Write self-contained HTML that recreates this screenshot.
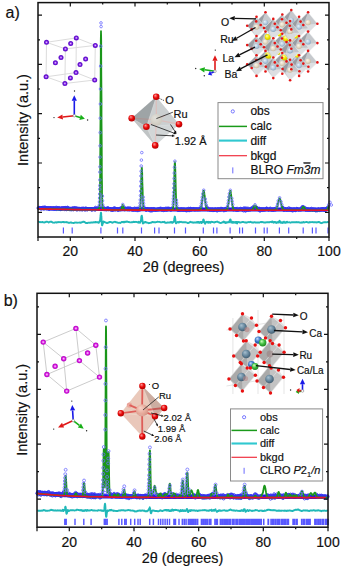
<!DOCTYPE html>
<html><head><meta charset="utf-8"><style>
html,body{margin:0;padding:0;background:#fff;width:342px;height:570px;overflow:hidden}
svg{display:block}
text{font-family:"Liberation Sans", sans-serif;stroke:#111;stroke-width:0.18px}
</style></head><body>
<svg width="342" height="570" viewBox="0 0 342 570" font-family="Liberation Sans, sans-serif" fill="#111"><defs><radialGradient id="gO" cx="0.45" cy="0.42" r="0.6" fx="0.35" fy="0.3"><stop offset="0" stop-color="#ff9a9a"/><stop offset="0.55" stop-color="#e80808"/><stop offset="1" stop-color="#b00000"/></radialGradient><radialGradient id="gBe" cx="0.45" cy="0.42" r="0.6" fx="0.35" fy="0.3"><stop offset="0" stop-color="#fbf6ec"/><stop offset="0.55" stop-color="#e6dcc8"/><stop offset="1" stop-color="#c8b89c"/></radialGradient><radialGradient id="gBl" cx="0.45" cy="0.42" r="0.6" fx="0.35" fy="0.3"><stop offset="0" stop-color="#eaf2fa"/><stop offset="0.55" stop-color="#b8cde0"/><stop offset="1" stop-color="#8aa6c0"/></radialGradient><radialGradient id="gYe" cx="0.45" cy="0.42" r="0.6" fx="0.35" fy="0.3"><stop offset="0" stop-color="#ffffb0"/><stop offset="0.55" stop-color="#f0e800"/><stop offset="1" stop-color="#c8b800"/></radialGradient><radialGradient id="gRuA" cx="0.45" cy="0.42" r="0.6" fx="0.35" fy="0.3"><stop offset="0" stop-color="#f6f0e4"/><stop offset="0.55" stop-color="#e4d8c2"/><stop offset="1" stop-color="#cbbca0"/></radialGradient><radialGradient id="gRuB" cx="0.45" cy="0.42" r="0.6" fx="0.35" fy="0.3"><stop offset="0" stop-color="#fbd8d0"/><stop offset="0.55" stop-color="#e8a496"/><stop offset="1" stop-color="#c87a6a"/></radialGradient><radialGradient id="gDk" cx="0.45" cy="0.42" r="0.6" fx="0.35" fy="0.3"><stop offset="0" stop-color="#a8c0d0"/><stop offset="0.55" stop-color="#6a8aa0"/><stop offset="1" stop-color="#3e5a6e"/></radialGradient><radialGradient id="gCaB" cx="0.45" cy="0.42" r="0.6" fx="0.35" fy="0.3"><stop offset="0" stop-color="#c8e0ff"/><stop offset="0.55" stop-color="#3a78c8"/><stop offset="1" stop-color="#1a4a90"/></radialGradient><radialGradient id="gCaG" cx="0.45" cy="0.42" r="0.6" fx="0.35" fy="0.3"><stop offset="0" stop-color="#d0ffc0"/><stop offset="0.55" stop-color="#40c040"/><stop offset="1" stop-color="#208020"/></radialGradient><radialGradient id="gPu" cx="0.5" cy="0.5" r="0.5"><stop offset="0" stop-color="#f4d8ff"/><stop offset="0.35" stop-color="#a050f0"/><stop offset="0.6" stop-color="#6a14d8"/><stop offset="1" stop-color="#5a0cc0"/></radialGradient><radialGradient id="gMg" cx="0.5" cy="0.5" r="0.5"><stop offset="0" stop-color="#ffe0ff"/><stop offset="0.35" stop-color="#e860f0"/><stop offset="0.6" stop-color="#d010d8"/><stop offset="1" stop-color="#b008c0"/></radialGradient></defs><rect width="342" height="570" fill="#fff"/><text x="5.5" y="17.5" font-size="16">a)</text>
<text x="3.7" y="306" font-size="16">b)</text>
<path d="M46.5 42.3L76.3 37.9M76.3 37.9L95.3 45.4M95.3 45.4L65.4 48.9M65.4 48.9L46.5 42.3M46.1 76.8L76 72.6M76 72.6L94.7 80M94.7 80L64.9 83.5M64.9 83.5L46.1 76.8M46.5 42.3L46.1 76.8M76.3 37.9L76 72.6M95.3 45.4L94.7 80M65.4 48.9L64.9 83.5" stroke="#dcdcdc" stroke-width="1" fill="none"/>
<circle cx="46.5" cy="42.3" r="2.5" fill="url(#gPu)"/>
<circle cx="76.3" cy="37.9" r="2.5" fill="url(#gPu)"/>
<circle cx="95.3" cy="45.4" r="2.5" fill="url(#gPu)"/>
<circle cx="65.4" cy="48.9" r="2.5" fill="url(#gPu)"/>
<circle cx="46.1" cy="76.8" r="2.5" fill="url(#gPu)"/>
<circle cx="76" cy="72.6" r="2.5" fill="url(#gPu)"/>
<circle cx="94.7" cy="80" r="2.5" fill="url(#gPu)"/>
<circle cx="64.9" cy="83.5" r="2.5" fill="url(#gPu)"/>
<circle cx="70.7" cy="43.5" r="2.5" fill="url(#gPu)"/>
<circle cx="55.4" cy="62.8" r="2.5" fill="url(#gPu)"/>
<circle cx="61" cy="57.5" r="2.5" fill="url(#gPu)"/>
<circle cx="80" cy="64.6" r="2.5" fill="url(#gPu)"/>
<circle cx="85.6" cy="59" r="2.5" fill="url(#gPu)"/>
<circle cx="70.4" cy="77.9" r="2.5" fill="url(#gPu)"/>
<path d="M74.3 115.7L74.3 100.8" stroke="#1a1ae8" stroke-width="1.6"/>
<path d="M74.3 95.3L76.9 100.8L71.7 100.8Z" fill="#1a1ae8"/>
<path d="M74.3 115.7L62.7 117" stroke="#e01818" stroke-width="1.6"/>
<path d="M57.2 117.6L62.4 114.4L63 119.6Z" fill="#e01818"/>
<path d="M74.3 115.7L80.1 117.4" stroke="#18b018" stroke-width="1.6"/>
<path d="M84.9 118.7L79.4 119.9L80.8 114.8Z" fill="#18b018"/>
<circle cx="74.3" cy="115.7" r="1.3" fill="#fff" stroke="#888" stroke-width="0.6"/>
<circle cx="74.5" cy="91" r="0.7" fill="#222"/>
<circle cx="54" cy="117.6" r="0.7" fill="#222"/>
<circle cx="87.6" cy="120" r="0.7" fill="#222"/>
<path d="M38.3 208 40.3 208.1 42.3 208.1 44.3 208.2 46.3 208.2 48.3 208.3 50.3 208.3 52.3 208.4 54.3 208.4 56.3 208.5 58.3 208.5 60.3 208.5 62.3 208.6 64.3 208.6 66.3 208.6 68.3 208.7 70.3 208.7 72.3 208.7 74.3 208.8 76.3 208.8 78.3 208.8 80.3 208.9 82.3 208.9 84.3 208.9 86.3 208.9 88.3 209 90.3 209 92.3 209 94.3 209 96.3 209 98.2 209.1 98.7 209.1 99 209.1 99.5 209.1 99.8 209.1 100.2 209.1 100.7 209.1 101 209.1 101.3 209.1 101.8 209.1 102.2 209.1 102.5 209.1 103 209.1 103.3 209.1 103.8 209.1 105.5 209.1 107.5 209.1 109.5 209.1 111.5 209.2 113.5 209.2 115.5 209.2 117.5 209.2 119.5 209.2 121.5 209.2 123.1 209.2 125.1 209.2 127.1 209.2 129.1 209.3 131.1 209.3 133.1 209.3 135.1 209.3 137.1 209.3 138.2 209.3 138.7 209.3 139.1 209.3 139.4 209.3 139.8 209.3 140.2 209.3 140.7 209.3 141.1 209.3 141.4 209.3 141.8 209.3 142.2 209.3 142.6 209.3 142.9 209.3 143.3 209.3 143.8 209.3 144.2 209.3 144.6 209.3 144.9 209.3 145.3 209.3 146.3 209.3 148.3 209.3 150.3 209.3 152.3 209.3 154.3 209.4 156.3 209.4 158.3 209.4 160.3 209.4 162.3 209.4 164.3 209.4 166.3 209.4 168.3 209.4 170.3 209.4 171.2 209.4 171.7 209.4 172.2 209.4 172.7 209.4 173.2 209.4 173.7 209.4 174.2 209.4 174.7 209.4 175.2 209.4 175.7 209.4 176.2 209.4 176.7 209.4 177.2 209.4 177.7 209.4 178.2 209.4 178.7 209.4 179.9 209.4 181.9 209.4 183.9 209.4 185.9 209.4 187.9 209.4 189.9 209.4 191.9 209.4 193.9 209.4 195.9 209.4 196.7 209.4 197.1 209.4 197.5 209.4 197.9 209.4 198.3 209.4 198.7 209.4 199.1 209.4 199.5 209.4 199.9 209.4 200.3 209.4 200.7 209.4 201.1 209.4 201.5 209.4 201.9 209.4 202.3 209.4 202.7 209.4 203.1 209.4 203.5 209.4 203.8 209.4 204.2 209.4 204.7 209.4 205.1 209.4 205.4 209.4 205.8 209.4 206.2 209.4 206.7 209.4 207.1 209.4 207.4 209.4 207.8 209.4 208.2 209.5 208.7 209.5 209.1 209.5 209.4 209.5 209.8 209.5 210.2 209.5 210.7 209.5 211.1 209.5 213.1 209.5 215.1 209.5 217.1 209.5 219.1 209.5 221.1 209.5 223.1 209.5 223.4 209.5 223.8 209.5 224.2 209.5 224.7 209.5 225.1 209.5 225.4 209.5 225.8 209.5 226.2 209.5 226.7 209.5 227.1 209.5 227.4 209.5 227.8 209.5 228.2 209.5 228.7 209.5 229.1 209.5 229.4 209.5 229.8 209.5 230.2 209.5 230.7 209.5 231.1 209.5 231.4 209.5 231.8 209.5 232.2 209.5 232.7 209.5 233.1 209.5 233.4 209.5 233.8 209.5 234.2 209.5 234.7 209.5 235.1 209.5 235.4 209.5 235.8 209.5 236.2 209.5 236.7 209.5 237.1 209.5 237.4 209.5 238.7 209.5 240.7 209.5 242.7 209.5 244.7 209.5 246.7 209.5 248.7 209.5 250.7 209.5 252.7 209.5 254.7 209.5 256.3 209.5 258.3 209.5 260.3 209.5 262.3 209.5 264.3 209.5 266.3 209.5 268.3 209.5 270.3 209.5 271.4 209.5 271.9 209.5 272.4 209.5 272.9 209.5 273.4 209.5 273.9 209.5 274.4 209.5 274.9 209.5 275.4 209.5 275.9 209.5 276.4 209.5 276.9 209.5 277.4 209.5 277.9 209.5 278.4 209.5 278.9 209.5 279.4 209.5 279.9 209.5 280.4 209.5 280.9 209.5 281.4 209.5 281.9 209.5 282.4 209.5 282.9 209.5 283.4 209.5 283.9 209.5 284.4 209.5 284.9 209.5 285.4 209.5 285.9 209.5 286.4 209.5 286.9 209.5 287.4 209.5 287.9 209.5 289.5 209.5 291.5 209.5 293.5 209.5 295.5 209.5 297.5 209.5 299.5 209.5 301.5 209.5 303.4 209.5 305.1 209.5 307.1 209.5 309.1 209.5 311.1 209.5 313.1 209.5 315.1 209.5 317.1 209.5 319.1 209.5 321.1 209.5 323.1 209.5 325.1 209.5 327.1 209.5" fill="none" stroke="#1818e8" stroke-width="4.0"/>
<path d="M37 208a1.3 1.3 0 1 0 2.6 0a1.3 1.3 0 1 0 -2.6 0M37.4 208.4a1.3 1.3 0 1 0 2.6 0a1.3 1.3 0 1 0 -2.6 0M37.8 208a1.3 1.3 0 1 0 2.6 0a1.3 1.3 0 1 0 -2.6 0M38.2 208a1.3 1.3 0 1 0 2.6 0a1.3 1.3 0 1 0 -2.6 0M38.6 207.6a1.3 1.3 0 1 0 2.6 0a1.3 1.3 0 1 0 -2.6 0M39 208a1.3 1.3 0 1 0 2.6 0a1.3 1.3 0 1 0 -2.6 0M39.4 208.8a1.3 1.3 0 1 0 2.6 0a1.3 1.3 0 1 0 -2.6 0M39.8 208.4a1.3 1.3 0 1 0 2.6 0a1.3 1.3 0 1 0 -2.6 0M40.2 208.8a1.3 1.3 0 1 0 2.6 0a1.3 1.3 0 1 0 -2.6 0M40.6 208.3a1.3 1.3 0 1 0 2.6 0a1.3 1.3 0 1 0 -2.6 0M41 208.4a1.3 1.3 0 1 0 2.6 0a1.3 1.3 0 1 0 -2.6 0M41.4 208.3a1.3 1.3 0 1 0 2.6 0a1.3 1.3 0 1 0 -2.6 0M41.8 207.3a1.3 1.3 0 1 0 2.6 0a1.3 1.3 0 1 0 -2.6 0M42.2 208.7a1.3 1.3 0 1 0 2.6 0a1.3 1.3 0 1 0 -2.6 0M42.6 208.5a1.3 1.3 0 1 0 2.6 0a1.3 1.3 0 1 0 -2.6 0M43 208.5a1.3 1.3 0 1 0 2.6 0a1.3 1.3 0 1 0 -2.6 0M43.4 207.4a1.3 1.3 0 1 0 2.6 0a1.3 1.3 0 1 0 -2.6 0M43.8 207.3a1.3 1.3 0 1 0 2.6 0a1.3 1.3 0 1 0 -2.6 0M44.2 207.8a1.3 1.3 0 1 0 2.6 0a1.3 1.3 0 1 0 -2.6 0M44.6 208.1a1.3 1.3 0 1 0 2.6 0a1.3 1.3 0 1 0 -2.6 0M45 208.5a1.3 1.3 0 1 0 2.6 0a1.3 1.3 0 1 0 -2.6 0M45.4 208.3a1.3 1.3 0 1 0 2.6 0a1.3 1.3 0 1 0 -2.6 0M45.8 208.6a1.3 1.3 0 1 0 2.6 0a1.3 1.3 0 1 0 -2.6 0M46.2 208a1.3 1.3 0 1 0 2.6 0a1.3 1.3 0 1 0 -2.6 0M46.6 208.5a1.3 1.3 0 1 0 2.6 0a1.3 1.3 0 1 0 -2.6 0M47 208.6a1.3 1.3 0 1 0 2.6 0a1.3 1.3 0 1 0 -2.6 0M47.4 208a1.3 1.3 0 1 0 2.6 0a1.3 1.3 0 1 0 -2.6 0M47.8 209.3a1.3 1.3 0 1 0 2.6 0a1.3 1.3 0 1 0 -2.6 0M48.2 208.7a1.3 1.3 0 1 0 2.6 0a1.3 1.3 0 1 0 -2.6 0M48.6 209.1a1.3 1.3 0 1 0 2.6 0a1.3 1.3 0 1 0 -2.6 0M49 208.1a1.3 1.3 0 1 0 2.6 0a1.3 1.3 0 1 0 -2.6 0M49.4 208a1.3 1.3 0 1 0 2.6 0a1.3 1.3 0 1 0 -2.6 0M49.8 208.3a1.3 1.3 0 1 0 2.6 0a1.3 1.3 0 1 0 -2.6 0M50.2 208.4a1.3 1.3 0 1 0 2.6 0a1.3 1.3 0 1 0 -2.6 0M50.6 208.8a1.3 1.3 0 1 0 2.6 0a1.3 1.3 0 1 0 -2.6 0M51 208.6a1.3 1.3 0 1 0 2.6 0a1.3 1.3 0 1 0 -2.6 0M51.4 208.2a1.3 1.3 0 1 0 2.6 0a1.3 1.3 0 1 0 -2.6 0M51.8 208a1.3 1.3 0 1 0 2.6 0a1.3 1.3 0 1 0 -2.6 0M52.2 208.2a1.3 1.3 0 1 0 2.6 0a1.3 1.3 0 1 0 -2.6 0M52.6 209.2a1.3 1.3 0 1 0 2.6 0a1.3 1.3 0 1 0 -2.6 0M53 208.1a1.3 1.3 0 1 0 2.6 0a1.3 1.3 0 1 0 -2.6 0M53.4 208.7a1.3 1.3 0 1 0 2.6 0a1.3 1.3 0 1 0 -2.6 0M53.8 208.8a1.3 1.3 0 1 0 2.6 0a1.3 1.3 0 1 0 -2.6 0M54.2 207.7a1.3 1.3 0 1 0 2.6 0a1.3 1.3 0 1 0 -2.6 0M54.6 208.6a1.3 1.3 0 1 0 2.6 0a1.3 1.3 0 1 0 -2.6 0M55 209.3a1.3 1.3 0 1 0 2.6 0a1.3 1.3 0 1 0 -2.6 0M55.4 207.5a1.3 1.3 0 1 0 2.6 0a1.3 1.3 0 1 0 -2.6 0M55.8 208.4a1.3 1.3 0 1 0 2.6 0a1.3 1.3 0 1 0 -2.6 0M56.2 208.5a1.3 1.3 0 1 0 2.6 0a1.3 1.3 0 1 0 -2.6 0M56.6 208.1a1.3 1.3 0 1 0 2.6 0a1.3 1.3 0 1 0 -2.6 0M57 208.9a1.3 1.3 0 1 0 2.6 0a1.3 1.3 0 1 0 -2.6 0M57.4 208.6a1.3 1.3 0 1 0 2.6 0a1.3 1.3 0 1 0 -2.6 0M57.8 207.8a1.3 1.3 0 1 0 2.6 0a1.3 1.3 0 1 0 -2.6 0M58.2 209.1a1.3 1.3 0 1 0 2.6 0a1.3 1.3 0 1 0 -2.6 0M58.6 209a1.3 1.3 0 1 0 2.6 0a1.3 1.3 0 1 0 -2.6 0M59 209.2a1.3 1.3 0 1 0 2.6 0a1.3 1.3 0 1 0 -2.6 0M59.4 209.4a1.3 1.3 0 1 0 2.6 0a1.3 1.3 0 1 0 -2.6 0M59.8 208.8a1.3 1.3 0 1 0 2.6 0a1.3 1.3 0 1 0 -2.6 0M60.2 208.7a1.3 1.3 0 1 0 2.6 0a1.3 1.3 0 1 0 -2.6 0M60.6 207.9a1.3 1.3 0 1 0 2.6 0a1.3 1.3 0 1 0 -2.6 0M61 209a1.3 1.3 0 1 0 2.6 0a1.3 1.3 0 1 0 -2.6 0M61.4 208.3a1.3 1.3 0 1 0 2.6 0a1.3 1.3 0 1 0 -2.6 0M61.8 208.4a1.3 1.3 0 1 0 2.6 0a1.3 1.3 0 1 0 -2.6 0M62.2 208a1.3 1.3 0 1 0 2.6 0a1.3 1.3 0 1 0 -2.6 0M62.6 208.2a1.3 1.3 0 1 0 2.6 0a1.3 1.3 0 1 0 -2.6 0M63 208.4a1.3 1.3 0 1 0 2.6 0a1.3 1.3 0 1 0 -2.6 0M63.4 209.4a1.3 1.3 0 1 0 2.6 0a1.3 1.3 0 1 0 -2.6 0M63.8 207.6a1.3 1.3 0 1 0 2.6 0a1.3 1.3 0 1 0 -2.6 0M64.2 207.9a1.3 1.3 0 1 0 2.6 0a1.3 1.3 0 1 0 -2.6 0M64.6 208.9a1.3 1.3 0 1 0 2.6 0a1.3 1.3 0 1 0 -2.6 0M65 209.5a1.3 1.3 0 1 0 2.6 0a1.3 1.3 0 1 0 -2.6 0M65.4 209.1a1.3 1.3 0 1 0 2.6 0a1.3 1.3 0 1 0 -2.6 0M65.8 207.7a1.3 1.3 0 1 0 2.6 0a1.3 1.3 0 1 0 -2.6 0M66.2 207.4a1.3 1.3 0 1 0 2.6 0a1.3 1.3 0 1 0 -2.6 0M66.6 209a1.3 1.3 0 1 0 2.6 0a1.3 1.3 0 1 0 -2.6 0M67 208.4a1.3 1.3 0 1 0 2.6 0a1.3 1.3 0 1 0 -2.6 0M67.4 208.2a1.3 1.3 0 1 0 2.6 0a1.3 1.3 0 1 0 -2.6 0M67.8 209.3a1.3 1.3 0 1 0 2.6 0a1.3 1.3 0 1 0 -2.6 0M68.2 209.4a1.3 1.3 0 1 0 2.6 0a1.3 1.3 0 1 0 -2.6 0M68.6 208.9a1.3 1.3 0 1 0 2.6 0a1.3 1.3 0 1 0 -2.6 0M69 208.9a1.3 1.3 0 1 0 2.6 0a1.3 1.3 0 1 0 -2.6 0M69.4 209.1a1.3 1.3 0 1 0 2.6 0a1.3 1.3 0 1 0 -2.6 0M69.8 209.7a1.3 1.3 0 1 0 2.6 0a1.3 1.3 0 1 0 -2.6 0M70.2 209.2a1.3 1.3 0 1 0 2.6 0a1.3 1.3 0 1 0 -2.6 0M70.6 209.1a1.3 1.3 0 1 0 2.6 0a1.3 1.3 0 1 0 -2.6 0M71 209.1a1.3 1.3 0 1 0 2.6 0a1.3 1.3 0 1 0 -2.6 0M71.4 208a1.3 1.3 0 1 0 2.6 0a1.3 1.3 0 1 0 -2.6 0M71.8 209.6a1.3 1.3 0 1 0 2.6 0a1.3 1.3 0 1 0 -2.6 0M72.2 209.4a1.3 1.3 0 1 0 2.6 0a1.3 1.3 0 1 0 -2.6 0M72.6 209.1a1.3 1.3 0 1 0 2.6 0a1.3 1.3 0 1 0 -2.6 0M73 207.8a1.3 1.3 0 1 0 2.6 0a1.3 1.3 0 1 0 -2.6 0M73.4 208.5a1.3 1.3 0 1 0 2.6 0a1.3 1.3 0 1 0 -2.6 0M73.8 209.3a1.3 1.3 0 1 0 2.6 0a1.3 1.3 0 1 0 -2.6 0M74.2 207.9a1.3 1.3 0 1 0 2.6 0a1.3 1.3 0 1 0 -2.6 0M74.6 208.8a1.3 1.3 0 1 0 2.6 0a1.3 1.3 0 1 0 -2.6 0M75 209.5a1.3 1.3 0 1 0 2.6 0a1.3 1.3 0 1 0 -2.6 0M75.4 208.2a1.3 1.3 0 1 0 2.6 0a1.3 1.3 0 1 0 -2.6 0M75.8 209.8a1.3 1.3 0 1 0 2.6 0a1.3 1.3 0 1 0 -2.6 0M76.2 209.2a1.3 1.3 0 1 0 2.6 0a1.3 1.3 0 1 0 -2.6 0M76.6 208.8a1.3 1.3 0 1 0 2.6 0a1.3 1.3 0 1 0 -2.6 0M77 209.1a1.3 1.3 0 1 0 2.6 0a1.3 1.3 0 1 0 -2.6 0M77.4 209.3a1.3 1.3 0 1 0 2.6 0a1.3 1.3 0 1 0 -2.6 0M77.8 209a1.3 1.3 0 1 0 2.6 0a1.3 1.3 0 1 0 -2.6 0M78.2 209.6a1.3 1.3 0 1 0 2.6 0a1.3 1.3 0 1 0 -2.6 0M78.6 208.6a1.3 1.3 0 1 0 2.6 0a1.3 1.3 0 1 0 -2.6 0M79 208.7a1.3 1.3 0 1 0 2.6 0a1.3 1.3 0 1 0 -2.6 0M79.4 209.5a1.3 1.3 0 1 0 2.6 0a1.3 1.3 0 1 0 -2.6 0M79.8 209a1.3 1.3 0 1 0 2.6 0a1.3 1.3 0 1 0 -2.6 0M80.2 208.5a1.3 1.3 0 1 0 2.6 0a1.3 1.3 0 1 0 -2.6 0M80.6 209.5a1.3 1.3 0 1 0 2.6 0a1.3 1.3 0 1 0 -2.6 0M81 209.8a1.3 1.3 0 1 0 2.6 0a1.3 1.3 0 1 0 -2.6 0M81.4 208.7a1.3 1.3 0 1 0 2.6 0a1.3 1.3 0 1 0 -2.6 0M81.8 208.2a1.3 1.3 0 1 0 2.6 0a1.3 1.3 0 1 0 -2.6 0M82.2 208.9a1.3 1.3 0 1 0 2.6 0a1.3 1.3 0 1 0 -2.6 0M82.6 208.9a1.3 1.3 0 1 0 2.6 0a1.3 1.3 0 1 0 -2.6 0M83 208.8a1.3 1.3 0 1 0 2.6 0a1.3 1.3 0 1 0 -2.6 0M83.4 209.8a1.3 1.3 0 1 0 2.6 0a1.3 1.3 0 1 0 -2.6 0M83.8 208.4a1.3 1.3 0 1 0 2.6 0a1.3 1.3 0 1 0 -2.6 0M84.2 209.7a1.3 1.3 0 1 0 2.6 0a1.3 1.3 0 1 0 -2.6 0M84.6 208.3a1.3 1.3 0 1 0 2.6 0a1.3 1.3 0 1 0 -2.6 0M85 208.6a1.3 1.3 0 1 0 2.6 0a1.3 1.3 0 1 0 -2.6 0M85.4 209.4a1.3 1.3 0 1 0 2.6 0a1.3 1.3 0 1 0 -2.6 0M85.8 209.6a1.3 1.3 0 1 0 2.6 0a1.3 1.3 0 1 0 -2.6 0M86.2 209.5a1.3 1.3 0 1 0 2.6 0a1.3 1.3 0 1 0 -2.6 0M86.6 209.2a1.3 1.3 0 1 0 2.6 0a1.3 1.3 0 1 0 -2.6 0M87 209.1a1.3 1.3 0 1 0 2.6 0a1.3 1.3 0 1 0 -2.6 0M87.4 209.1a1.3 1.3 0 1 0 2.6 0a1.3 1.3 0 1 0 -2.6 0M87.8 209.3a1.3 1.3 0 1 0 2.6 0a1.3 1.3 0 1 0 -2.6 0M88.2 208.9a1.3 1.3 0 1 0 2.6 0a1.3 1.3 0 1 0 -2.6 0M88.6 209.2a1.3 1.3 0 1 0 2.6 0a1.3 1.3 0 1 0 -2.6 0M89 209.3a1.3 1.3 0 1 0 2.6 0a1.3 1.3 0 1 0 -2.6 0M89.4 209a1.3 1.3 0 1 0 2.6 0a1.3 1.3 0 1 0 -2.6 0M89.8 209.4a1.3 1.3 0 1 0 2.6 0a1.3 1.3 0 1 0 -2.6 0M90.2 209.3a1.3 1.3 0 1 0 2.6 0a1.3 1.3 0 1 0 -2.6 0M90.6 210.1a1.3 1.3 0 1 0 2.6 0a1.3 1.3 0 1 0 -2.6 0M91 209.2a1.3 1.3 0 1 0 2.6 0a1.3 1.3 0 1 0 -2.6 0M91.4 208.8a1.3 1.3 0 1 0 2.6 0a1.3 1.3 0 1 0 -2.6 0M91.8 208.8a1.3 1.3 0 1 0 2.6 0a1.3 1.3 0 1 0 -2.6 0M92.2 209a1.3 1.3 0 1 0 2.6 0a1.3 1.3 0 1 0 -2.6 0M92.6 209.5a1.3 1.3 0 1 0 2.6 0a1.3 1.3 0 1 0 -2.6 0M93 208.8a1.3 1.3 0 1 0 2.6 0a1.3 1.3 0 1 0 -2.6 0M93.4 209.2a1.3 1.3 0 1 0 2.6 0a1.3 1.3 0 1 0 -2.6 0M93.8 210a1.3 1.3 0 1 0 2.6 0a1.3 1.3 0 1 0 -2.6 0M94.2 207.5a1.3 1.3 0 1 0 2.6 0a1.3 1.3 0 1 0 -2.6 0M94.6 208.3a1.3 1.3 0 1 0 2.6 0a1.3 1.3 0 1 0 -2.6 0M95 209a1.3 1.3 0 1 0 2.6 0a1.3 1.3 0 1 0 -2.6 0M95.4 209a1.3 1.3 0 1 0 2.6 0a1.3 1.3 0 1 0 -2.6 0M95.8 208.9a1.3 1.3 0 1 0 2.6 0a1.3 1.3 0 1 0 -2.6 0M96.2 208.5a1.3 1.3 0 1 0 2.6 0a1.3 1.3 0 1 0 -2.6 0M96.6 208.9a1.3 1.3 0 1 0 2.6 0a1.3 1.3 0 1 0 -2.6 0M97 208.1a1.3 1.3 0 1 0 2.6 0a1.3 1.3 0 1 0 -2.6 0M97.4 208a1.3 1.3 0 1 0 2.6 0a1.3 1.3 0 1 0 -2.6 0M97.8 207a1.3 1.3 0 1 0 2.6 0a1.3 1.3 0 1 0 -2.6 0M101.4 208.1a1.3 1.3 0 1 0 2.6 0a1.3 1.3 0 1 0 -2.6 0M101.8 206.9a1.3 1.3 0 1 0 2.6 0a1.3 1.3 0 1 0 -2.6 0M102.2 208.6a1.3 1.3 0 1 0 2.6 0a1.3 1.3 0 1 0 -2.6 0M102.6 209.4a1.3 1.3 0 1 0 2.6 0a1.3 1.3 0 1 0 -2.6 0M103 209.5a1.3 1.3 0 1 0 2.6 0a1.3 1.3 0 1 0 -2.6 0M103.4 208.7a1.3 1.3 0 1 0 2.6 0a1.3 1.3 0 1 0 -2.6 0M103.8 208.5a1.3 1.3 0 1 0 2.6 0a1.3 1.3 0 1 0 -2.6 0M104.2 209.5a1.3 1.3 0 1 0 2.6 0a1.3 1.3 0 1 0 -2.6 0M104.6 209a1.3 1.3 0 1 0 2.6 0a1.3 1.3 0 1 0 -2.6 0M105 209.1a1.3 1.3 0 1 0 2.6 0a1.3 1.3 0 1 0 -2.6 0M105.4 209.8a1.3 1.3 0 1 0 2.6 0a1.3 1.3 0 1 0 -2.6 0M105.8 208.9a1.3 1.3 0 1 0 2.6 0a1.3 1.3 0 1 0 -2.6 0M106.2 207.8a1.3 1.3 0 1 0 2.6 0a1.3 1.3 0 1 0 -2.6 0M106.6 208.9a1.3 1.3 0 1 0 2.6 0a1.3 1.3 0 1 0 -2.6 0M107 208.1a1.3 1.3 0 1 0 2.6 0a1.3 1.3 0 1 0 -2.6 0M107.4 209.6a1.3 1.3 0 1 0 2.6 0a1.3 1.3 0 1 0 -2.6 0M107.8 209.3a1.3 1.3 0 1 0 2.6 0a1.3 1.3 0 1 0 -2.6 0M108.2 208.8a1.3 1.3 0 1 0 2.6 0a1.3 1.3 0 1 0 -2.6 0M108.6 209.2a1.3 1.3 0 1 0 2.6 0a1.3 1.3 0 1 0 -2.6 0M109 209.6a1.3 1.3 0 1 0 2.6 0a1.3 1.3 0 1 0 -2.6 0M109.4 209.2a1.3 1.3 0 1 0 2.6 0a1.3 1.3 0 1 0 -2.6 0M109.8 209.9a1.3 1.3 0 1 0 2.6 0a1.3 1.3 0 1 0 -2.6 0M110.2 209.2a1.3 1.3 0 1 0 2.6 0a1.3 1.3 0 1 0 -2.6 0M110.6 209.8a1.3 1.3 0 1 0 2.6 0a1.3 1.3 0 1 0 -2.6 0M111 210a1.3 1.3 0 1 0 2.6 0a1.3 1.3 0 1 0 -2.6 0M111.4 210.1a1.3 1.3 0 1 0 2.6 0a1.3 1.3 0 1 0 -2.6 0M111.8 208.8a1.3 1.3 0 1 0 2.6 0a1.3 1.3 0 1 0 -2.6 0M112.2 209.7a1.3 1.3 0 1 0 2.6 0a1.3 1.3 0 1 0 -2.6 0M112.6 208.2a1.3 1.3 0 1 0 2.6 0a1.3 1.3 0 1 0 -2.6 0M113 208.6a1.3 1.3 0 1 0 2.6 0a1.3 1.3 0 1 0 -2.6 0M113.4 208.1a1.3 1.3 0 1 0 2.6 0a1.3 1.3 0 1 0 -2.6 0M113.8 209.8a1.3 1.3 0 1 0 2.6 0a1.3 1.3 0 1 0 -2.6 0M114.2 208.6a1.3 1.3 0 1 0 2.6 0a1.3 1.3 0 1 0 -2.6 0M114.6 209.2a1.3 1.3 0 1 0 2.6 0a1.3 1.3 0 1 0 -2.6 0M115 209.1a1.3 1.3 0 1 0 2.6 0a1.3 1.3 0 1 0 -2.6 0M115.4 209.2a1.3 1.3 0 1 0 2.6 0a1.3 1.3 0 1 0 -2.6 0M115.8 208.9a1.3 1.3 0 1 0 2.6 0a1.3 1.3 0 1 0 -2.6 0M116.2 209.4a1.3 1.3 0 1 0 2.6 0a1.3 1.3 0 1 0 -2.6 0M116.6 210.2a1.3 1.3 0 1 0 2.6 0a1.3 1.3 0 1 0 -2.6 0M117 209.3a1.3 1.3 0 1 0 2.6 0a1.3 1.3 0 1 0 -2.6 0M117.4 209.5a1.3 1.3 0 1 0 2.6 0a1.3 1.3 0 1 0 -2.6 0M117.8 209.8a1.3 1.3 0 1 0 2.6 0a1.3 1.3 0 1 0 -2.6 0M118.2 209.1a1.3 1.3 0 1 0 2.6 0a1.3 1.3 0 1 0 -2.6 0M118.6 208.5a1.3 1.3 0 1 0 2.6 0a1.3 1.3 0 1 0 -2.6 0M119 208.9a1.3 1.3 0 1 0 2.6 0a1.3 1.3 0 1 0 -2.6 0M119.4 209.7a1.3 1.3 0 1 0 2.6 0a1.3 1.3 0 1 0 -2.6 0M119.8 208a1.3 1.3 0 1 0 2.6 0a1.3 1.3 0 1 0 -2.6 0M120.2 208a1.3 1.3 0 1 0 2.6 0a1.3 1.3 0 1 0 -2.6 0M120.6 207.5a1.3 1.3 0 1 0 2.6 0a1.3 1.3 0 1 0 -2.6 0M122.6 206.9a1.3 1.3 0 1 0 2.6 0a1.3 1.3 0 1 0 -2.6 0M123 208.3a1.3 1.3 0 1 0 2.6 0a1.3 1.3 0 1 0 -2.6 0M123.4 209.6a1.3 1.3 0 1 0 2.6 0a1.3 1.3 0 1 0 -2.6 0M123.8 208.9a1.3 1.3 0 1 0 2.6 0a1.3 1.3 0 1 0 -2.6 0M124.2 208.7a1.3 1.3 0 1 0 2.6 0a1.3 1.3 0 1 0 -2.6 0M124.6 208.8a1.3 1.3 0 1 0 2.6 0a1.3 1.3 0 1 0 -2.6 0M125 208.4a1.3 1.3 0 1 0 2.6 0a1.3 1.3 0 1 0 -2.6 0M125.4 209.2a1.3 1.3 0 1 0 2.6 0a1.3 1.3 0 1 0 -2.6 0M125.8 208.6a1.3 1.3 0 1 0 2.6 0a1.3 1.3 0 1 0 -2.6 0M126.2 209.5a1.3 1.3 0 1 0 2.6 0a1.3 1.3 0 1 0 -2.6 0M126.6 208a1.3 1.3 0 1 0 2.6 0a1.3 1.3 0 1 0 -2.6 0M127 209.5a1.3 1.3 0 1 0 2.6 0a1.3 1.3 0 1 0 -2.6 0M127.4 209a1.3 1.3 0 1 0 2.6 0a1.3 1.3 0 1 0 -2.6 0M127.8 208.2a1.3 1.3 0 1 0 2.6 0a1.3 1.3 0 1 0 -2.6 0M128.2 209.7a1.3 1.3 0 1 0 2.6 0a1.3 1.3 0 1 0 -2.6 0M128.6 209.2a1.3 1.3 0 1 0 2.6 0a1.3 1.3 0 1 0 -2.6 0M129 208.1a1.3 1.3 0 1 0 2.6 0a1.3 1.3 0 1 0 -2.6 0M129.4 208.8a1.3 1.3 0 1 0 2.6 0a1.3 1.3 0 1 0 -2.6 0M129.8 209.5a1.3 1.3 0 1 0 2.6 0a1.3 1.3 0 1 0 -2.6 0M130.2 209.1a1.3 1.3 0 1 0 2.6 0a1.3 1.3 0 1 0 -2.6 0M130.6 209.7a1.3 1.3 0 1 0 2.6 0a1.3 1.3 0 1 0 -2.6 0M131 209.7a1.3 1.3 0 1 0 2.6 0a1.3 1.3 0 1 0 -2.6 0M131.4 209.7a1.3 1.3 0 1 0 2.6 0a1.3 1.3 0 1 0 -2.6 0M131.8 209.5a1.3 1.3 0 1 0 2.6 0a1.3 1.3 0 1 0 -2.6 0M132.2 210a1.3 1.3 0 1 0 2.6 0a1.3 1.3 0 1 0 -2.6 0M132.6 209.7a1.3 1.3 0 1 0 2.6 0a1.3 1.3 0 1 0 -2.6 0M133 209.6a1.3 1.3 0 1 0 2.6 0a1.3 1.3 0 1 0 -2.6 0M133.4 208.2a1.3 1.3 0 1 0 2.6 0a1.3 1.3 0 1 0 -2.6 0M133.8 209.8a1.3 1.3 0 1 0 2.6 0a1.3 1.3 0 1 0 -2.6 0M134.2 210a1.3 1.3 0 1 0 2.6 0a1.3 1.3 0 1 0 -2.6 0M134.6 209.1a1.3 1.3 0 1 0 2.6 0a1.3 1.3 0 1 0 -2.6 0M135 209a1.3 1.3 0 1 0 2.6 0a1.3 1.3 0 1 0 -2.6 0M135.4 210.3a1.3 1.3 0 1 0 2.6 0a1.3 1.3 0 1 0 -2.6 0M135.8 208.3a1.3 1.3 0 1 0 2.6 0a1.3 1.3 0 1 0 -2.6 0M136.2 209.5a1.3 1.3 0 1 0 2.6 0a1.3 1.3 0 1 0 -2.6 0M136.6 210.5a1.3 1.3 0 1 0 2.6 0a1.3 1.3 0 1 0 -2.6 0M137 209.1a1.3 1.3 0 1 0 2.6 0a1.3 1.3 0 1 0 -2.6 0M137.4 209.2a1.3 1.3 0 1 0 2.6 0a1.3 1.3 0 1 0 -2.6 0M137.8 208.8a1.3 1.3 0 1 0 2.6 0a1.3 1.3 0 1 0 -2.6 0M138.2 210.2a1.3 1.3 0 1 0 2.6 0a1.3 1.3 0 1 0 -2.6 0M138.6 208.3a1.3 1.3 0 1 0 2.6 0a1.3 1.3 0 1 0 -2.6 0M142.2 207.1a1.3 1.3 0 1 0 2.6 0a1.3 1.3 0 1 0 -2.6 0M142.6 208.8a1.3 1.3 0 1 0 2.6 0a1.3 1.3 0 1 0 -2.6 0M143 208.9a1.3 1.3 0 1 0 2.6 0a1.3 1.3 0 1 0 -2.6 0M143.4 208.5a1.3 1.3 0 1 0 2.6 0a1.3 1.3 0 1 0 -2.6 0M143.8 209.4a1.3 1.3 0 1 0 2.6 0a1.3 1.3 0 1 0 -2.6 0M144.2 209.2a1.3 1.3 0 1 0 2.6 0a1.3 1.3 0 1 0 -2.6 0M144.6 210.1a1.3 1.3 0 1 0 2.6 0a1.3 1.3 0 1 0 -2.6 0M145 209.8a1.3 1.3 0 1 0 2.6 0a1.3 1.3 0 1 0 -2.6 0M145.4 209.8a1.3 1.3 0 1 0 2.6 0a1.3 1.3 0 1 0 -2.6 0M145.8 208.7a1.3 1.3 0 1 0 2.6 0a1.3 1.3 0 1 0 -2.6 0M146.2 209.2a1.3 1.3 0 1 0 2.6 0a1.3 1.3 0 1 0 -2.6 0M146.6 209.7a1.3 1.3 0 1 0 2.6 0a1.3 1.3 0 1 0 -2.6 0M147 209.2a1.3 1.3 0 1 0 2.6 0a1.3 1.3 0 1 0 -2.6 0M147.4 209.9a1.3 1.3 0 1 0 2.6 0a1.3 1.3 0 1 0 -2.6 0M147.8 209.7a1.3 1.3 0 1 0 2.6 0a1.3 1.3 0 1 0 -2.6 0M148.2 209.9a1.3 1.3 0 1 0 2.6 0a1.3 1.3 0 1 0 -2.6 0M148.6 209.3a1.3 1.3 0 1 0 2.6 0a1.3 1.3 0 1 0 -2.6 0M149 210.8a1.3 1.3 0 1 0 2.6 0a1.3 1.3 0 1 0 -2.6 0M149.4 210.1a1.3 1.3 0 1 0 2.6 0a1.3 1.3 0 1 0 -2.6 0M149.8 209.3a1.3 1.3 0 1 0 2.6 0a1.3 1.3 0 1 0 -2.6 0M150.2 209.4a1.3 1.3 0 1 0 2.6 0a1.3 1.3 0 1 0 -2.6 0M150.6 210.8a1.3 1.3 0 1 0 2.6 0a1.3 1.3 0 1 0 -2.6 0M151 209.2a1.3 1.3 0 1 0 2.6 0a1.3 1.3 0 1 0 -2.6 0M151.4 209.9a1.3 1.3 0 1 0 2.6 0a1.3 1.3 0 1 0 -2.6 0M151.8 210a1.3 1.3 0 1 0 2.6 0a1.3 1.3 0 1 0 -2.6 0M152.2 209.4a1.3 1.3 0 1 0 2.6 0a1.3 1.3 0 1 0 -2.6 0M152.6 208.8a1.3 1.3 0 1 0 2.6 0a1.3 1.3 0 1 0 -2.6 0M153 209.5a1.3 1.3 0 1 0 2.6 0a1.3 1.3 0 1 0 -2.6 0M153.4 209.6a1.3 1.3 0 1 0 2.6 0a1.3 1.3 0 1 0 -2.6 0M153.8 210a1.3 1.3 0 1 0 2.6 0a1.3 1.3 0 1 0 -2.6 0M154.2 209.9a1.3 1.3 0 1 0 2.6 0a1.3 1.3 0 1 0 -2.6 0M154.6 209.4a1.3 1.3 0 1 0 2.6 0a1.3 1.3 0 1 0 -2.6 0M155 209.9a1.3 1.3 0 1 0 2.6 0a1.3 1.3 0 1 0 -2.6 0M155.4 209.7a1.3 1.3 0 1 0 2.6 0a1.3 1.3 0 1 0 -2.6 0M155.8 209.5a1.3 1.3 0 1 0 2.6 0a1.3 1.3 0 1 0 -2.6 0M156.2 209.5a1.3 1.3 0 1 0 2.6 0a1.3 1.3 0 1 0 -2.6 0M156.6 209.3a1.3 1.3 0 1 0 2.6 0a1.3 1.3 0 1 0 -2.6 0M157 209.8a1.3 1.3 0 1 0 2.6 0a1.3 1.3 0 1 0 -2.6 0M157.4 208.9a1.3 1.3 0 1 0 2.6 0a1.3 1.3 0 1 0 -2.6 0M157.8 209.1a1.3 1.3 0 1 0 2.6 0a1.3 1.3 0 1 0 -2.6 0M158.2 209.4a1.3 1.3 0 1 0 2.6 0a1.3 1.3 0 1 0 -2.6 0M158.6 208.6a1.3 1.3 0 1 0 2.6 0a1.3 1.3 0 1 0 -2.6 0M159 209.2a1.3 1.3 0 1 0 2.6 0a1.3 1.3 0 1 0 -2.6 0M159.4 208.3a1.3 1.3 0 1 0 2.6 0a1.3 1.3 0 1 0 -2.6 0M159.8 209.1a1.3 1.3 0 1 0 2.6 0a1.3 1.3 0 1 0 -2.6 0M160.2 209.8a1.3 1.3 0 1 0 2.6 0a1.3 1.3 0 1 0 -2.6 0M160.6 209.8a1.3 1.3 0 1 0 2.6 0a1.3 1.3 0 1 0 -2.6 0M161 209.4a1.3 1.3 0 1 0 2.6 0a1.3 1.3 0 1 0 -2.6 0M161.4 209.3a1.3 1.3 0 1 0 2.6 0a1.3 1.3 0 1 0 -2.6 0M161.8 208.7a1.3 1.3 0 1 0 2.6 0a1.3 1.3 0 1 0 -2.6 0M162.2 210.4a1.3 1.3 0 1 0 2.6 0a1.3 1.3 0 1 0 -2.6 0M162.6 209.7a1.3 1.3 0 1 0 2.6 0a1.3 1.3 0 1 0 -2.6 0M163 210a1.3 1.3 0 1 0 2.6 0a1.3 1.3 0 1 0 -2.6 0M163.4 209a1.3 1.3 0 1 0 2.6 0a1.3 1.3 0 1 0 -2.6 0M163.8 209.3a1.3 1.3 0 1 0 2.6 0a1.3 1.3 0 1 0 -2.6 0M164.2 208.4a1.3 1.3 0 1 0 2.6 0a1.3 1.3 0 1 0 -2.6 0M164.6 209.9a1.3 1.3 0 1 0 2.6 0a1.3 1.3 0 1 0 -2.6 0M165 209.9a1.3 1.3 0 1 0 2.6 0a1.3 1.3 0 1 0 -2.6 0M165.4 208.4a1.3 1.3 0 1 0 2.6 0a1.3 1.3 0 1 0 -2.6 0M165.8 209.4a1.3 1.3 0 1 0 2.6 0a1.3 1.3 0 1 0 -2.6 0M166.2 209.8a1.3 1.3 0 1 0 2.6 0a1.3 1.3 0 1 0 -2.6 0M166.6 208.4a1.3 1.3 0 1 0 2.6 0a1.3 1.3 0 1 0 -2.6 0M167 208.4a1.3 1.3 0 1 0 2.6 0a1.3 1.3 0 1 0 -2.6 0M167.4 208.8a1.3 1.3 0 1 0 2.6 0a1.3 1.3 0 1 0 -2.6 0M167.8 209a1.3 1.3 0 1 0 2.6 0a1.3 1.3 0 1 0 -2.6 0M168.2 208.6a1.3 1.3 0 1 0 2.6 0a1.3 1.3 0 1 0 -2.6 0M168.6 209.4a1.3 1.3 0 1 0 2.6 0a1.3 1.3 0 1 0 -2.6 0M169 209.5a1.3 1.3 0 1 0 2.6 0a1.3 1.3 0 1 0 -2.6 0M169.4 209.7a1.3 1.3 0 1 0 2.6 0a1.3 1.3 0 1 0 -2.6 0M169.8 209.9a1.3 1.3 0 1 0 2.6 0a1.3 1.3 0 1 0 -2.6 0M170.2 208.6a1.3 1.3 0 1 0 2.6 0a1.3 1.3 0 1 0 -2.6 0M170.6 208.3a1.3 1.3 0 1 0 2.6 0a1.3 1.3 0 1 0 -2.6 0M171 208.9a1.3 1.3 0 1 0 2.6 0a1.3 1.3 0 1 0 -2.6 0M171.4 208.9a1.3 1.3 0 1 0 2.6 0a1.3 1.3 0 1 0 -2.6 0M175.4 208.6a1.3 1.3 0 1 0 2.6 0a1.3 1.3 0 1 0 -2.6 0M175.8 209.2a1.3 1.3 0 1 0 2.6 0a1.3 1.3 0 1 0 -2.6 0M176.2 208.4a1.3 1.3 0 1 0 2.6 0a1.3 1.3 0 1 0 -2.6 0M176.6 210.3a1.3 1.3 0 1 0 2.6 0a1.3 1.3 0 1 0 -2.6 0M177 209.2a1.3 1.3 0 1 0 2.6 0a1.3 1.3 0 1 0 -2.6 0M177.4 209.7a1.3 1.3 0 1 0 2.6 0a1.3 1.3 0 1 0 -2.6 0M177.8 210.2a1.3 1.3 0 1 0 2.6 0a1.3 1.3 0 1 0 -2.6 0M178.2 209.4a1.3 1.3 0 1 0 2.6 0a1.3 1.3 0 1 0 -2.6 0M178.6 209.5a1.3 1.3 0 1 0 2.6 0a1.3 1.3 0 1 0 -2.6 0M179 209.2a1.3 1.3 0 1 0 2.6 0a1.3 1.3 0 1 0 -2.6 0M179.4 210.2a1.3 1.3 0 1 0 2.6 0a1.3 1.3 0 1 0 -2.6 0M179.8 209a1.3 1.3 0 1 0 2.6 0a1.3 1.3 0 1 0 -2.6 0M180.2 209.8a1.3 1.3 0 1 0 2.6 0a1.3 1.3 0 1 0 -2.6 0M180.6 209.2a1.3 1.3 0 1 0 2.6 0a1.3 1.3 0 1 0 -2.6 0M181 209.1a1.3 1.3 0 1 0 2.6 0a1.3 1.3 0 1 0 -2.6 0M181.4 209.8a1.3 1.3 0 1 0 2.6 0a1.3 1.3 0 1 0 -2.6 0M181.8 210.2a1.3 1.3 0 1 0 2.6 0a1.3 1.3 0 1 0 -2.6 0M182.2 209.4a1.3 1.3 0 1 0 2.6 0a1.3 1.3 0 1 0 -2.6 0M182.6 209.1a1.3 1.3 0 1 0 2.6 0a1.3 1.3 0 1 0 -2.6 0M183 209.9a1.3 1.3 0 1 0 2.6 0a1.3 1.3 0 1 0 -2.6 0M183.4 209.4a1.3 1.3 0 1 0 2.6 0a1.3 1.3 0 1 0 -2.6 0M183.8 209.6a1.3 1.3 0 1 0 2.6 0a1.3 1.3 0 1 0 -2.6 0M184.2 210.3a1.3 1.3 0 1 0 2.6 0a1.3 1.3 0 1 0 -2.6 0M184.6 210.1a1.3 1.3 0 1 0 2.6 0a1.3 1.3 0 1 0 -2.6 0M185 209.2a1.3 1.3 0 1 0 2.6 0a1.3 1.3 0 1 0 -2.6 0M185.4 210.7a1.3 1.3 0 1 0 2.6 0a1.3 1.3 0 1 0 -2.6 0M185.8 209.5a1.3 1.3 0 1 0 2.6 0a1.3 1.3 0 1 0 -2.6 0M186.2 209.9a1.3 1.3 0 1 0 2.6 0a1.3 1.3 0 1 0 -2.6 0M186.6 209.1a1.3 1.3 0 1 0 2.6 0a1.3 1.3 0 1 0 -2.6 0M187 209.4a1.3 1.3 0 1 0 2.6 0a1.3 1.3 0 1 0 -2.6 0M187.4 208.5a1.3 1.3 0 1 0 2.6 0a1.3 1.3 0 1 0 -2.6 0M187.8 210.5a1.3 1.3 0 1 0 2.6 0a1.3 1.3 0 1 0 -2.6 0M188.2 210.2a1.3 1.3 0 1 0 2.6 0a1.3 1.3 0 1 0 -2.6 0M188.6 208.8a1.3 1.3 0 1 0 2.6 0a1.3 1.3 0 1 0 -2.6 0M189 208.6a1.3 1.3 0 1 0 2.6 0a1.3 1.3 0 1 0 -2.6 0M189.4 208.6a1.3 1.3 0 1 0 2.6 0a1.3 1.3 0 1 0 -2.6 0M189.8 210.1a1.3 1.3 0 1 0 2.6 0a1.3 1.3 0 1 0 -2.6 0M190.2 209.2a1.3 1.3 0 1 0 2.6 0a1.3 1.3 0 1 0 -2.6 0M190.6 209.4a1.3 1.3 0 1 0 2.6 0a1.3 1.3 0 1 0 -2.6 0M191 209.3a1.3 1.3 0 1 0 2.6 0a1.3 1.3 0 1 0 -2.6 0M191.4 209.4a1.3 1.3 0 1 0 2.6 0a1.3 1.3 0 1 0 -2.6 0M191.8 208.9a1.3 1.3 0 1 0 2.6 0a1.3 1.3 0 1 0 -2.6 0M192.2 209.5a1.3 1.3 0 1 0 2.6 0a1.3 1.3 0 1 0 -2.6 0M192.6 208.7a1.3 1.3 0 1 0 2.6 0a1.3 1.3 0 1 0 -2.6 0M193 209.4a1.3 1.3 0 1 0 2.6 0a1.3 1.3 0 1 0 -2.6 0M193.4 209.6a1.3 1.3 0 1 0 2.6 0a1.3 1.3 0 1 0 -2.6 0M193.8 209.7a1.3 1.3 0 1 0 2.6 0a1.3 1.3 0 1 0 -2.6 0M194.2 209.3a1.3 1.3 0 1 0 2.6 0a1.3 1.3 0 1 0 -2.6 0M194.6 208.9a1.3 1.3 0 1 0 2.6 0a1.3 1.3 0 1 0 -2.6 0M195 209.5a1.3 1.3 0 1 0 2.6 0a1.3 1.3 0 1 0 -2.6 0M195.4 209.3a1.3 1.3 0 1 0 2.6 0a1.3 1.3 0 1 0 -2.6 0M195.8 209.5a1.3 1.3 0 1 0 2.6 0a1.3 1.3 0 1 0 -2.6 0M196.2 209.4a1.3 1.3 0 1 0 2.6 0a1.3 1.3 0 1 0 -2.6 0M196.6 209.4a1.3 1.3 0 1 0 2.6 0a1.3 1.3 0 1 0 -2.6 0M197 209.7a1.3 1.3 0 1 0 2.6 0a1.3 1.3 0 1 0 -2.6 0M197.4 208.7a1.3 1.3 0 1 0 2.6 0a1.3 1.3 0 1 0 -2.6 0M197.8 209.4a1.3 1.3 0 1 0 2.6 0a1.3 1.3 0 1 0 -2.6 0M198.2 209.4a1.3 1.3 0 1 0 2.6 0a1.3 1.3 0 1 0 -2.6 0M198.6 209.4a1.3 1.3 0 1 0 2.6 0a1.3 1.3 0 1 0 -2.6 0M199 209.5a1.3 1.3 0 1 0 2.6 0a1.3 1.3 0 1 0 -2.6 0M199.4 208.1a1.3 1.3 0 1 0 2.6 0a1.3 1.3 0 1 0 -2.6 0M199.8 207.4a1.3 1.3 0 1 0 2.6 0a1.3 1.3 0 1 0 -2.6 0M205.4 206.9a1.3 1.3 0 1 0 2.6 0a1.3 1.3 0 1 0 -2.6 0M205.8 208.8a1.3 1.3 0 1 0 2.6 0a1.3 1.3 0 1 0 -2.6 0M206.2 208.3a1.3 1.3 0 1 0 2.6 0a1.3 1.3 0 1 0 -2.6 0M206.6 209.7a1.3 1.3 0 1 0 2.6 0a1.3 1.3 0 1 0 -2.6 0M207 208.8a1.3 1.3 0 1 0 2.6 0a1.3 1.3 0 1 0 -2.6 0M207.4 209.2a1.3 1.3 0 1 0 2.6 0a1.3 1.3 0 1 0 -2.6 0M207.8 209.2a1.3 1.3 0 1 0 2.6 0a1.3 1.3 0 1 0 -2.6 0M208.2 209.9a1.3 1.3 0 1 0 2.6 0a1.3 1.3 0 1 0 -2.6 0M208.6 209.9a1.3 1.3 0 1 0 2.6 0a1.3 1.3 0 1 0 -2.6 0M209 209.4a1.3 1.3 0 1 0 2.6 0a1.3 1.3 0 1 0 -2.6 0M209.4 209.2a1.3 1.3 0 1 0 2.6 0a1.3 1.3 0 1 0 -2.6 0M209.8 209.8a1.3 1.3 0 1 0 2.6 0a1.3 1.3 0 1 0 -2.6 0M210.2 210.2a1.3 1.3 0 1 0 2.6 0a1.3 1.3 0 1 0 -2.6 0M210.6 209.2a1.3 1.3 0 1 0 2.6 0a1.3 1.3 0 1 0 -2.6 0M211 209.4a1.3 1.3 0 1 0 2.6 0a1.3 1.3 0 1 0 -2.6 0M211.4 210.3a1.3 1.3 0 1 0 2.6 0a1.3 1.3 0 1 0 -2.6 0M211.8 209.3a1.3 1.3 0 1 0 2.6 0a1.3 1.3 0 1 0 -2.6 0M212.2 209.9a1.3 1.3 0 1 0 2.6 0a1.3 1.3 0 1 0 -2.6 0M212.6 210.4a1.3 1.3 0 1 0 2.6 0a1.3 1.3 0 1 0 -2.6 0M213 209.5a1.3 1.3 0 1 0 2.6 0a1.3 1.3 0 1 0 -2.6 0M213.4 210.1a1.3 1.3 0 1 0 2.6 0a1.3 1.3 0 1 0 -2.6 0M213.8 209.1a1.3 1.3 0 1 0 2.6 0a1.3 1.3 0 1 0 -2.6 0M214.2 209.6a1.3 1.3 0 1 0 2.6 0a1.3 1.3 0 1 0 -2.6 0M214.6 209.4a1.3 1.3 0 1 0 2.6 0a1.3 1.3 0 1 0 -2.6 0M215 209.5a1.3 1.3 0 1 0 2.6 0a1.3 1.3 0 1 0 -2.6 0M215.4 210.1a1.3 1.3 0 1 0 2.6 0a1.3 1.3 0 1 0 -2.6 0M215.8 210.8a1.3 1.3 0 1 0 2.6 0a1.3 1.3 0 1 0 -2.6 0M216.2 209.1a1.3 1.3 0 1 0 2.6 0a1.3 1.3 0 1 0 -2.6 0M216.6 209.2a1.3 1.3 0 1 0 2.6 0a1.3 1.3 0 1 0 -2.6 0M217 209.8a1.3 1.3 0 1 0 2.6 0a1.3 1.3 0 1 0 -2.6 0M217.4 208.9a1.3 1.3 0 1 0 2.6 0a1.3 1.3 0 1 0 -2.6 0M217.8 209.8a1.3 1.3 0 1 0 2.6 0a1.3 1.3 0 1 0 -2.6 0M218.2 209.8a1.3 1.3 0 1 0 2.6 0a1.3 1.3 0 1 0 -2.6 0M218.6 209.3a1.3 1.3 0 1 0 2.6 0a1.3 1.3 0 1 0 -2.6 0M219 209.8a1.3 1.3 0 1 0 2.6 0a1.3 1.3 0 1 0 -2.6 0M219.4 208.6a1.3 1.3 0 1 0 2.6 0a1.3 1.3 0 1 0 -2.6 0M219.8 209.9a1.3 1.3 0 1 0 2.6 0a1.3 1.3 0 1 0 -2.6 0M220.2 208.6a1.3 1.3 0 1 0 2.6 0a1.3 1.3 0 1 0 -2.6 0M220.6 209.1a1.3 1.3 0 1 0 2.6 0a1.3 1.3 0 1 0 -2.6 0M221 209.1a1.3 1.3 0 1 0 2.6 0a1.3 1.3 0 1 0 -2.6 0M221.4 209.2a1.3 1.3 0 1 0 2.6 0a1.3 1.3 0 1 0 -2.6 0M221.8 209.5a1.3 1.3 0 1 0 2.6 0a1.3 1.3 0 1 0 -2.6 0M222.2 209.6a1.3 1.3 0 1 0 2.6 0a1.3 1.3 0 1 0 -2.6 0M222.6 210.6a1.3 1.3 0 1 0 2.6 0a1.3 1.3 0 1 0 -2.6 0M223 209.7a1.3 1.3 0 1 0 2.6 0a1.3 1.3 0 1 0 -2.6 0M223.4 208.8a1.3 1.3 0 1 0 2.6 0a1.3 1.3 0 1 0 -2.6 0M223.8 209.1a1.3 1.3 0 1 0 2.6 0a1.3 1.3 0 1 0 -2.6 0M224.2 209.3a1.3 1.3 0 1 0 2.6 0a1.3 1.3 0 1 0 -2.6 0M224.6 210.2a1.3 1.3 0 1 0 2.6 0a1.3 1.3 0 1 0 -2.6 0M225 208.7a1.3 1.3 0 1 0 2.6 0a1.3 1.3 0 1 0 -2.6 0M225.4 208.9a1.3 1.3 0 1 0 2.6 0a1.3 1.3 0 1 0 -2.6 0M225.8 208.9a1.3 1.3 0 1 0 2.6 0a1.3 1.3 0 1 0 -2.6 0M226.2 207.5a1.3 1.3 0 1 0 2.6 0a1.3 1.3 0 1 0 -2.6 0M231.8 208a1.3 1.3 0 1 0 2.6 0a1.3 1.3 0 1 0 -2.6 0M232.2 209.9a1.3 1.3 0 1 0 2.6 0a1.3 1.3 0 1 0 -2.6 0M232.6 208.7a1.3 1.3 0 1 0 2.6 0a1.3 1.3 0 1 0 -2.6 0M233 209.2a1.3 1.3 0 1 0 2.6 0a1.3 1.3 0 1 0 -2.6 0M233.4 208.9a1.3 1.3 0 1 0 2.6 0a1.3 1.3 0 1 0 -2.6 0M233.8 209.6a1.3 1.3 0 1 0 2.6 0a1.3 1.3 0 1 0 -2.6 0M234.2 209.5a1.3 1.3 0 1 0 2.6 0a1.3 1.3 0 1 0 -2.6 0M234.6 208.8a1.3 1.3 0 1 0 2.6 0a1.3 1.3 0 1 0 -2.6 0M235 209.7a1.3 1.3 0 1 0 2.6 0a1.3 1.3 0 1 0 -2.6 0M235.4 210.2a1.3 1.3 0 1 0 2.6 0a1.3 1.3 0 1 0 -2.6 0M235.8 208.5a1.3 1.3 0 1 0 2.6 0a1.3 1.3 0 1 0 -2.6 0M236.2 209.8a1.3 1.3 0 1 0 2.6 0a1.3 1.3 0 1 0 -2.6 0M236.6 209.9a1.3 1.3 0 1 0 2.6 0a1.3 1.3 0 1 0 -2.6 0M237 209.8a1.3 1.3 0 1 0 2.6 0a1.3 1.3 0 1 0 -2.6 0M237.4 209.3a1.3 1.3 0 1 0 2.6 0a1.3 1.3 0 1 0 -2.6 0M237.8 209.5a1.3 1.3 0 1 0 2.6 0a1.3 1.3 0 1 0 -2.6 0M238.2 209.3a1.3 1.3 0 1 0 2.6 0a1.3 1.3 0 1 0 -2.6 0M238.6 209.3a1.3 1.3 0 1 0 2.6 0a1.3 1.3 0 1 0 -2.6 0M239 209.4a1.3 1.3 0 1 0 2.6 0a1.3 1.3 0 1 0 -2.6 0M239.4 208.5a1.3 1.3 0 1 0 2.6 0a1.3 1.3 0 1 0 -2.6 0M239.8 209.3a1.3 1.3 0 1 0 2.6 0a1.3 1.3 0 1 0 -2.6 0M240.2 209.5a1.3 1.3 0 1 0 2.6 0a1.3 1.3 0 1 0 -2.6 0M240.6 209a1.3 1.3 0 1 0 2.6 0a1.3 1.3 0 1 0 -2.6 0M241 209.5a1.3 1.3 0 1 0 2.6 0a1.3 1.3 0 1 0 -2.6 0M241.4 209.8a1.3 1.3 0 1 0 2.6 0a1.3 1.3 0 1 0 -2.6 0M241.8 209.4a1.3 1.3 0 1 0 2.6 0a1.3 1.3 0 1 0 -2.6 0M242.2 210.7a1.3 1.3 0 1 0 2.6 0a1.3 1.3 0 1 0 -2.6 0M242.6 208.1a1.3 1.3 0 1 0 2.6 0a1.3 1.3 0 1 0 -2.6 0M243 209.4a1.3 1.3 0 1 0 2.6 0a1.3 1.3 0 1 0 -2.6 0M243.4 208.5a1.3 1.3 0 1 0 2.6 0a1.3 1.3 0 1 0 -2.6 0M243.8 210.1a1.3 1.3 0 1 0 2.6 0a1.3 1.3 0 1 0 -2.6 0M244.2 211a1.3 1.3 0 1 0 2.6 0a1.3 1.3 0 1 0 -2.6 0M244.6 208.1a1.3 1.3 0 1 0 2.6 0a1.3 1.3 0 1 0 -2.6 0M245 209.6a1.3 1.3 0 1 0 2.6 0a1.3 1.3 0 1 0 -2.6 0M245.4 209.8a1.3 1.3 0 1 0 2.6 0a1.3 1.3 0 1 0 -2.6 0M245.8 209.3a1.3 1.3 0 1 0 2.6 0a1.3 1.3 0 1 0 -2.6 0M246.2 209.8a1.3 1.3 0 1 0 2.6 0a1.3 1.3 0 1 0 -2.6 0M246.6 208.3a1.3 1.3 0 1 0 2.6 0a1.3 1.3 0 1 0 -2.6 0M247 210a1.3 1.3 0 1 0 2.6 0a1.3 1.3 0 1 0 -2.6 0M247.4 209.7a1.3 1.3 0 1 0 2.6 0a1.3 1.3 0 1 0 -2.6 0M247.8 209.5a1.3 1.3 0 1 0 2.6 0a1.3 1.3 0 1 0 -2.6 0M248.2 209.1a1.3 1.3 0 1 0 2.6 0a1.3 1.3 0 1 0 -2.6 0M248.6 209.8a1.3 1.3 0 1 0 2.6 0a1.3 1.3 0 1 0 -2.6 0M249 209.2a1.3 1.3 0 1 0 2.6 0a1.3 1.3 0 1 0 -2.6 0M249.4 209.5a1.3 1.3 0 1 0 2.6 0a1.3 1.3 0 1 0 -2.6 0M249.8 209.1a1.3 1.3 0 1 0 2.6 0a1.3 1.3 0 1 0 -2.6 0M250.2 208a1.3 1.3 0 1 0 2.6 0a1.3 1.3 0 1 0 -2.6 0M250.6 209.1a1.3 1.3 0 1 0 2.6 0a1.3 1.3 0 1 0 -2.6 0M251 208.9a1.3 1.3 0 1 0 2.6 0a1.3 1.3 0 1 0 -2.6 0M251.4 208.8a1.3 1.3 0 1 0 2.6 0a1.3 1.3 0 1 0 -2.6 0M251.8 207.2a1.3 1.3 0 1 0 2.6 0a1.3 1.3 0 1 0 -2.6 0M252.2 206.8a1.3 1.3 0 1 0 2.6 0a1.3 1.3 0 1 0 -2.6 0M255 207.2a1.3 1.3 0 1 0 2.6 0a1.3 1.3 0 1 0 -2.6 0M255.4 207.8a1.3 1.3 0 1 0 2.6 0a1.3 1.3 0 1 0 -2.6 0M255.8 208.5a1.3 1.3 0 1 0 2.6 0a1.3 1.3 0 1 0 -2.6 0M256.2 208.3a1.3 1.3 0 1 0 2.6 0a1.3 1.3 0 1 0 -2.6 0M256.6 208.6a1.3 1.3 0 1 0 2.6 0a1.3 1.3 0 1 0 -2.6 0M257 209.7a1.3 1.3 0 1 0 2.6 0a1.3 1.3 0 1 0 -2.6 0M257.4 208.8a1.3 1.3 0 1 0 2.6 0a1.3 1.3 0 1 0 -2.6 0M257.8 208.4a1.3 1.3 0 1 0 2.6 0a1.3 1.3 0 1 0 -2.6 0M258.2 208.9a1.3 1.3 0 1 0 2.6 0a1.3 1.3 0 1 0 -2.6 0M258.6 210.8a1.3 1.3 0 1 0 2.6 0a1.3 1.3 0 1 0 -2.6 0M259 210.5a1.3 1.3 0 1 0 2.6 0a1.3 1.3 0 1 0 -2.6 0M259.4 209.1a1.3 1.3 0 1 0 2.6 0a1.3 1.3 0 1 0 -2.6 0M259.8 209.1a1.3 1.3 0 1 0 2.6 0a1.3 1.3 0 1 0 -2.6 0M260.2 209.6a1.3 1.3 0 1 0 2.6 0a1.3 1.3 0 1 0 -2.6 0M260.6 209.1a1.3 1.3 0 1 0 2.6 0a1.3 1.3 0 1 0 -2.6 0M261 210.2a1.3 1.3 0 1 0 2.6 0a1.3 1.3 0 1 0 -2.6 0M261.4 209.5a1.3 1.3 0 1 0 2.6 0a1.3 1.3 0 1 0 -2.6 0M261.8 208.9a1.3 1.3 0 1 0 2.6 0a1.3 1.3 0 1 0 -2.6 0M262.2 210.2a1.3 1.3 0 1 0 2.6 0a1.3 1.3 0 1 0 -2.6 0M262.6 209.2a1.3 1.3 0 1 0 2.6 0a1.3 1.3 0 1 0 -2.6 0M263 209.6a1.3 1.3 0 1 0 2.6 0a1.3 1.3 0 1 0 -2.6 0M263.4 209.5a1.3 1.3 0 1 0 2.6 0a1.3 1.3 0 1 0 -2.6 0M263.8 209.3a1.3 1.3 0 1 0 2.6 0a1.3 1.3 0 1 0 -2.6 0M264.2 209.7a1.3 1.3 0 1 0 2.6 0a1.3 1.3 0 1 0 -2.6 0M264.6 209.1a1.3 1.3 0 1 0 2.6 0a1.3 1.3 0 1 0 -2.6 0M265 208.5a1.3 1.3 0 1 0 2.6 0a1.3 1.3 0 1 0 -2.6 0M265.4 208.3a1.3 1.3 0 1 0 2.6 0a1.3 1.3 0 1 0 -2.6 0M265.8 208.8a1.3 1.3 0 1 0 2.6 0a1.3 1.3 0 1 0 -2.6 0M266.2 209.1a1.3 1.3 0 1 0 2.6 0a1.3 1.3 0 1 0 -2.6 0M266.6 209.5a1.3 1.3 0 1 0 2.6 0a1.3 1.3 0 1 0 -2.6 0M267 209.5a1.3 1.3 0 1 0 2.6 0a1.3 1.3 0 1 0 -2.6 0M267.4 209.8a1.3 1.3 0 1 0 2.6 0a1.3 1.3 0 1 0 -2.6 0M267.8 209.6a1.3 1.3 0 1 0 2.6 0a1.3 1.3 0 1 0 -2.6 0M268.2 209.1a1.3 1.3 0 1 0 2.6 0a1.3 1.3 0 1 0 -2.6 0M268.6 209.1a1.3 1.3 0 1 0 2.6 0a1.3 1.3 0 1 0 -2.6 0M269 208.3a1.3 1.3 0 1 0 2.6 0a1.3 1.3 0 1 0 -2.6 0M269.4 209.4a1.3 1.3 0 1 0 2.6 0a1.3 1.3 0 1 0 -2.6 0M269.8 209.7a1.3 1.3 0 1 0 2.6 0a1.3 1.3 0 1 0 -2.6 0M270.2 210a1.3 1.3 0 1 0 2.6 0a1.3 1.3 0 1 0 -2.6 0M270.6 209.6a1.3 1.3 0 1 0 2.6 0a1.3 1.3 0 1 0 -2.6 0M271 209a1.3 1.3 0 1 0 2.6 0a1.3 1.3 0 1 0 -2.6 0M271.4 209.4a1.3 1.3 0 1 0 2.6 0a1.3 1.3 0 1 0 -2.6 0M271.8 210.1a1.3 1.3 0 1 0 2.6 0a1.3 1.3 0 1 0 -2.6 0M272.2 210.2a1.3 1.3 0 1 0 2.6 0a1.3 1.3 0 1 0 -2.6 0M272.6 209a1.3 1.3 0 1 0 2.6 0a1.3 1.3 0 1 0 -2.6 0M273 209.3a1.3 1.3 0 1 0 2.6 0a1.3 1.3 0 1 0 -2.6 0M273.4 208.9a1.3 1.3 0 1 0 2.6 0a1.3 1.3 0 1 0 -2.6 0M273.8 209.9a1.3 1.3 0 1 0 2.6 0a1.3 1.3 0 1 0 -2.6 0M274.2 209.3a1.3 1.3 0 1 0 2.6 0a1.3 1.3 0 1 0 -2.6 0M274.6 208.9a1.3 1.3 0 1 0 2.6 0a1.3 1.3 0 1 0 -2.6 0M275 209.4a1.3 1.3 0 1 0 2.6 0a1.3 1.3 0 1 0 -2.6 0M275.4 208.7a1.3 1.3 0 1 0 2.6 0a1.3 1.3 0 1 0 -2.6 0M281 207a1.3 1.3 0 1 0 2.6 0a1.3 1.3 0 1 0 -2.6 0M281.4 207.7a1.3 1.3 0 1 0 2.6 0a1.3 1.3 0 1 0 -2.6 0M281.8 209.2a1.3 1.3 0 1 0 2.6 0a1.3 1.3 0 1 0 -2.6 0M282.2 209.4a1.3 1.3 0 1 0 2.6 0a1.3 1.3 0 1 0 -2.6 0M282.6 210.3a1.3 1.3 0 1 0 2.6 0a1.3 1.3 0 1 0 -2.6 0M283 209.3a1.3 1.3 0 1 0 2.6 0a1.3 1.3 0 1 0 -2.6 0M283.4 208.6a1.3 1.3 0 1 0 2.6 0a1.3 1.3 0 1 0 -2.6 0M283.8 209.6a1.3 1.3 0 1 0 2.6 0a1.3 1.3 0 1 0 -2.6 0M284.2 209.1a1.3 1.3 0 1 0 2.6 0a1.3 1.3 0 1 0 -2.6 0M284.6 209.2a1.3 1.3 0 1 0 2.6 0a1.3 1.3 0 1 0 -2.6 0M285 210.1a1.3 1.3 0 1 0 2.6 0a1.3 1.3 0 1 0 -2.6 0M285.4 210a1.3 1.3 0 1 0 2.6 0a1.3 1.3 0 1 0 -2.6 0M285.8 209a1.3 1.3 0 1 0 2.6 0a1.3 1.3 0 1 0 -2.6 0M286.2 209.6a1.3 1.3 0 1 0 2.6 0a1.3 1.3 0 1 0 -2.6 0M286.6 209.8a1.3 1.3 0 1 0 2.6 0a1.3 1.3 0 1 0 -2.6 0M287 209.6a1.3 1.3 0 1 0 2.6 0a1.3 1.3 0 1 0 -2.6 0M287.4 208a1.3 1.3 0 1 0 2.6 0a1.3 1.3 0 1 0 -2.6 0M287.8 210.1a1.3 1.3 0 1 0 2.6 0a1.3 1.3 0 1 0 -2.6 0M288.2 209.5a1.3 1.3 0 1 0 2.6 0a1.3 1.3 0 1 0 -2.6 0M288.6 208.5a1.3 1.3 0 1 0 2.6 0a1.3 1.3 0 1 0 -2.6 0M289 209.6a1.3 1.3 0 1 0 2.6 0a1.3 1.3 0 1 0 -2.6 0M289.4 209.8a1.3 1.3 0 1 0 2.6 0a1.3 1.3 0 1 0 -2.6 0M289.8 210.1a1.3 1.3 0 1 0 2.6 0a1.3 1.3 0 1 0 -2.6 0M290.2 208.9a1.3 1.3 0 1 0 2.6 0a1.3 1.3 0 1 0 -2.6 0M290.6 210.4a1.3 1.3 0 1 0 2.6 0a1.3 1.3 0 1 0 -2.6 0M291 209.4a1.3 1.3 0 1 0 2.6 0a1.3 1.3 0 1 0 -2.6 0M291.4 210.8a1.3 1.3 0 1 0 2.6 0a1.3 1.3 0 1 0 -2.6 0M291.8 209.5a1.3 1.3 0 1 0 2.6 0a1.3 1.3 0 1 0 -2.6 0M292.2 209.9a1.3 1.3 0 1 0 2.6 0a1.3 1.3 0 1 0 -2.6 0M292.6 209.3a1.3 1.3 0 1 0 2.6 0a1.3 1.3 0 1 0 -2.6 0M293 208.9a1.3 1.3 0 1 0 2.6 0a1.3 1.3 0 1 0 -2.6 0M293.4 210.1a1.3 1.3 0 1 0 2.6 0a1.3 1.3 0 1 0 -2.6 0M293.8 210a1.3 1.3 0 1 0 2.6 0a1.3 1.3 0 1 0 -2.6 0M294.2 210.4a1.3 1.3 0 1 0 2.6 0a1.3 1.3 0 1 0 -2.6 0M294.6 210a1.3 1.3 0 1 0 2.6 0a1.3 1.3 0 1 0 -2.6 0M295 209.2a1.3 1.3 0 1 0 2.6 0a1.3 1.3 0 1 0 -2.6 0M295.4 208.6a1.3 1.3 0 1 0 2.6 0a1.3 1.3 0 1 0 -2.6 0M295.8 209.2a1.3 1.3 0 1 0 2.6 0a1.3 1.3 0 1 0 -2.6 0M296.2 209.2a1.3 1.3 0 1 0 2.6 0a1.3 1.3 0 1 0 -2.6 0M296.6 209.1a1.3 1.3 0 1 0 2.6 0a1.3 1.3 0 1 0 -2.6 0M297 209.8a1.3 1.3 0 1 0 2.6 0a1.3 1.3 0 1 0 -2.6 0M297.4 209.7a1.3 1.3 0 1 0 2.6 0a1.3 1.3 0 1 0 -2.6 0M297.8 209.4a1.3 1.3 0 1 0 2.6 0a1.3 1.3 0 1 0 -2.6 0M298.2 209.6a1.3 1.3 0 1 0 2.6 0a1.3 1.3 0 1 0 -2.6 0M298.6 209.4a1.3 1.3 0 1 0 2.6 0a1.3 1.3 0 1 0 -2.6 0M299 209.5a1.3 1.3 0 1 0 2.6 0a1.3 1.3 0 1 0 -2.6 0M299.4 209.7a1.3 1.3 0 1 0 2.6 0a1.3 1.3 0 1 0 -2.6 0M299.8 209.6a1.3 1.3 0 1 0 2.6 0a1.3 1.3 0 1 0 -2.6 0M300.2 208.3a1.3 1.3 0 1 0 2.6 0a1.3 1.3 0 1 0 -2.6 0M300.6 207.3a1.3 1.3 0 1 0 2.6 0a1.3 1.3 0 1 0 -2.6 0M301 208.2a1.3 1.3 0 1 0 2.6 0a1.3 1.3 0 1 0 -2.6 0M301.4 206.8a1.3 1.3 0 1 0 2.6 0a1.3 1.3 0 1 0 -2.6 0M301.8 206.8a1.3 1.3 0 1 0 2.6 0a1.3 1.3 0 1 0 -2.6 0M303.4 207.5a1.3 1.3 0 1 0 2.6 0a1.3 1.3 0 1 0 -2.6 0M303.8 208.9a1.3 1.3 0 1 0 2.6 0a1.3 1.3 0 1 0 -2.6 0M304.2 209.5a1.3 1.3 0 1 0 2.6 0a1.3 1.3 0 1 0 -2.6 0M304.6 210.1a1.3 1.3 0 1 0 2.6 0a1.3 1.3 0 1 0 -2.6 0M305 208.9a1.3 1.3 0 1 0 2.6 0a1.3 1.3 0 1 0 -2.6 0M305.4 208.7a1.3 1.3 0 1 0 2.6 0a1.3 1.3 0 1 0 -2.6 0M305.8 209.8a1.3 1.3 0 1 0 2.6 0a1.3 1.3 0 1 0 -2.6 0M306.2 210a1.3 1.3 0 1 0 2.6 0a1.3 1.3 0 1 0 -2.6 0M306.6 209.6a1.3 1.3 0 1 0 2.6 0a1.3 1.3 0 1 0 -2.6 0M307 208.8a1.3 1.3 0 1 0 2.6 0a1.3 1.3 0 1 0 -2.6 0M307.4 210a1.3 1.3 0 1 0 2.6 0a1.3 1.3 0 1 0 -2.6 0M307.8 210a1.3 1.3 0 1 0 2.6 0a1.3 1.3 0 1 0 -2.6 0M308.2 209.8a1.3 1.3 0 1 0 2.6 0a1.3 1.3 0 1 0 -2.6 0M308.6 209.3a1.3 1.3 0 1 0 2.6 0a1.3 1.3 0 1 0 -2.6 0M309 209.7a1.3 1.3 0 1 0 2.6 0a1.3 1.3 0 1 0 -2.6 0M309.4 210a1.3 1.3 0 1 0 2.6 0a1.3 1.3 0 1 0 -2.6 0M309.8 209.2a1.3 1.3 0 1 0 2.6 0a1.3 1.3 0 1 0 -2.6 0M310.2 208.5a1.3 1.3 0 1 0 2.6 0a1.3 1.3 0 1 0 -2.6 0M310.6 209.7a1.3 1.3 0 1 0 2.6 0a1.3 1.3 0 1 0 -2.6 0M311 209.8a1.3 1.3 0 1 0 2.6 0a1.3 1.3 0 1 0 -2.6 0M311.4 209.6a1.3 1.3 0 1 0 2.6 0a1.3 1.3 0 1 0 -2.6 0M311.8 210a1.3 1.3 0 1 0 2.6 0a1.3 1.3 0 1 0 -2.6 0M312.2 209.2a1.3 1.3 0 1 0 2.6 0a1.3 1.3 0 1 0 -2.6 0M312.6 209.5a1.3 1.3 0 1 0 2.6 0a1.3 1.3 0 1 0 -2.6 0M313 209.4a1.3 1.3 0 1 0 2.6 0a1.3 1.3 0 1 0 -2.6 0M313.4 209.9a1.3 1.3 0 1 0 2.6 0a1.3 1.3 0 1 0 -2.6 0M313.8 210.4a1.3 1.3 0 1 0 2.6 0a1.3 1.3 0 1 0 -2.6 0M314.2 209.4a1.3 1.3 0 1 0 2.6 0a1.3 1.3 0 1 0 -2.6 0M314.6 210.7a1.3 1.3 0 1 0 2.6 0a1.3 1.3 0 1 0 -2.6 0M315 210.4a1.3 1.3 0 1 0 2.6 0a1.3 1.3 0 1 0 -2.6 0M315.4 210a1.3 1.3 0 1 0 2.6 0a1.3 1.3 0 1 0 -2.6 0M315.8 209.9a1.3 1.3 0 1 0 2.6 0a1.3 1.3 0 1 0 -2.6 0M316.2 210.5a1.3 1.3 0 1 0 2.6 0a1.3 1.3 0 1 0 -2.6 0M316.6 209.5a1.3 1.3 0 1 0 2.6 0a1.3 1.3 0 1 0 -2.6 0M317 209.5a1.3 1.3 0 1 0 2.6 0a1.3 1.3 0 1 0 -2.6 0M317.4 209a1.3 1.3 0 1 0 2.6 0a1.3 1.3 0 1 0 -2.6 0M317.8 209.8a1.3 1.3 0 1 0 2.6 0a1.3 1.3 0 1 0 -2.6 0M318.2 210.3a1.3 1.3 0 1 0 2.6 0a1.3 1.3 0 1 0 -2.6 0M318.6 209.8a1.3 1.3 0 1 0 2.6 0a1.3 1.3 0 1 0 -2.6 0M319 209.8a1.3 1.3 0 1 0 2.6 0a1.3 1.3 0 1 0 -2.6 0M319.4 209.4a1.3 1.3 0 1 0 2.6 0a1.3 1.3 0 1 0 -2.6 0M319.8 209.6a1.3 1.3 0 1 0 2.6 0a1.3 1.3 0 1 0 -2.6 0M320.2 208.8a1.3 1.3 0 1 0 2.6 0a1.3 1.3 0 1 0 -2.6 0M320.6 210.1a1.3 1.3 0 1 0 2.6 0a1.3 1.3 0 1 0 -2.6 0M321 209.3a1.3 1.3 0 1 0 2.6 0a1.3 1.3 0 1 0 -2.6 0M321.4 208.9a1.3 1.3 0 1 0 2.6 0a1.3 1.3 0 1 0 -2.6 0M321.8 209.1a1.3 1.3 0 1 0 2.6 0a1.3 1.3 0 1 0 -2.6 0M322.2 209.1a1.3 1.3 0 1 0 2.6 0a1.3 1.3 0 1 0 -2.6 0M322.6 210a1.3 1.3 0 1 0 2.6 0a1.3 1.3 0 1 0 -2.6 0M323 210.1a1.3 1.3 0 1 0 2.6 0a1.3 1.3 0 1 0 -2.6 0M323.4 208.7a1.3 1.3 0 1 0 2.6 0a1.3 1.3 0 1 0 -2.6 0M323.8 210a1.3 1.3 0 1 0 2.6 0a1.3 1.3 0 1 0 -2.6 0M324.2 209.9a1.3 1.3 0 1 0 2.6 0a1.3 1.3 0 1 0 -2.6 0M324.6 209a1.3 1.3 0 1 0 2.6 0a1.3 1.3 0 1 0 -2.6 0M325 208.5a1.3 1.3 0 1 0 2.6 0a1.3 1.3 0 1 0 -2.6 0M325.4 208.7a1.3 1.3 0 1 0 2.6 0a1.3 1.3 0 1 0 -2.6 0M325.8 208.4a1.3 1.3 0 1 0 2.6 0a1.3 1.3 0 1 0 -2.6 0M326.2 208.4a1.3 1.3 0 1 0 2.6 0a1.3 1.3 0 1 0 -2.6 0M326.6 207.2a1.3 1.3 0 1 0 2.6 0a1.3 1.3 0 1 0 -2.6 0" fill="none" stroke="#3434f0" stroke-width="0.85"/>
<path d="M38.3 208.8 38.7 208.8 39.1 208.8 39.5 208.8 39.9 208.9 40.3 208.9 40.7 208.9 41.1 208.9 41.5 208.9 41.9 208.9 42.3 208.9 42.7 208.9 43.1 208.9 43.5 209 43.9 209 44.3 209 44.7 209 45.1 209 45.5 209 45.9 209 46.3 209 46.7 209 47.1 209 47.5 209.1 47.9 209.1 48.3 209.1 48.7 209.1 49.1 209.1 49.5 209.1 49.9 209.1 50.3 209.1 50.7 209.1 51.1 209.1 51.5 209.2 51.9 209.2 52.3 209.2 52.7 209.2 53.1 209.2 53.5 209.2 53.9 209.2 54.3 209.2 54.7 209.2 55.1 209.2 55.5 209.2 55.9 209.2 56.3 209.3 56.7 209.3 57.1 209.3 57.5 209.3 57.9 209.3 58.3 209.3 58.7 209.3 59.1 209.3 59.5 209.3 59.9 209.3 60.3 209.3 60.7 209.3 61.1 209.4 61.5 209.4 61.9 209.4 62.3 209.4 62.7 209.4 63.1 209.4 63.5 209.4 63.9 209.4 64.3 209.4 64.7 209.4 65.1 209.4 65.5 209.4 65.9 209.4 66.3 209.4 66.7 209.4 67.1 209.5 67.5 209.5 67.9 209.5 68.3 209.5 68.7 209.5 69.1 209.5 69.5 209.5 69.9 209.5 70.3 209.5 70.7 209.5 71.1 209.5 71.5 209.5 71.9 209.5 72.3 209.5 72.7 209.5 73.1 209.5 73.5 209.6 73.9 209.6 74.3 209.6 74.7 209.6 75.1 209.6 75.5 209.6 75.9 209.6 76.3 209.6 76.7 209.6 77.1 209.6 77.5 209.6 77.9 209.6 78.3 209.6 78.7 209.6 79.1 209.6 79.5 209.6 79.9 209.6 80.3 209.6 80.7 209.6 81.1 209.7 81.5 209.7 81.9 209.7 82.3 209.7 82.7 209.7 83.1 209.7 83.5 209.7 83.9 209.7 84.3 209.7 84.7 209.7 85.1 209.7 85.5 209.7 85.9 209.7 86.3 209.7 86.7 209.7 87.1 209.7 87.5 209.7 87.9 209.7 88.3 209.7 88.7 209.7 89.1 209.7 89.5 209.7 89.9 209.7 90.3 209.7 90.7 209.7 91.1 209.7 91.5 209.7 91.9 209.7 92.3 209.7 92.7 209.7 93.1 209.7 93.5 209.7 93.9 209.7 94.3 209.7 94.7 209.7 95.1 209.7 95.5 209.6 95.9 209.6 96.3 209.6 96.7 209.5 97.1 209.5 97.5 209.4 97.9 209.3 98.2 209.2 98.3 209.1 98.3 209.1 98.5 209.1 98.5 209 98.7 208.9 98.7 208.9 98.8 208.8 98.8 208.7 99 208.6 99 208.5 99.1 208.4 99.2 208.3 99.2 208.1 99.3 207.8 99.5 207.2 99.5 206.8 99.5 206.3 99.7 204.8 99.8 202.5 99.8 198.8 99.9 196.2 100 193.2 100 185 100.2 173.9 100.2 159.3 100.3 150.7 100.3 141.3 100.5 120.5 100.5 98 100.7 75.7 100.7 65.2 100.8 55.7 100.8 40.5 101 32.2 101 31.2 101 32.2 101.1 35.4 101.2 40.5 101.2 55.7 101.3 75.7 101.5 98 101.5 109.4 101.5 120.5 101.7 141.3 101.8 159.3 101.8 173.9 101.9 179.9 102 185.1 102 193.2 102.2 198.8 102.2 202.5 102.3 203.8 102.3 204.9 102.5 206.3 102.5 207.2 102.7 207.8 102.7 208 102.8 208.1 102.8 208.4 103 208.5 103 208.7 103.1 208.7 103.2 208.8 103.2 208.9 103.3 209 103.5 209 103.5 209.1 103.5 209.1 103.7 209.2 103.8 209.2 103.9 209.3 104.3 209.4 104.7 209.5 105.1 209.6 105.5 209.6 105.9 209.7 106.3 209.7 106.7 209.7 107.1 209.8 107.5 209.8 107.9 209.8 108.3 209.8 108.7 209.8 109.1 209.8 109.5 209.9 109.9 209.9 110.3 209.9 110.7 209.9 111.1 209.9 111.5 209.9 111.9 209.9 112.3 209.9 112.7 209.9 113.1 209.9 113.5 209.9 113.9 209.9 114.3 209.9 114.7 209.9 115.1 209.9 115.5 209.9 115.9 209.9 116.3 209.9 116.7 209.9 117.1 209.9 117.5 209.9 117.9 209.9 118.3 209.9 118.7 209.9 119.1 209.9 119.5 209.9 119.9 209.9 120.3 209.9 120.7 209.8 121.1 209.6 121.5 209.1 121.9 207.9 122.3 206.2 122.7 205.1 122.8 205 123.1 205.5 123.5 207.1 123.9 208.6 124.3 209.4 124.7 209.8 125.1 209.9 125.5 209.9 125.9 210 126.3 210 126.7 210 127.1 210 127.5 210 127.9 210 128.3 210 128.7 210 129.1 210 129.5 210 129.9 210 130.3 210 130.7 210 131.1 210 131.5 210 131.9 210 132.3 210 132.7 210 133.1 210 133.5 210 133.9 210 134.3 210 134.7 210 135.1 210 135.5 210 135.9 210 136.3 210 136.7 210 137.1 210 137.5 210 137.9 209.9 138.1 209.9 138.2 209.9 138.2 209.9 138.3 209.9 138.3 209.9 138.4 209.9 138.6 209.9 138.7 209.9 138.7 209.9 138.8 209.8 138.8 209.8 138.9 209.8 139.1 209.8 139.1 209.8 139.2 209.8 139.2 209.7 139.3 209.7 139.4 209.7 139.5 209.6 139.6 209.6 139.7 209.5 139.8 209.4 139.8 209.2 139.9 209.1 139.9 208.9 140.1 208.6 140.2 208 140.2 207.3 140.3 206.9 140.3 206.3 140.4 205 140.6 203.4 140.7 201.3 140.7 200.1 140.8 198.8 140.8 195.9 140.9 192.5 141.1 188.8 141.1 186.9 141.2 184.9 141.2 181 141.3 177.2 141.4 173.7 141.5 172.2 141.6 170.9 141.7 168.8 141.8 167.7 141.8 167.6 141.8 167.7 141.9 168.1 141.9 168.8 142.1 170.9 142.2 173.7 142.2 177.2 142.3 179.1 142.3 181 142.4 184.9 142.6 188.9 142.7 192.5 142.7 194.3 142.8 195.9 142.8 198.8 142.9 201.3 143.1 203.4 143.1 204.3 143.2 205.1 143.2 206.3 143.3 207.3 143.4 208 143.5 208.3 143.6 208.6 143.7 208.9 143.8 209.2 143.8 209.4 143.9 209.5 143.9 209.5 144.1 209.6 144.2 209.7 144.2 209.7 144.3 209.7 144.3 209.8 144.4 209.8 144.6 209.8 144.7 209.8 144.7 209.8 144.8 209.9 144.8 209.9 144.9 209.9 145.1 209.9 145.1 209.9 145.2 209.9 145.2 209.9 145.3 209.9 145.4 209.9 145.5 209.9 145.6 210 145.9 210 146.3 210 146.7 210 147.1 210 147.5 210 147.9 210.1 148.3 210.1 148.7 210.1 149.1 210.1 149.5 210.1 149.9 210.1 150.3 210.1 150.7 210.1 151.1 210.1 151.5 210.1 151.9 210.1 152.3 210.1 152.7 210.1 153.1 210.1 153.5 210.1 153.9 210.1 154.3 210.1 154.7 210.1 155.1 210.1 155.5 210.1 155.9 210.1 156.3 210.1 156.7 210.1 157.1 210.1 157.5 210.1 157.9 210.1 158.3 210.1 158.7 210.1 159.1 210.1 159.5 210.1 159.9 210.1 160.3 210.1 160.7 210.1 161.1 210.1 161.5 210.1 161.9 210.1 162.3 210.1 162.7 210.1 163.1 210.1 163.5 210.1 163.9 210.1 164.3 210.1 164.7 210.1 165.1 210.1 165.5 210.1 165.9 210.1 166.3 210.1 166.7 210.1 167.1 210.1 167.5 210.1 167.9 210.1 168.3 210.1 168.7 210.1 169.1 210.1 169.5 210.1 169.9 210.1 170.3 210 170.7 210 170.9 210 171 210 171.1 210 171.2 210 171.3 210 171.4 209.9 171.5 209.9 171.6 209.9 171.7 209.9 171.8 209.9 171.9 209.9 172 209.8 172.1 209.8 172.2 209.8 172.3 209.7 172.4 209.7 172.5 209.6 172.6 209.5 172.7 209.4 172.8 209.2 172.9 209 173 208.6 173.1 208.1 173.2 207.4 173.3 206.5 173.4 205.3 173.5 203.8 173.6 201.9 173.7 199.6 173.8 196.9 173.9 193.7 174 190.1 174.1 186.2 174.2 182.1 174.3 177.9 174.4 173.8 174.5 170 174.6 166.8 174.7 164.3 174.8 162.7 174.9 162.2 175 162.7 175.1 164.3 175.2 166.8 175.3 170 175.4 173.8 175.5 177.9 175.6 182.1 175.7 186.2 175.8 190.1 175.9 193.7 176 196.9 176.1 199.6 176.2 201.9 176.3 203.8 176.4 205.4 176.5 206.5 176.6 207.4 176.7 208.1 176.8 208.6 176.9 209 177 209.2 177.1 209.4 177.2 209.5 177.3 209.6 177.4 209.7 177.5 209.7 177.6 209.8 177.7 209.8 177.8 209.8 177.9 209.9 178 209.9 178.1 209.9 178.2 209.9 178.3 209.9 178.4 210 178.5 210 178.6 210 178.7 210 178.8 210 178.9 210 179.1 210 179.5 210.1 179.9 210.1 180.3 210.1 180.7 210.1 181.1 210.1 181.5 210.1 181.9 210.1 182.3 210.1 182.7 210.1 183.1 210.2 183.5 210.2 183.9 210.2 184.3 210.2 184.7 210.2 185.1 210.2 185.5 210.2 185.9 210.2 186.3 210.2 186.7 210.2 187.1 210.2 187.5 210.2 187.9 210.2 188.3 210.2 188.7 210.2 189.1 210.2 189.5 210.2 189.9 210.2 190.3 210.2 190.7 210.2 191.1 210.2 191.5 210.2 191.9 210.2 192.3 210.2 192.7 210.2 193.1 210.2 193.5 210.2 193.9 210.2 194.3 210.1 194.7 210.1 195.1 210.1 195.5 210.1 195.9 210.1 196.3 210.1 196.4 210.1 196.6 210.1 196.7 210.1 196.7 210.1 196.8 210.1 196.8 210.1 196.9 210.1 197.1 210.1 197.1 210.1 197.2 210.1 197.2 210.1 197.3 210.1 197.4 210.1 197.5 210.1 197.6 210.1 197.7 210.1 197.8 210.1 197.8 210.1 197.9 210.1 197.9 210 198.1 210 198.2 210 198.2 210 198.3 210 198.3 210 198.4 210 198.6 210 198.7 210 198.7 210 198.8 210 198.8 210 198.9 210 199.1 210 199.1 209.9 199.2 209.9 199.2 209.9 199.3 209.9 199.4 209.9 199.5 209.9 199.6 209.9 199.7 209.8 199.8 209.8 199.8 209.7 199.9 209.7 199.9 209.7 200.1 209.6 200.2 209.5 200.2 209.5 200.3 209.4 200.3 209.4 200.4 209.2 200.6 209.1 200.7 208.9 200.7 208.8 200.8 208.7 200.8 208.5 200.9 208.2 201.1 207.9 201.1 207.7 201.2 207.6 201.2 207.2 201.3 206.7 201.4 206.2 201.5 206 201.6 205.7 201.7 205.1 201.8 204.5 201.8 203.8 201.9 203.4 201.9 203 202.1 202.2 202.2 201.4 202.2 200.5 202.3 200 202.3 199.6 202.4 198.6 202.6 197.7 202.7 196.8 202.7 196.3 202.8 195.9 202.8 195 202.9 194.2 203.1 193.4 203.1 193 203.2 192.7 203.2 192.1 203.3 191.5 203.4 191.2 203.5 191 203.6 190.9 203.7 190.7 203.7 190.7 203.8 190.7 203.8 190.9 203.9 191 203.9 191.2 204.1 191.5 204.2 192.1 204.2 192.7 204.3 193 204.3 193.4 204.4 194.2 204.6 195 204.7 195.9 204.7 196.3 204.8 196.8 204.8 197.7 204.9 198.6 205.1 199.6 205.1 200 205.2 200.5 205.2 201.4 205.3 202.2 205.4 203 205.5 203.4 205.6 203.8 205.7 204.5 205.8 205.1 205.8 205.7 205.9 206 205.9 206.2 206.1 206.7 206.2 207.2 206.2 207.6 206.3 207.8 206.3 207.9 206.4 208.2 206.6 208.5 206.7 208.7 206.7 208.8 206.8 208.9 206.8 209.1 206.9 209.2 207.1 209.4 207.1 209.4 207.2 209.5 207.2 209.6 207.3 209.6 207.4 209.7 207.5 209.7 207.6 209.7 207.7 209.8 207.8 209.8 207.8 209.9 207.9 209.9 207.9 209.9 208.1 209.9 208.2 209.9 208.2 209.9 208.3 210 208.3 210 208.4 210 208.6 210 208.7 210 208.7 210 208.8 210 208.8 210 208.9 210 209.1 210 209.1 210 209.2 210 209.2 210 209.3 210 209.4 210.1 209.5 210.1 209.6 210.1 209.7 210.1 209.8 210.1 209.8 210.1 209.9 210.1 209.9 210.1 210.1 210.1 210.2 210.1 210.2 210.1 210.3 210.1 210.3 210.1 210.4 210.1 210.6 210.1 210.7 210.1 210.7 210.1 210.8 210.1 210.8 210.1 210.9 210.1 211.1 210.1 211.5 210.1 211.9 210.1 212.3 210.1 212.7 210.2 213.1 210.2 213.5 210.2 213.9 210.2 214.3 210.2 214.7 210.2 215.1 210.2 215.5 210.2 215.9 210.2 216.3 210.2 216.7 210.2 217.1 210.2 217.5 210.2 217.9 210.2 218.3 210.2 218.7 210.2 219.1 210.2 219.5 210.2 219.9 210.2 220.3 210.2 220.7 210.2 221.1 210.2 221.5 210.2 221.9 210.2 222.3 210.1 222.7 210.1 223.1 210.1 223.1 210.1 223.2 210.1 223.2 210.1 223.3 210.1 223.4 210.1 223.5 210.1 223.6 210.1 223.7 210.1 223.8 210.1 223.8 210.1 223.9 210.1 223.9 210.1 224.1 210.1 224.2 210.1 224.2 210.1 224.3 210.1 224.3 210.1 224.4 210.1 224.6 210.1 224.7 210.1 224.7 210.1 224.8 210.1 224.8 210 224.9 210 225.1 210 225.1 210 225.2 210 225.2 210 225.3 210 225.4 210 225.5 210 225.6 210 225.7 210 225.8 210 225.8 209.9 225.9 209.9 225.9 209.9 226.1 209.9 226.2 209.9 226.2 209.8 226.3 209.8 226.3 209.8 226.4 209.8 226.6 209.7 226.7 209.6 226.7 209.6 226.8 209.6 226.8 209.5 226.9 209.4 227.1 209.3 227.1 209.2 227.2 209.1 227.2 208.9 227.3 208.7 227.4 208.5 227.5 208.4 227.6 208.2 227.7 207.9 227.8 207.6 227.8 207.2 227.9 207 227.9 206.8 228.1 206.3 228.2 205.7 228.2 205.1 228.3 204.8 228.3 204.5 228.4 203.8 228.6 203 228.7 202.2 228.7 201.8 228.8 201.4 228.8 200.5 228.9 199.6 229.1 198.7 229.1 198.2 229.2 197.7 229.2 196.8 229.3 195.9 229.4 195 229.5 194.6 229.6 194.2 229.7 193.4 229.8 192.7 229.8 192.1 229.9 191.8 229.9 191.6 230.1 191.2 230.2 190.9 230.2 190.8 230.3 190.8 230.3 190.8 230.4 190.9 230.6 191.2 230.7 191.6 230.7 191.8 230.8 192.1 230.8 192.7 230.9 193.4 231.1 194.2 231.1 194.6 231.2 195 231.2 195.9 231.3 196.8 231.4 197.7 231.5 198.2 231.6 198.7 231.7 199.6 231.8 200.5 231.8 201.4 231.9 201.8 231.9 202.2 232.1 203 232.2 203.8 232.2 204.5 232.3 204.8 232.3 205.1 232.4 205.7 232.6 206.3 232.7 206.8 232.7 207 232.8 207.2 232.8 207.6 232.9 207.9 233.1 208.2 233.1 208.4 233.2 208.5 233.2 208.7 233.3 208.9 233.4 209.1 233.5 209.2 233.6 209.3 233.7 209.4 233.8 209.5 233.8 209.6 233.9 209.6 233.9 209.6 234.1 209.7 234.2 209.8 234.2 209.8 234.3 209.8 234.3 209.8 234.4 209.9 234.6 209.9 234.7 209.9 234.7 209.9 234.8 209.9 234.8 210 234.9 210 235.1 210 235.1 210 235.2 210 235.2 210 235.3 210 235.4 210 235.5 210 235.6 210 235.7 210.1 235.8 210.1 235.8 210.1 235.9 210.1 235.9 210.1 236.1 210.1 236.2 210.1 236.2 210.1 236.3 210.1 236.3 210.1 236.4 210.1 236.6 210.1 236.7 210.1 236.7 210.1 236.8 210.1 236.8 210.1 236.9 210.1 237.1 210.1 237.1 210.1 237.2 210.1 237.2 210.1 237.3 210.1 237.4 210.1 237.5 210.1 237.6 210.1 237.9 210.2 238.3 210.2 238.7 210.2 239.1 210.2 239.5 210.2 239.9 210.2 240.3 210.2 240.7 210.2 241.1 210.2 241.5 210.2 241.9 210.2 242.3 210.2 242.7 210.2 243.1 210.2 243.5 210.2 243.9 210.2 244.3 210.2 244.7 210.2 245.1 210.2 245.5 210.2 245.9 210.2 246.3 210.2 246.7 210.2 247.1 210.2 247.5 210.2 247.9 210.2 248.3 210.2 248.7 210.2 249.1 210.2 249.5 210.2 249.9 210.2 250.3 210.2 250.7 210.1 251.1 210.1 251.5 210 251.9 209.9 252.3 209.6 252.7 209.2 253.1 208.6 253.5 207.8 253.9 206.8 254.3 206 254.7 205.4 255 205.3 255.1 205.3 255.5 205.7 255.9 206.4 256.3 207.3 256.7 208.2 257.1 208.9 257.5 209.4 257.9 209.7 258.3 209.9 258.7 210.1 259.1 210.1 259.5 210.1 259.9 210.2 260.3 210.2 260.7 210.2 261.1 210.2 261.5 210.2 261.9 210.2 262.3 210.2 262.7 210.2 263.1 210.2 263.5 210.2 263.9 210.2 264.3 210.2 264.7 210.2 265.1 210.2 265.5 210.2 265.9 210.2 266.3 210.2 266.7 210.2 267.1 210.2 267.5 210.2 267.9 210.2 268.3 210.2 268.7 210.2 269.1 210.2 269.5 210.2 269.9 210.2 270.3 210.2 270.7 210.2 271.1 210.2 271.2 210.2 271.3 210.2 271.4 210.2 271.5 210.2 271.6 210.2 271.7 210.2 271.8 210.2 271.9 210.2 272 210.2 272.1 210.2 272.2 210.2 272.3 210.1 272.4 210.1 272.5 210.1 272.6 210.1 272.7 210.1 272.8 210.1 272.9 210.1 273 210.1 273.1 210.1 273.2 210.1 273.3 210.1 273.4 210.1 273.5 210.1 273.6 210.1 273.7 210.1 273.8 210.1 273.9 210.1 274 210.1 274.1 210.1 274.2 210 274.3 210 274.4 210 274.5 210 274.6 210 274.7 210 274.8 210 274.9 209.9 275 209.9 275.1 209.9 275.2 209.9 275.3 209.8 275.4 209.8 275.5 209.8 275.6 209.7 275.7 209.6 275.8 209.6 275.9 209.5 276 209.4 276.1 209.3 276.2 209.2 276.3 209.1 276.4 208.9 276.5 208.8 276.6 208.6 276.7 208.4 276.8 208.2 276.9 207.9 277 207.7 277.1 207.4 277.2 207.1 277.3 206.7 277.4 206.4 277.5 206 277.6 205.6 277.7 205.2 277.8 204.7 277.9 204.3 278 203.8 278.1 203.3 278.2 202.8 278.3 202.4 278.4 201.9 278.5 201.4 278.6 200.9 278.7 200.5 278.8 200.1 278.9 199.7 279 199.3 279.1 199 279.2 198.8 279.3 198.6 279.4 198.4 279.5 198.3 279.6 198.3 279.7 198.3 279.8 198.4 279.9 198.6 280 198.8 280.1 199 280.2 199.3 280.3 199.7 280.4 200.1 280.5 200.5 280.6 200.9 280.7 201.4 280.8 201.9 280.9 202.4 281 202.8 281.1 203.3 281.2 203.8 281.3 204.3 281.4 204.7 281.5 205.2 281.6 205.6 281.7 206 281.8 206.4 281.9 206.7 282 207.1 282.1 207.4 282.2 207.7 282.3 207.9 282.4 208.2 282.5 208.4 282.6 208.6 282.7 208.8 282.8 208.9 282.9 209.1 283 209.2 283.1 209.3 283.2 209.4 283.3 209.5 283.4 209.6 283.5 209.6 283.6 209.7 283.7 209.8 283.8 209.8 283.9 209.8 284 209.9 284.1 209.9 284.2 209.9 284.3 210 284.4 210 284.5 210 284.6 210 284.7 210 284.8 210 284.9 210 285 210.1 285.1 210.1 285.2 210.1 285.3 210.1 285.4 210.1 285.5 210.1 285.6 210.1 285.7 210.1 285.8 210.1 285.9 210.1 286 210.1 286.1 210.1 286.2 210.1 286.3 210.1 286.4 210.1 286.5 210.1 286.6 210.1 286.7 210.1 286.8 210.2 286.9 210.2 287 210.2 287.1 210.2 287.2 210.2 287.3 210.2 287.4 210.2 287.5 210.2 287.6 210.2 287.7 210.2 287.8 210.2 287.9 210.2 288 210.2 288.3 210.2 288.7 210.2 289.1 210.2 289.5 210.2 289.9 210.2 290.3 210.2 290.7 210.2 291.1 210.2 291.5 210.2 291.9 210.2 292.3 210.2 292.7 210.2 293.1 210.2 293.5 210.2 293.9 210.2 294.3 210.2 294.7 210.2 295.1 210.2 295.5 210.2 295.9 210.2 296.3 210.2 296.7 210.2 297.1 210.2 297.5 210.2 297.9 210.2 298.3 210.2 298.7 210.2 299.1 210.2 299.5 210.2 299.9 210.2 300.3 210.1 300.7 210 301.1 209.8 301.5 209.4 301.9 208.9 302.3 208.2 302.7 207.4 303.1 206.9 303.4 206.8 303.5 206.8 303.9 207.1 304.3 207.8 304.7 208.5 305.1 209.2 305.5 209.6 305.9 209.9 306.3 210.1 306.7 210.1 307.1 210.2 307.5 210.2 307.9 210.2 308.3 210.2 308.7 210.2 309.1 210.2 309.5 210.2 309.9 210.2 310.3 210.3 310.7 210.3 311.1 210.3 311.5 210.3 311.9 210.3 312.3 210.3 312.7 210.3 313.1 210.3 313.5 210.3 313.9 210.3 314.3 210.3 314.7 210.3 315.1 210.3 315.5 210.3 315.9 210.3 316.3 210.3 316.7 210.3 317.1 210.3 317.5 210.3 317.9 210.3 318.3 210.3 318.7 210.3 319.1 210.3 319.5 210.3 319.9 210.2 320.3 210.2 320.7 210.2 321.1 210.2 321.5 210.2 321.9 210.2 322.3 210.2 322.7 210.2 323.1 210.2 323.5 210.2 323.9 210.2 324.3 210.2 324.7 210.2 325.1 210.1 325.5 210.1 325.9 210.1 326.3 210 326.7 209.8 327.1 209.5 327.5 208.9 327.9 208.1 328.3 207 328.7 205.6" fill="none" stroke="#1a961a" stroke-width="1.8" stroke-linejoin="round"/>
<path d="M99.7 22.9a1.3 1.3 0 1 0 2.6 0a1.3 1.3 0 1 0 -2.6 0M99.4 46.2a1.3 1.3 0 1 0 2.6 0a1.3 1.3 0 1 0 -2.6 0M99.3 66.1a1.3 1.3 0 1 0 2.6 0a1.3 1.3 0 1 0 -2.6 0M99.2 89a1.3 1.3 0 1 0 2.6 0a1.3 1.3 0 1 0 -2.6 0M99.1 104a1.3 1.3 0 1 0 2.6 0a1.3 1.3 0 1 0 -2.6 0M99 118.2a1.3 1.3 0 1 0 2.6 0a1.3 1.3 0 1 0 -2.6 0M98.9 132.6a1.3 1.3 0 1 0 2.6 0a1.3 1.3 0 1 0 -2.6 0M98.8 145.8a1.3 1.3 0 1 0 2.6 0a1.3 1.3 0 1 0 -2.6 0M98.8 157.1a1.3 1.3 0 1 0 2.6 0a1.3 1.3 0 1 0 -2.6 0M98.7 166.8a1.3 1.3 0 1 0 2.6 0a1.3 1.3 0 1 0 -2.6 0M98.6 172.1a1.3 1.3 0 1 0 2.6 0a1.3 1.3 0 1 0 -2.6 0M98.6 179.9a1.3 1.3 0 1 0 2.6 0a1.3 1.3 0 1 0 -2.6 0M98.5 185.6a1.3 1.3 0 1 0 2.6 0a1.3 1.3 0 1 0 -2.6 0M98.4 189.2a1.3 1.3 0 1 0 2.6 0a1.3 1.3 0 1 0 -2.6 0M98.4 194a1.3 1.3 0 1 0 2.6 0a1.3 1.3 0 1 0 -2.6 0M98.3 198a1.3 1.3 0 1 0 2.6 0a1.3 1.3 0 1 0 -2.6 0M98.2 201.9a1.3 1.3 0 1 0 2.6 0a1.3 1.3 0 1 0 -2.6 0M98 205.3a1.3 1.3 0 1 0 2.6 0a1.3 1.3 0 1 0 -2.6 0M101.1 196.1a1.3 1.3 0 1 0 2.6 0a1.3 1.3 0 1 0 -2.6 0M101.2 200.8a1.3 1.3 0 1 0 2.6 0a1.3 1.3 0 1 0 -2.6 0M101.4 204.9a1.3 1.3 0 1 0 2.6 0a1.3 1.3 0 1 0 -2.6 0M140.5 152.6a1.3 1.3 0 1 0 2.6 0a1.3 1.3 0 1 0 -2.6 0M140.1 160.1a1.3 1.3 0 1 0 2.6 0a1.3 1.3 0 1 0 -2.6 0M139.9 166a1.3 1.3 0 1 0 2.6 0a1.3 1.3 0 1 0 -2.6 0M139.8 171.3a1.3 1.3 0 1 0 2.6 0a1.3 1.3 0 1 0 -2.6 0M139.7 176a1.3 1.3 0 1 0 2.6 0a1.3 1.3 0 1 0 -2.6 0M139.6 181.4a1.3 1.3 0 1 0 2.6 0a1.3 1.3 0 1 0 -2.6 0M139.4 186.2a1.3 1.3 0 1 0 2.6 0a1.3 1.3 0 1 0 -2.6 0M139.3 191.1a1.3 1.3 0 1 0 2.6 0a1.3 1.3 0 1 0 -2.6 0M139.2 195.6a1.3 1.3 0 1 0 2.6 0a1.3 1.3 0 1 0 -2.6 0M139 199.9a1.3 1.3 0 1 0 2.6 0a1.3 1.3 0 1 0 -2.6 0M138.8 203.2a1.3 1.3 0 1 0 2.6 0a1.3 1.3 0 1 0 -2.6 0M138.6 206.2a1.3 1.3 0 1 0 2.6 0a1.3 1.3 0 1 0 -2.6 0M141.9 197.2a1.3 1.3 0 1 0 2.6 0a1.3 1.3 0 1 0 -2.6 0M142 200.4a1.3 1.3 0 1 0 2.6 0a1.3 1.3 0 1 0 -2.6 0M142.2 203.4a1.3 1.3 0 1 0 2.6 0a1.3 1.3 0 1 0 -2.6 0M142.4 206.2a1.3 1.3 0 1 0 2.6 0a1.3 1.3 0 1 0 -2.6 0M173.6 161.2a1.3 1.3 0 1 0 2.6 0a1.3 1.3 0 1 0 -2.6 0M173.2 167.3a1.3 1.3 0 1 0 2.6 0a1.3 1.3 0 1 0 -2.6 0M173 173.1a1.3 1.3 0 1 0 2.6 0a1.3 1.3 0 1 0 -2.6 0M172.8 178.5a1.3 1.3 0 1 0 2.6 0a1.3 1.3 0 1 0 -2.6 0M172.7 183.8a1.3 1.3 0 1 0 2.6 0a1.3 1.3 0 1 0 -2.6 0M172.5 188a1.3 1.3 0 1 0 2.6 0a1.3 1.3 0 1 0 -2.6 0M172.4 192.3a1.3 1.3 0 1 0 2.6 0a1.3 1.3 0 1 0 -2.6 0M172.3 195.7a1.3 1.3 0 1 0 2.6 0a1.3 1.3 0 1 0 -2.6 0M172.1 198.8a1.3 1.3 0 1 0 2.6 0a1.3 1.3 0 1 0 -2.6 0M172 201.8a1.3 1.3 0 1 0 2.6 0a1.3 1.3 0 1 0 -2.6 0M171.8 204.4a1.3 1.3 0 1 0 2.6 0a1.3 1.3 0 1 0 -2.6 0M175.1 200.1a1.3 1.3 0 1 0 2.6 0a1.3 1.3 0 1 0 -2.6 0M175.3 202.9a1.3 1.3 0 1 0 2.6 0a1.3 1.3 0 1 0 -2.6 0M175.5 205.6a1.3 1.3 0 1 0 2.6 0a1.3 1.3 0 1 0 -2.6 0M202.4 190.2a1.3 1.3 0 1 0 2.6 0a1.3 1.3 0 1 0 -2.6 0M201.5 193.8a1.3 1.3 0 1 0 2.6 0a1.3 1.3 0 1 0 -2.6 0M201 197.3a1.3 1.3 0 1 0 2.6 0a1.3 1.3 0 1 0 -2.6 0M200.6 200.6a1.3 1.3 0 1 0 2.6 0a1.3 1.3 0 1 0 -2.6 0M200.2 203.5a1.3 1.3 0 1 0 2.6 0a1.3 1.3 0 1 0 -2.6 0M199.7 206a1.3 1.3 0 1 0 2.6 0a1.3 1.3 0 1 0 -2.6 0M203.9 199a1.3 1.3 0 1 0 2.6 0a1.3 1.3 0 1 0 -2.6 0M204.5 202.3a1.3 1.3 0 1 0 2.6 0a1.3 1.3 0 1 0 -2.6 0M204.9 205a1.3 1.3 0 1 0 2.6 0a1.3 1.3 0 1 0 -2.6 0M229 190.3a1.3 1.3 0 1 0 2.6 0a1.3 1.3 0 1 0 -2.6 0M228.1 193.7a1.3 1.3 0 1 0 2.6 0a1.3 1.3 0 1 0 -2.6 0M227.6 197a1.3 1.3 0 1 0 2.6 0a1.3 1.3 0 1 0 -2.6 0M227.2 200.5a1.3 1.3 0 1 0 2.6 0a1.3 1.3 0 1 0 -2.6 0M226.8 203.4a1.3 1.3 0 1 0 2.6 0a1.3 1.3 0 1 0 -2.6 0M226.2 206.3a1.3 1.3 0 1 0 2.6 0a1.3 1.3 0 1 0 -2.6 0M230.5 198.4a1.3 1.3 0 1 0 2.6 0a1.3 1.3 0 1 0 -2.6 0M230.9 201.5a1.3 1.3 0 1 0 2.6 0a1.3 1.3 0 1 0 -2.6 0M231.4 204.5a1.3 1.3 0 1 0 2.6 0a1.3 1.3 0 1 0 -2.6 0M253.7 204.8a1.3 1.3 0 1 0 2.6 0a1.3 1.3 0 1 0 -2.6 0M278.3 197.8a1.3 1.3 0 1 0 2.6 0a1.3 1.3 0 1 0 -2.6 0M277 200.8a1.3 1.3 0 1 0 2.6 0a1.3 1.3 0 1 0 -2.6 0M276.3 203.9a1.3 1.3 0 1 0 2.6 0a1.3 1.3 0 1 0 -2.6 0M275.6 206.5a1.3 1.3 0 1 0 2.6 0a1.3 1.3 0 1 0 -2.6 0M279.7 201.8a1.3 1.3 0 1 0 2.6 0a1.3 1.3 0 1 0 -2.6 0M280.5 204.6a1.3 1.3 0 1 0 2.6 0a1.3 1.3 0 1 0 -2.6 0M328.7 202.3a1.3 1.3 0 1 0 2.6 0a1.3 1.3 0 1 0 -2.6 0M327.4 204.8a1.3 1.3 0 1 0 2.6 0a1.3 1.3 0 1 0 -2.6 0M330 205a1.3 1.3 0 1 0 2.6 0a1.3 1.3 0 1 0 -2.6 0M121.5 204.5a1.3 1.3 0 1 0 2.6 0a1.3 1.3 0 1 0 -2.6 0M99.8 26.6a1.3 1.3 0 1 0 2.6 0a1.3 1.3 0 1 0 -2.6 0" fill="none" stroke="#6c6cff" stroke-width="0.8"/>
<path d="M38.3 208.8 40.7 208.9 43.1 208.9 45.5 209 47.9 209.1 50.3 209.1 52.7 209.2 55.1 209.2 57.5 209.3 59.9 209.3 62.3 209.4 64.7 209.4 67.1 209.5 69.5 209.5 71.9 209.5 74.3 209.6 76.7 209.6 79.1 209.6 81.5 209.7 83.9 209.7 86.3 209.7 88.7 209.8 91.1 209.8 93.5 209.8 95.9 209.8 98.2 209.9 98.7 209.9 99.2 209.9 99.7 209.9 100.2 209.9 100.7 209.9 101 209.9 101.5 209.9 102 209.9 102.5 209.9 103 209.9 103.5 209.9 104.3 209.9 106.7 209.9 109.1 209.9 111.5 210 113.9 210 116.3 210 118.7 210 121.1 210 123.1 210 125.5 210 127.9 210.1 130.3 210.1 132.7 210.1 135.1 210.1 137.5 210.1 138.3 210.1 138.8 210.1 139.3 210.1 139.8 210.1 140.3 210.1 140.8 210.1 141.2 210.1 141.8 210.1 142.2 210.1 142.7 210.1 143.1 210.1 143.6 210.1 144.1 210.1 144.6 210.1 145.1 210.1 145.5 210.1 147.5 210.1 149.9 210.1 152.3 210.1 154.7 210.2 157.1 210.2 159.5 210.2 161.9 210.2 164.3 210.2 166.7 210.2 169.1 210.2 171 210.2 171.6 210.2 172.2 210.2 172.8 210.2 173.4 210.2 174 210.2 174.6 210.2 175.2 210.2 175.8 210.2 176.4 210.2 177 210.2 177.6 210.2 178.2 210.2 178.8 210.2 180.7 210.2 183.1 210.2 185.5 210.2 187.9 210.2 190.3 210.2 192.7 210.2 195.1 210.2 196.7 210.2 197.1 210.2 197.6 210.2 198.1 210.2 198.6 210.2 199.1 210.2 199.5 210.2 199.9 210.2 200.4 210.2 200.9 210.2 201.4 210.2 201.9 210.2 202.3 210.2 202.8 210.2 203.3 210.2 203.8 210.2 204.2 210.2 204.7 210.2 205.2 210.2 205.7 210.2 206.2 210.2 206.7 210.2 207.1 210.2 207.6 210.2 208.1 210.2 208.6 210.3 209.1 210.3 209.5 210.3 209.9 210.3 210.4 210.3 210.9 210.3 213.1 210.3 215.5 210.3 217.9 210.3 220.3 210.3 222.7 210.3 223.4 210.3 223.9 210.3 224.3 210.3 224.8 210.3 225.3 210.3 225.8 210.3 226.3 210.3 226.8 210.3 227.2 210.3 227.8 210.3 228.2 210.3 228.7 210.3 229.2 210.3 229.7 210.3 230.2 210.3 230.7 210.3 231.1 210.3 231.6 210.3 232.1 210.3 232.6 210.3 233.1 210.3 233.5 210.3 233.9 210.3 234.4 210.3 234.9 210.3 235.4 210.3 235.9 210.3 236.3 210.3 236.8 210.3 237.3 210.3 238.7 210.3 241.1 210.3 243.5 210.3 245.9 210.3 248.3 210.3 250.7 210.3 253.1 210.3 255.1 210.3 257.5 210.3 259.9 210.3 262.3 210.3 264.7 210.3 267.1 210.3 269.5 210.3 271.3 210.3 271.9 210.3 272.5 210.3 273.1 210.3 273.7 210.3 274.3 210.3 274.9 210.3 275.5 210.3 276.1 210.3 276.7 210.3 277.3 210.3 277.9 210.3 278.5 210.3 279.1 210.3 279.7 210.3 280.3 210.3 280.9 210.3 281.5 210.3 282.1 210.3 282.7 210.3 283.3 210.3 283.9 210.3 284.5 210.3 285.1 210.3 285.7 210.3 286.3 210.3 286.9 210.3 287.5 210.3 288.3 210.3 290.7 210.3 293.1 210.3 295.5 210.3 297.9 210.3 300.3 210.3 302.7 210.3 304.7 210.3 307.1 210.3 309.5 210.3 311.9 210.3 314.3 210.3 316.7 210.3 319.1 210.3 321.5 210.3 323.9 210.3 326.3 210.3 328.7 210.3" fill="none" stroke="#e8102c" stroke-width="1.6"/>
<path d="M38.3 221.9 38.7 221.8 39.1 221.9 39.5 222 39.9 222.2 40.3 222.2 40.7 222 41.1 222.1 41.5 222.2 41.9 222.3 42.3 222 42.7 222 43.1 222.3 43.5 222.4 43.9 222.4 44.3 222.6 44.7 222.3 45.1 222.3 45.5 222.2 45.9 221.8 46.3 221.8 46.7 221.9 47.1 221.7 47.5 221.8 47.9 222 48.3 222.2 48.7 222.5 49.1 222.2 49.5 222 49.9 221.8 50.3 221.9 50.7 221.7 51.1 221.6 51.5 221.7 51.9 222.1 52.3 222.2 52.7 222.6 53.1 222.6 53.5 222.6 53.9 222.7 54.3 222.7 54.7 222.5 55.1 222.3 55.5 222.3 55.9 222.4 56.3 222.6 56.7 222.5 57.1 222.2 57.5 222.3 57.9 222.2 58.3 222.2 58.7 222 59.1 222 59.5 222.2 59.9 222.1 60.3 222.2 60.7 222.3 61.1 222.2 61.5 222.2 61.9 222.2 62.3 222.1 62.7 222 63.1 221.9 63.5 222 63.9 222.4 64.3 222.3 64.7 222.1 65.1 222.1 65.5 222.2 65.9 222.3 66.3 222.2 66.7 222 67.1 222.4 67.5 222.4 67.9 222.5 68.3 222.8 68.7 222.7 69.1 222.6 69.5 222.8 69.9 222.6 70.3 222.6 70.7 222.4 71.1 222.4 71.5 222.6 71.9 222.9 72.3 222.9 72.7 222.9 73.1 222.9 73.5 223.1 73.9 222.9 74.3 222.9 74.7 222.6 75.1 222.5 75.5 222.6 75.9 222.6 76.3 222.5 76.7 222.7 77.1 222.8 77.5 222.7 77.9 222.6 78.3 222.6 78.7 222.6 79.1 222.7 79.5 222.6 79.9 222.4 80.3 222.7 80.7 222.9 81.1 222.7 81.5 222.3 81.9 222.3 82.3 222.2 82.7 222.1 83.1 221.7 83.5 221.6 83.9 221.7 84.3 222 84.7 222 85.1 222.4 85.5 222.7 85.9 223 86.3 222.9 86.7 223 87.1 223.1 87.5 223.1 87.9 222.9 88.3 222.7 88.7 222.6 89.1 222.6 89.5 222.6 89.9 222.8 90.3 222.6 90.7 222.6 91.1 222.4 91.5 222.4 91.9 222.6 92.3 222.4 92.7 222.4 93.1 222.5 93.5 222.2 93.9 222.2 94.3 222.2 94.7 222.1 95.1 222.4 95.5 222 95.9 221.9 96.3 222.3 96.7 222.3 97.1 222.3 97.5 222.3 97.9 222.2 98.2 222.4 98.3 222.7 98.3 222.5 98.5 222.6 98.5 222.7 98.7 222.6 98.7 222.6 98.8 222.8 98.8 222.7 99 222.5 99 222.3 99.1 222 99.2 222.1 99.2 222 99.3 221.7 99.5 221.4 99.5 221.8 99.5 221.7 99.7 221.7 99.8 221.5 99.8 221.3 99.9 221.1 100 221.2 100 220.4 100.2 219.8 100.2 219 100.3 218.7 100.3 218 100.5 216.9 100.5 215.4 100.7 214.7 100.7 214.2 100.8 213.7 100.8 212.8 101 212.6 101 212.9 101 213.2 101.1 213 101.2 213.4 101.2 214.7 101.3 216.2 101.5 218 101.5 218.7 101.5 219.5 101.7 221.4 101.8 222.8 101.8 223.9 101.9 224.4 102 224.7 102 225.2 102.2 225.2 102.2 225.2 102.3 225.3 102.3 224.8 102.5 224.4 102.5 224.1 102.7 223.9 102.7 223.7 102.8 223.6 102.8 223.1 103 223 103 223.1 103.1 222.8 103.2 222.6 103.2 222.4 103.3 222 103.5 221.9 103.5 222 103.5 221.5 103.7 221.7 103.8 221.7 103.9 221.8 104.3 221.9 104.7 222.1 105.1 222.3 105.5 222.5 105.9 222.5 106.3 222.8 106.7 223 107.1 223.1 107.5 222.9 107.9 222.7 108.3 222.7 108.7 222.6 109.1 222.1 109.5 221.9 109.9 221.9 110.3 222 110.7 222 111.1 222.2 111.5 222.2 111.9 222.4 112.3 222.7 112.7 222.4 113.1 222.4 113.5 222.4 113.9 222.1 114.3 221.8 114.7 221.9 115.1 221.8 115.5 221.9 115.9 222.2 116.3 222.2 116.7 222.4 117.1 222.5 117.5 222.5 117.9 222.6 118.3 222.9 118.7 222.9 119.1 222.9 119.5 222.7 119.9 222.8 120.3 223 120.7 222.7 121.1 222.5 121.5 222.1 121.9 221.9 122.3 222.1 122.7 222.2 122.8 222 123.1 221.9 123.5 221.8 123.9 222.3 124.3 222.3 124.7 221.8 125.1 221.8 125.5 221.7 125.9 222 126.3 221.8 126.7 221.4 127.1 221.4 127.5 221.8 127.9 221.8 128.3 222 128.7 221.9 129.1 222.1 129.5 222.2 129.9 222.4 130.3 222.4 130.7 222.4 131.1 222.3 131.5 222.2 131.9 222.1 132.3 222.3 132.7 222.2 133.1 222.1 133.5 221.9 133.9 221.7 134.3 222 134.7 222.1 135.1 222 135.5 221.9 135.9 221.8 136.3 221.9 136.7 222 137.1 222.2 137.5 222.1 137.9 222.1 138.1 222.4 138.2 222.4 138.2 222.6 138.3 222.7 138.3 222.5 138.4 222.3 138.6 222.4 138.7 222.4 138.7 222.2 138.8 221.8 138.8 221.6 138.9 221.8 139.1 222 139.1 222 139.2 221.9 139.2 222.3 139.3 222.6 139.4 222.6 139.5 222.5 139.6 222.5 139.7 222.5 139.8 222.5 139.8 222.3 139.9 222.5 139.9 222.7 140.1 222.7 140.2 222.3 140.2 222.4 140.3 222 140.3 222.1 140.4 221.8 140.6 221.6 140.7 221.2 140.7 221.4 140.8 221.1 140.8 221.1 140.9 220.5 141.1 219.7 141.1 219.2 141.2 218.9 141.2 218.1 141.3 217.2 141.4 216.4 141.5 216 141.6 216.1 141.7 216 141.8 215.7 141.8 215.8 141.8 215.9 141.9 216 141.9 216.2 142.1 216.9 142.2 217.8 142.2 218.8 142.3 219.2 142.3 219.7 142.4 220.8 142.6 221.7 142.7 222.3 142.7 222.2 142.8 222.6 142.8 223.2 142.9 223.5 143.1 223.5 143.1 223.4 143.2 223.2 143.2 223.2 143.3 223.2 143.4 222.8 143.5 222.5 143.6 222.6 143.7 222.7 143.8 222.8 143.8 222.7 143.9 222.5 143.9 222.7 144.1 222.5 144.2 222.5 144.2 222.2 144.3 222.2 144.3 222.3 144.4 222.3 144.6 222.4 144.7 222.5 144.7 222.3 144.8 222.5 144.8 222.2 144.9 222.4 145.1 222.3 145.1 222 145.2 222 145.2 222.2 145.3 222 145.4 222.4 145.5 222.2 145.6 222.1 145.9 222.1 146.3 222.4 146.7 222.4 147.1 222.7 147.5 222.6 147.9 222.7 148.3 223 148.7 223.2 149.1 223 149.5 223 149.9 222.9 150.3 222.9 150.7 222.8 151.1 222.4 151.5 222.6 151.9 222.4 152.3 222 152.7 221.9 153.1 222.1 153.5 222.2 153.9 222.4 154.3 222.1 154.7 222.3 155.1 222.3 155.5 222.4 155.9 222.2 156.3 222.1 156.7 222.1 157.1 221.8 157.5 221.6 157.9 221.9 158.3 221.9 158.7 221.9 159.1 221.8 159.5 221.9 159.9 222 160.3 222.2 160.7 222.2 161.1 222.3 161.5 222.4 161.9 222.3 162.3 222 162.7 222 163.1 222.2 163.5 222 163.9 222 164.3 221.8 164.7 222.1 165.1 222.8 165.5 222.9 165.9 222.6 166.3 222.7 166.7 222.7 167.1 222.7 167.5 222.5 167.9 222.3 168.3 222.5 168.7 222.6 169.1 222.6 169.5 222.6 169.9 222.3 170.3 222.5 170.7 222.2 170.9 222 171 222.1 171.1 222 171.2 221.9 171.3 222.2 171.4 222.4 171.5 222.4 171.6 222.6 171.7 222.4 171.8 222.6 171.9 222.7 172 222.5 172.1 222.4 172.2 222.7 172.3 222.5 172.4 222.7 172.5 222.5 172.6 222.6 172.7 222.8 172.8 222.5 172.9 222.4 173 222.2 173.1 222 173.2 221.9 173.3 221.8 173.4 222.1 173.5 222.1 173.6 221.9 173.7 221.8 173.8 221.7 173.9 221.7 174 221.4 174.1 220.5 174.2 220.1 174.3 219.2 174.4 218.8 174.5 218.1 174.6 217.3 174.7 216.8 174.8 216.6 174.9 216.7 175 217.3 175.1 217.8 175.2 218.4 175.3 219.3 175.4 220.1 175.5 220.9 175.6 221.8 175.7 222.3 175.8 222.8 175.9 223.4 176 223.4 176.1 223.4 176.2 223.3 176.3 222.9 176.4 222.9 176.5 222.6 176.6 222.3 176.7 222.4 176.8 222.4 176.9 222.5 177 222.5 177.1 222.4 177.2 222.3 177.3 222.2 177.4 222.2 177.5 222.1 177.6 222.1 177.7 222.1 177.8 222.2 177.9 222.1 178 222.1 178.1 222.1 178.2 222.1 178.3 222.2 178.4 222.5 178.5 222.3 178.6 222.3 178.7 222.4 178.8 222.6 178.9 222.6 179.1 222.1 179.5 221.8 179.9 221.7 180.3 222 180.7 221.9 181.1 221.8 181.5 222 181.9 222.2 182.3 222.1 182.7 222.3 183.1 222.3 183.5 222.3 183.9 222.3 184.3 222.2 184.7 222.2 185.1 222.2 185.5 222.2 185.9 222.3 186.3 222.4 186.7 222.5 187.1 222.7 187.5 222.9 187.9 223.1 188.3 223 188.7 222.7 189.1 222.6 189.5 222.5 189.9 222.1 190.3 221.8 190.7 222 191.1 222.1 191.5 222.3 191.9 222.3 192.3 222.2 192.7 222.5 193.1 222.8 193.5 222.5 193.9 222.5 194.3 222.6 194.7 222.5 195.1 222.6 195.5 222.5 195.9 222.4 196.3 222.4 196.4 222.5 196.6 222.2 196.7 222.5 196.7 222.5 196.8 222.4 196.8 222.3 196.9 222.4 197.1 222.1 197.1 222.5 197.2 222.4 197.2 222.5 197.3 222.4 197.4 222.5 197.5 222.4 197.6 222.3 197.7 222.1 197.8 222.2 197.8 222.1 197.9 222.3 197.9 222.5 198.1 222.5 198.2 222.7 198.2 222.6 198.3 222.4 198.3 222.3 198.4 222.3 198.6 222.1 198.7 222.3 198.7 222.2 198.8 222.1 198.8 222 198.9 222.1 199.1 222.1 199.1 222.1 199.2 222.3 199.2 222.4 199.3 222.6 199.4 222.8 199.5 222.9 199.6 222.8 199.7 222.8 199.8 222.4 199.8 222.6 199.9 222.5 199.9 222.4 200.1 222.4 200.2 222.3 200.2 222.3 200.3 222.5 200.3 222.4 200.4 222.1 200.6 222.3 200.7 222.1 200.7 222.1 200.8 222.4 200.8 222 200.9 222 201.1 222.3 201.1 222 201.2 222.4 201.2 222.5 201.3 222.7 201.4 222.9 201.5 223 201.6 222.8 201.7 222.9 201.8 222.5 201.8 222.5 201.9 222.2 201.9 222.1 202.1 221.9 202.2 221.7 202.2 221.9 202.3 222 202.3 222 202.4 221.8 202.6 222 202.7 222.1 202.7 222.4 202.8 222.1 202.8 221.8 202.9 221.6 203.1 221 203.1 220.9 203.2 220.5 203.2 219.9 203.3 219.6 203.4 219.4 203.5 219.4 203.6 219.7 203.7 219.7 203.7 220.1 203.8 220.3 203.8 220.6 203.9 220.6 203.9 220.7 204.1 221 204.2 221.2 204.2 221.5 204.3 221.8 204.3 221.9 204.4 222.1 204.6 222.6 204.7 222.9 204.7 223 204.8 223.2 204.8 223.1 204.9 223.1 205.1 223.8 205.1 223.4 205.2 223.4 205.2 223.3 205.3 223.1 205.4 223.1 205.5 222.9 205.6 222.3 205.7 222.2 205.8 222.2 205.8 222.1 205.9 222.2 205.9 222.3 206.1 222.4 206.2 222.3 206.2 222.4 206.3 222.2 206.3 222.4 206.4 222.2 206.6 222 206.7 221.8 206.7 222.1 206.8 222.3 206.8 222.2 206.9 222 207.1 222.2 207.1 222.3 207.2 222.3 207.2 222.3 207.3 222.1 207.4 222.2 207.5 222.4 207.6 222.3 207.7 222.4 207.8 222.5 207.8 222.3 207.9 222.3 207.9 222 208.1 221.7 208.2 221.9 208.2 221.9 208.3 221.9 208.3 222 208.4 222.1 208.6 222.4 208.7 222.6 208.7 222.7 208.8 222.7 208.8 222.7 208.9 222.7 209.1 222.4 209.1 222.2 209.2 222.2 209.2 222.1 209.3 222 209.4 222.2 209.5 222.3 209.6 222.5 209.7 222.4 209.8 222.5 209.8 222.5 209.9 222.5 209.9 222.5 210.1 222.2 210.2 222.4 210.2 222.6 210.3 222.7 210.3 222.7 210.4 222.7 210.6 222.6 210.7 222.7 210.7 222.5 210.8 222.2 210.8 222.1 210.9 222 211.1 221.9 211.5 221.8 211.9 221.8 212.3 222 212.7 222 213.1 222.1 213.5 222.3 213.9 222.4 214.3 222.5 214.7 222.4 215.1 222 215.5 221.9 215.9 222 216.3 221.8 216.7 221.7 217.1 221.5 217.5 221.8 217.9 222.1 218.3 222.2 218.7 222.2 219.1 222.4 219.5 222.7 219.9 222.9 220.3 222.9 220.7 223 221.1 222.9 221.5 222.8 221.9 222.6 222.3 222.2 222.7 222.3 223.1 222.1 223.1 222.2 223.2 222.2 223.2 222.1 223.3 222.2 223.4 222.2 223.5 222.2 223.6 222.2 223.7 221.8 223.8 221.6 223.8 221.5 223.9 221.7 223.9 221.8 224.1 221.8 224.2 221.9 224.2 222 224.3 222.4 224.3 222.4 224.4 222.1 224.6 221.9 224.7 222 224.7 222 224.8 222.1 224.8 222 224.9 222.5 225.1 222.6 225.1 222.8 225.2 222.8 225.2 223 225.3 223 225.4 222.9 225.5 222.7 225.6 222.9 225.7 222.9 225.8 222.7 225.8 222.4 225.9 222.4 225.9 222.6 226.1 222.5 226.2 222.1 226.2 222.3 226.3 222.5 226.3 222.6 226.4 222.7 226.6 222.5 226.7 222.6 226.7 222.7 226.8 222.6 226.8 222.5 226.9 222.6 227.1 222.4 227.1 222.6 227.2 222.6 227.2 222.6 227.3 222.5 227.4 222.4 227.5 222.3 227.6 222.3 227.7 222.2 227.8 222.1 227.8 222.3 227.9 222.2 227.9 222.3 228.1 222.1 228.2 222.1 228.2 222.1 228.3 222.1 228.3 222 228.4 221.9 228.6 221.9 228.7 221.8 228.7 221.9 228.8 222.3 228.8 222.1 228.9 222.1 229.1 222.2 229.1 222.2 229.2 222.3 229.2 221.9 229.3 221.3 229.4 221.2 229.5 221.1 229.6 221.2 229.7 220.7 229.8 220.5 229.8 220.2 229.9 220.4 229.9 220.2 230.1 219.8 230.2 219.5 230.2 219.7 230.3 219.5 230.3 219.5 230.4 219.4 230.6 219.6 230.7 220.1 230.7 220.3 230.8 220.3 230.8 221 230.9 221.7 231.1 222.2 231.1 222.4 231.2 222.3 231.2 222.5 231.3 222.6 231.4 222.6 231.5 222.5 231.6 222.6 231.7 222.5 231.8 222.6 231.8 222.5 231.9 222.5 231.9 222.6 232.1 222.4 232.2 222 232.2 222.3 232.3 222.2 232.3 222 232.4 222.1 232.6 221.8 232.7 222.1 232.7 222.4 232.8 222.3 232.8 222.5 232.9 222.9 233.1 222.9 233.1 222.9 233.2 222.8 233.2 222.5 233.3 222.4 233.4 222.5 233.5 222.2 233.6 222 233.7 222.3 233.8 222.3 233.8 222.4 233.9 222.5 233.9 222.4 234.1 222.4 234.2 222.6 234.2 222.4 234.3 222.2 234.3 222.4 234.4 222.2 234.6 222.4 234.7 222.4 234.7 222.4 234.8 222.3 234.8 222.3 234.9 222.4 235.1 222.6 235.1 222.4 235.2 222.4 235.2 222.3 235.3 222.6 235.4 222.8 235.5 222.5 235.6 222.4 235.7 222.3 235.8 222.4 235.8 222.4 235.9 222 235.9 222.1 236.1 222 236.2 222.1 236.2 222.2 236.3 222.3 236.3 222.2 236.4 222.4 236.6 222.1 236.7 222.4 236.7 222.8 236.8 223 236.8 222.9 236.9 223.2 237.1 223.1 237.1 223.5 237.2 223.2 237.2 223 237.3 222.8 237.4 222.6 237.5 222.3 237.6 222.5 237.9 222 238.3 222 238.7 222.1 239.1 222.1 239.5 222.4 239.9 222.6 240.3 222.4 240.7 222.5 241.1 222.3 241.5 222.2 241.9 222.2 242.3 222.1 242.7 221.9 243.1 222.1 243.5 221.9 243.9 222.2 244.3 222.4 244.7 222.4 245.1 222.5 245.5 222.5 245.9 222.3 246.3 222.7 246.7 222.5 247.1 222.5 247.5 222.3 247.9 222.3 248.3 222.2 248.7 222 249.1 222.1 249.5 222.2 249.9 221.9 250.3 222 250.7 221.8 251.1 222.1 251.5 222.3 251.9 222.5 252.3 222.4 252.7 222.6 253.1 222.5 253.5 222.6 253.9 222.4 254.3 222.4 254.7 222.2 255 222.3 255.1 222.3 255.5 222.6 255.9 222.6 256.3 222.6 256.7 222.4 257.1 222.5 257.5 222.5 257.9 222.4 258.3 222.4 258.7 222.5 259.1 222.5 259.5 222.6 259.9 222.3 260.3 222.2 260.7 222 261.1 221.9 261.5 222 261.9 222.3 262.3 222 262.7 222.1 263.1 222.2 263.5 222.4 263.9 222.5 264.3 222.5 264.7 222.4 265.1 222.6 265.5 222.5 265.9 222.5 266.3 222.3 266.7 222.2 267.1 222.3 267.5 222.2 267.9 222.2 268.3 222.2 268.7 222.3 269.1 222.3 269.5 222.3 269.9 222.1 270.3 221.9 270.7 221.9 271.1 221.9 271.2 221.9 271.3 221.8 271.4 221.9 271.5 222 271.6 222.2 271.7 222.1 271.8 222.1 271.9 221.9 272 222 272.1 221.9 272.2 221.7 272.3 221.4 272.4 221.6 272.5 221.5 272.6 221.6 272.7 221.7 272.8 221.9 272.9 222.1 273 222.3 273.1 222.2 273.2 222.3 273.3 222.4 273.4 222.5 273.5 222.7 273.6 222.3 273.7 222.3 273.8 222.3 273.9 222.4 274 222.3 274.1 222.4 274.2 222 274.3 222.4 274.4 222.4 274.5 222.3 274.6 222.3 274.7 222.3 274.8 222.1 274.9 222.3 275 222 275.1 222 275.2 222.2 275.3 222.2 275.4 222.3 275.5 222.5 275.6 222.5 275.7 222.5 275.8 222.3 275.9 222.5 276 222.4 276.1 222.4 276.2 222.6 276.3 222.8 276.4 222.7 276.5 222.9 276.6 222.8 276.7 222.8 276.8 222.7 276.9 222.6 277 222.3 277.1 222.5 277.2 222.2 277.3 222.5 277.4 222.6 277.5 222.5 277.6 222.3 277.7 222.4 277.8 222.4 277.9 222.4 278 222 278.1 221.9 278.2 221.9 278.3 222.1 278.4 222.3 278.5 222.3 278.6 222.4 278.7 222.5 278.8 222.3 278.9 222.2 279 221.8 279.1 221.4 279.2 221.3 279.3 221.1 279.4 220.9 279.5 220.8 279.6 220.8 279.7 221.2 279.8 221.4 279.9 221.5 280 221.4 280.1 221.6 280.2 222.1 280.3 222.3 280.4 222.5 280.5 222.5 280.6 222.5 280.7 222.8 280.8 222.8 280.9 222.8 281 222.8 281.1 222.3 281.2 222.3 281.3 222.4 281.4 222.6 281.5 222.4 281.6 222.4 281.7 222.5 281.8 222.8 281.9 222.7 282 222.5 282.1 222.2 282.2 222.4 282.3 222.3 282.4 222.3 282.5 222.5 282.6 222.6 282.7 222.7 282.8 223 282.9 222.8 283 222.7 283.1 222.5 283.2 222.2 283.3 222.2 283.4 222.1 283.5 222.1 283.6 222 283.7 222 283.8 221.8 283.9 221.7 284 221.8 284.1 221.9 284.2 221.8 284.3 222 284.4 222.2 284.5 222.4 284.6 222.5 284.7 222.5 284.8 222.7 284.9 222.6 285 222.6 285.1 222.6 285.2 222.8 285.3 222.9 285.4 222.9 285.5 222.6 285.6 222.6 285.7 222.3 285.8 222.2 285.9 222.4 286 222.3 286.1 222.2 286.2 222.4 286.3 222.4 286.4 222.5 286.5 222.4 286.6 222.1 286.7 222.1 286.8 222 286.9 222 287 221.8 287.1 221.8 287.2 221.8 287.3 221.8 287.4 221.9 287.5 222.1 287.6 222.2 287.7 222.3 287.8 222.4 287.9 222.3 288 222.3 288.3 222.4 288.7 222.4 289.1 222.3 289.5 222.3 289.9 222.4 290.3 222.6 290.7 222.7 291.1 222.5 291.5 222.3 291.9 222.3 292.3 222.3 292.7 222.4 293.1 222.2 293.5 222.4 293.9 222.3 294.3 222.3 294.7 222.3 295.1 222.4 295.5 222.2 295.9 222.4 296.3 222.2 296.7 222 297.1 222.2 297.5 222.1 297.9 222.3 298.3 222.4 298.7 222.1 299.1 222.3 299.5 222.5 299.9 222.4 300.3 222.7 300.7 222.6 301.1 222.5 301.5 222.7 301.9 222.3 302.3 222.5 302.7 222.5 303.1 222.1 303.4 222 303.5 222.3 303.9 222.4 304.3 222.5 304.7 222.3 305.1 222.1 305.5 222.1 305.9 222.1 306.3 222 306.7 222 307.1 222.2 307.5 222.2 307.9 222.2 308.3 222.5 308.7 222.5 309.1 222.5 309.5 222.2 309.9 222 310.3 222.2 310.7 222.2 311.1 222.1 311.5 222.2 311.9 222.1 312.3 222 312.7 222.2 313.1 222.3 313.5 222.3 313.9 222.1 314.3 222.2 314.7 222.2 315.1 222.3 315.5 222.4 315.9 222.2 316.3 222.4 316.7 222.5 317.1 222.3 317.5 222.3 317.9 222.3 318.3 221.9 318.7 221.9 319.1 222 319.5 222.1 319.9 222.5 320.3 222.6 320.7 222.9 321.1 223.1 321.5 223.2 321.9 223.1 322.3 222.8 322.7 222.6 323.1 222.5 323.5 222.3 323.9 222.2 324.3 222.2 324.7 222.3 325.1 222.3 325.5 222.2 325.9 222.3 326.3 222.3 326.7 222.4 327.1 222.3 327.5 222 327.9 222 328.3 222 328.7 221.9" fill="none" stroke="#20b8b8" stroke-width="1.9" stroke-linejoin="round"/>
<path d="M63.4 227.5V233.6M72.2 227.5V233.6M100.9 227.5V233.6M117.5 227.5V233.6M122.8 227.5V233.6M141.5 227.5V233.6M154.6 227.5V233.6M159 227.5V233.6M174.5 227.5V233.6M185.5 227.5V233.6M203.3 227.5V233.6M213.5 227.5V233.6M216.9 227.5V233.6M230.1 227.5V233.6M239.6 227.5V233.6M242.5 227.5V233.6M255.5 227.5V233.6M264.2 227.5V233.6M267.2 227.5V233.6M279.4 227.5V233.6M288.7 227.5V233.6M303.2 227.5V233.6M312.4 227.5V233.6M316 227.5V233.6M328 227.5V233.6" stroke="#5858ff" stroke-width="1.2"/>
<path d="M156.2 96.8L131.7 118.2L155.2 145.4L179 124.2Z" fill="#c8cccd"/>
<path d="M156.4 119.8L156.2 96.8M156.4 119.8L131.7 118.2M156.4 119.8L146.4 126.8M156.4 119.8L179 124.2M156.4 119.8L155.2 145.4M156.4 119.8L165.4 115.2" stroke="#e8a8a0" stroke-width="1.3"/>
<circle cx="156.4" cy="119.8" r="5.8" fill="url(#gRuA)"/>
<path d="M156.2 96.8L131.7 118.2L146.4 126.8Z" fill="rgba(130,136,140,0.6)"/>
<path d="M156.2 96.8L146.4 126.8L179 124.2Z" fill="rgba(205,210,212,0.55)"/>
<path d="M155.2 145.4L131.7 118.2L146.4 126.8Z" fill="rgba(185,190,192,0.55)"/>
<path d="M155.2 145.4L146.4 126.8L179 124.2Z" fill="rgba(220,224,226,0.5)"/>
<path d="M156.2 96.8L146.4 126.8L155.2 145.4M131.7 118.2L146.4 126.8L179 124.2" stroke="#ffffff" stroke-opacity="0.35" stroke-width="0.6" fill="none"/>
<circle cx="156.2" cy="96.8" r="3.3" fill="url(#gO)"/>
<circle cx="131.7" cy="118.2" r="3.3" fill="url(#gO)"/>
<circle cx="146.4" cy="126.8" r="3.3" fill="url(#gO)"/>
<circle cx="179" cy="124.2" r="3.3" fill="url(#gO)"/>
<circle cx="155.2" cy="145.4" r="3.3" fill="url(#gO)"/>
<path d="M159.5 98.5L164 100.5" stroke="#222" stroke-width="0.9" stroke-dasharray="1 1"/>
<text x="165.2" y="104.2" font-size="11" text-anchor="start" >O</text>
<path d="M156.4 118.6L172.9 112.2" stroke="#222" stroke-width="0.8"/>
<text x="173.5" y="117.8" font-size="11" text-anchor="start" >Ru</text>
<path d="M151 124.5L173.7 133" stroke="#111" stroke-width="0.8"/>
<path d="M176.5 134L173.2 134.2L174.1 131.7Z" fill="#111"/>
<path d="M170.5 124.5L174.9 131.3" stroke="#111" stroke-width="0.8"/>
<path d="M176.5 133.8L173.8 132L176 130.6Z" fill="#111"/>
<path d="M156 135L172 135.8" stroke="#111" stroke-width="0.8"/>
<path d="M175 136L171.9 137.1L172.1 134.5Z" fill="#111"/>
<text x="174.8" y="144.6" font-size="11" text-anchor="start" >1.92 Å</text>
<path d="M291.3 48.7L282 57.8L291.3 69.3L300.6 60.2Z" fill="#bcc0c4" fill-opacity="0.85"/>
<path d="M291.3 48.7L282 57.8L286.5 61.4Z" fill="#7e848a" fill-opacity="0.6"/>
<path d="M291.3 69.3L300.6 60.2L286.5 61.4Z" fill="#f4f6f8" fill-opacity="0.5"/>
<path d="M291.3 48.7L282 57.8L291.3 69.3L300.6 60.2Z" fill="none" stroke="#f2f4f6" stroke-width="0.5" stroke-opacity="0.8"/>
<circle cx="291.3" cy="59" r="2.7" fill="url(#gBl)"/>
<path d="M291.3 29.4L282 38.5L291.3 50L300.6 40.9Z" fill="#bcc0c4" fill-opacity="0.85"/>
<path d="M291.3 29.4L282 38.5L286.5 42.1Z" fill="#7e848a" fill-opacity="0.6"/>
<path d="M291.3 50L300.6 40.9L286.5 42.1Z" fill="#f4f6f8" fill-opacity="0.5"/>
<path d="M291.3 29.4L282 38.5L291.3 50L300.6 40.9Z" fill="none" stroke="#f2f4f6" stroke-width="0.5" stroke-opacity="0.8"/>
<circle cx="291.3" cy="39.7" r="2.7" fill="url(#gBe)"/>
<path d="M291.3 10.1L282 19.2L291.3 30.7L300.6 21.6Z" fill="#bcc0c4" fill-opacity="0.85"/>
<path d="M291.3 10.1L282 19.2L286.5 22.8Z" fill="#7e848a" fill-opacity="0.6"/>
<path d="M291.3 30.7L300.6 21.6L286.5 22.8Z" fill="#f4f6f8" fill-opacity="0.5"/>
<path d="M291.3 10.1L282 19.2L291.3 30.7L300.6 21.6Z" fill="none" stroke="#f2f4f6" stroke-width="0.5" stroke-opacity="0.8"/>
<circle cx="291.3" cy="20.4" r="2.7" fill="url(#gBl)"/>
<path d="M308.1 50.9L298.8 60L308.1 71.5L317.4 62.4Z" fill="#bcc0c4" fill-opacity="0.85"/>
<path d="M308.1 50.9L298.8 60L303.3 63.6Z" fill="#7e848a" fill-opacity="0.6"/>
<path d="M308.1 71.5L317.4 62.4L303.3 63.6Z" fill="#f4f6f8" fill-opacity="0.5"/>
<path d="M308.1 50.9L298.8 60L308.1 71.5L317.4 62.4Z" fill="none" stroke="#f2f4f6" stroke-width="0.5" stroke-opacity="0.8"/>
<circle cx="308.1" cy="61.2" r="2.7" fill="url(#gBe)"/>
<path d="M308.1 31.6L298.8 40.7L308.1 52.2L317.4 43.1Z" fill="#bcc0c4" fill-opacity="0.85"/>
<path d="M308.1 31.6L298.8 40.7L303.3 44.3Z" fill="#7e848a" fill-opacity="0.6"/>
<path d="M308.1 52.2L317.4 43.1L303.3 44.3Z" fill="#f4f6f8" fill-opacity="0.5"/>
<path d="M308.1 31.6L298.8 40.7L308.1 52.2L317.4 43.1Z" fill="none" stroke="#f2f4f6" stroke-width="0.5" stroke-opacity="0.8"/>
<circle cx="308.1" cy="41.9" r="2.7" fill="url(#gBl)"/>
<path d="M308.1 12.3L298.8 21.4L308.1 32.9L317.4 23.8Z" fill="#bcc0c4" fill-opacity="0.85"/>
<path d="M308.1 12.3L298.8 21.4L303.3 25Z" fill="#7e848a" fill-opacity="0.6"/>
<path d="M308.1 32.9L317.4 23.8L303.3 25Z" fill="#f4f6f8" fill-opacity="0.5"/>
<path d="M308.1 12.3L298.8 21.4L308.1 32.9L317.4 23.8Z" fill="none" stroke="#f2f4f6" stroke-width="0.5" stroke-opacity="0.8"/>
<circle cx="308.1" cy="22.6" r="2.7" fill="url(#gBe)"/>
<path d="M265.5 50.9L256.2 60L265.5 71.5L274.8 62.4Z" fill="#bcc0c4" fill-opacity="0.85"/>
<path d="M265.5 50.9L256.2 60L260.7 63.6Z" fill="#7e848a" fill-opacity="0.6"/>
<path d="M265.5 71.5L274.8 62.4L260.7 63.6Z" fill="#f4f6f8" fill-opacity="0.5"/>
<path d="M265.5 50.9L256.2 60L265.5 71.5L274.8 62.4Z" fill="none" stroke="#f2f4f6" stroke-width="0.5" stroke-opacity="0.8"/>
<circle cx="265.5" cy="61.2" r="2.7" fill="url(#gBl)"/>
<path d="M265.5 31.6L256.2 40.7L265.5 52.2L274.8 43.1Z" fill="#bcc0c4" fill-opacity="0.85"/>
<path d="M265.5 31.6L256.2 40.7L260.7 44.3Z" fill="#7e848a" fill-opacity="0.6"/>
<path d="M265.5 52.2L274.8 43.1L260.7 44.3Z" fill="#f4f6f8" fill-opacity="0.5"/>
<path d="M265.5 31.6L256.2 40.7L265.5 52.2L274.8 43.1Z" fill="none" stroke="#f2f4f6" stroke-width="0.5" stroke-opacity="0.8"/>
<circle cx="265.5" cy="41.9" r="2.7" fill="url(#gBe)"/>
<path d="M265.5 12.3L256.2 21.4L265.5 32.9L274.8 23.8Z" fill="#bcc0c4" fill-opacity="0.85"/>
<path d="M265.5 12.3L256.2 21.4L260.7 25Z" fill="#7e848a" fill-opacity="0.6"/>
<path d="M265.5 32.9L274.8 23.8L260.7 25Z" fill="#f4f6f8" fill-opacity="0.5"/>
<path d="M265.5 12.3L256.2 21.4L265.5 32.9L274.8 23.8Z" fill="none" stroke="#f2f4f6" stroke-width="0.5" stroke-opacity="0.8"/>
<circle cx="265.5" cy="22.6" r="2.7" fill="url(#gBl)"/>
<path d="M282.3 53.1L273 62.2L282.3 73.7L291.6 64.6Z" fill="#bcc0c4" fill-opacity="0.85"/>
<path d="M282.3 53.1L273 62.2L277.5 65.8Z" fill="#7e848a" fill-opacity="0.6"/>
<path d="M282.3 73.7L291.6 64.6L277.5 65.8Z" fill="#f4f6f8" fill-opacity="0.5"/>
<path d="M282.3 53.1L273 62.2L282.3 73.7L291.6 64.6Z" fill="none" stroke="#f2f4f6" stroke-width="0.5" stroke-opacity="0.8"/>
<circle cx="282.3" cy="63.4" r="2.7" fill="url(#gBe)"/>
<path d="M282.3 33.8L273 42.9L282.3 54.4L291.6 45.3Z" fill="#bcc0c4" fill-opacity="0.85"/>
<path d="M282.3 33.8L273 42.9L277.5 46.5Z" fill="#7e848a" fill-opacity="0.6"/>
<path d="M282.3 54.4L291.6 45.3L277.5 46.5Z" fill="#f4f6f8" fill-opacity="0.5"/>
<path d="M282.3 33.8L273 42.9L282.3 54.4L291.6 45.3Z" fill="none" stroke="#f2f4f6" stroke-width="0.5" stroke-opacity="0.8"/>
<circle cx="282.3" cy="44.1" r="2.7" fill="url(#gBl)"/>
<path d="M282.3 14.5L273 23.6L282.3 35.1L291.6 26Z" fill="#bcc0c4" fill-opacity="0.85"/>
<path d="M282.3 14.5L273 23.6L277.5 27.2Z" fill="#7e848a" fill-opacity="0.6"/>
<path d="M282.3 35.1L291.6 26L277.5 27.2Z" fill="#f4f6f8" fill-opacity="0.5"/>
<path d="M282.3 14.5L273 23.6L282.3 35.1L291.6 26Z" fill="none" stroke="#f2f4f6" stroke-width="0.5" stroke-opacity="0.8"/>
<circle cx="282.3" cy="24.8" r="2.7" fill="url(#gBe)"/>
<path d="M299.1 55.3L289.8 64.4L299.1 75.9L308.4 66.8Z" fill="#bcc0c4" fill-opacity="0.85"/>
<path d="M299.1 55.3L289.8 64.4L294.3 68Z" fill="#7e848a" fill-opacity="0.6"/>
<path d="M299.1 75.9L308.4 66.8L294.3 68Z" fill="#f4f6f8" fill-opacity="0.5"/>
<path d="M299.1 55.3L289.8 64.4L299.1 75.9L308.4 66.8Z" fill="none" stroke="#f2f4f6" stroke-width="0.5" stroke-opacity="0.8"/>
<circle cx="299.1" cy="65.6" r="2.7" fill="url(#gBl)"/>
<path d="M299.1 36L289.8 45.1L299.1 56.6L308.4 47.5Z" fill="#bcc0c4" fill-opacity="0.85"/>
<path d="M299.1 36L289.8 45.1L294.3 48.7Z" fill="#7e848a" fill-opacity="0.6"/>
<path d="M299.1 56.6L308.4 47.5L294.3 48.7Z" fill="#f4f6f8" fill-opacity="0.5"/>
<path d="M299.1 36L289.8 45.1L299.1 56.6L308.4 47.5Z" fill="none" stroke="#f2f4f6" stroke-width="0.5" stroke-opacity="0.8"/>
<circle cx="299.1" cy="46.3" r="2.7" fill="url(#gBe)"/>
<path d="M299.1 16.7L289.8 25.8L299.1 37.3L308.4 28.2Z" fill="#bcc0c4" fill-opacity="0.85"/>
<path d="M299.1 16.7L289.8 25.8L294.3 29.4Z" fill="#7e848a" fill-opacity="0.6"/>
<path d="M299.1 37.3L308.4 28.2L294.3 29.4Z" fill="#f4f6f8" fill-opacity="0.5"/>
<path d="M299.1 16.7L289.8 25.8L299.1 37.3L308.4 28.2Z" fill="none" stroke="#f2f4f6" stroke-width="0.5" stroke-opacity="0.8"/>
<circle cx="299.1" cy="27" r="2.7" fill="url(#gBl)"/>
<circle cx="267.7" cy="37.1" r="3.0" fill="url(#gYe)"/>
<circle cx="286.2" cy="38.5" r="3.3" fill="url(#gYe)"/>
<circle cx="268.5" cy="55.5" r="3.3" fill="url(#gYe)"/>
<circle cx="284.5" cy="57.5" r="3.0" fill="url(#gYe)"/>
<circle cx="296" cy="36.5" r="2.0" fill="url(#gYe)"/>
<circle cx="297" cy="55.8" r="2.0" fill="url(#gYe)"/>
<circle cx="279.4" cy="34.5" r="2.0" fill="url(#gYe)"/>
<circle cx="278.4" cy="53" r="2.0" fill="url(#gYe)"/>
<path d="M256.5 55.3L247.2 64.4L256.5 75.9L265.8 66.8Z" fill="#bcc0c4" fill-opacity="0.85"/>
<path d="M256.5 55.3L247.2 64.4L251.7 68Z" fill="#7e848a" fill-opacity="0.6"/>
<path d="M256.5 75.9L265.8 66.8L251.7 68Z" fill="#f4f6f8" fill-opacity="0.5"/>
<path d="M256.5 55.3L247.2 64.4L256.5 75.9L265.8 66.8Z" fill="none" stroke="#f2f4f6" stroke-width="0.5" stroke-opacity="0.8"/>
<circle cx="256.5" cy="65.6" r="2.7" fill="url(#gBe)"/>
<path d="M256.5 36L247.2 45.1L256.5 56.6L265.8 47.5Z" fill="#bcc0c4" fill-opacity="0.85"/>
<path d="M256.5 36L247.2 45.1L251.7 48.7Z" fill="#7e848a" fill-opacity="0.6"/>
<path d="M256.5 56.6L265.8 47.5L251.7 48.7Z" fill="#f4f6f8" fill-opacity="0.5"/>
<path d="M256.5 36L247.2 45.1L256.5 56.6L265.8 47.5Z" fill="none" stroke="#f2f4f6" stroke-width="0.5" stroke-opacity="0.8"/>
<circle cx="256.5" cy="46.3" r="2.7" fill="url(#gBl)"/>
<path d="M256.5 16.7L247.2 25.8L256.5 37.3L265.8 28.2Z" fill="#bcc0c4" fill-opacity="0.85"/>
<path d="M256.5 16.7L247.2 25.8L251.7 29.4Z" fill="#7e848a" fill-opacity="0.6"/>
<path d="M256.5 37.3L265.8 28.2L251.7 29.4Z" fill="#f4f6f8" fill-opacity="0.5"/>
<path d="M256.5 16.7L247.2 25.8L256.5 37.3L265.8 28.2Z" fill="none" stroke="#f2f4f6" stroke-width="0.5" stroke-opacity="0.8"/>
<circle cx="256.5" cy="27" r="2.7" fill="url(#gBe)"/>
<path d="M273.3 57.5L264 66.6L273.3 78.1L282.6 69Z" fill="#bcc0c4" fill-opacity="0.85"/>
<path d="M273.3 57.5L264 66.6L268.5 70.2Z" fill="#7e848a" fill-opacity="0.6"/>
<path d="M273.3 78.1L282.6 69L268.5 70.2Z" fill="#f4f6f8" fill-opacity="0.5"/>
<path d="M273.3 57.5L264 66.6L273.3 78.1L282.6 69Z" fill="none" stroke="#f2f4f6" stroke-width="0.5" stroke-opacity="0.8"/>
<circle cx="273.3" cy="67.8" r="2.7" fill="url(#gBl)"/>
<path d="M273.3 38.2L264 47.3L273.3 58.8L282.6 49.7Z" fill="#bcc0c4" fill-opacity="0.85"/>
<path d="M273.3 38.2L264 47.3L268.5 50.9Z" fill="#7e848a" fill-opacity="0.6"/>
<path d="M273.3 58.8L282.6 49.7L268.5 50.9Z" fill="#f4f6f8" fill-opacity="0.5"/>
<path d="M273.3 38.2L264 47.3L273.3 58.8L282.6 49.7Z" fill="none" stroke="#f2f4f6" stroke-width="0.5" stroke-opacity="0.8"/>
<circle cx="273.3" cy="48.5" r="2.7" fill="url(#gBe)"/>
<path d="M273.3 18.9L264 28L273.3 39.5L282.6 30.4Z" fill="#bcc0c4" fill-opacity="0.85"/>
<path d="M273.3 18.9L264 28L268.5 31.6Z" fill="#7e848a" fill-opacity="0.6"/>
<path d="M273.3 39.5L282.6 30.4L268.5 31.6Z" fill="#f4f6f8" fill-opacity="0.5"/>
<path d="M273.3 18.9L264 28L273.3 39.5L282.6 30.4Z" fill="none" stroke="#f2f4f6" stroke-width="0.5" stroke-opacity="0.8"/>
<circle cx="273.3" cy="29.2" r="2.7" fill="url(#gBl)"/>
<path d="M290.1 59.7L280.8 68.8L290.1 80.3L299.4 71.2Z" fill="#bcc0c4" fill-opacity="0.85"/>
<path d="M290.1 59.7L280.8 68.8L285.3 72.4Z" fill="#7e848a" fill-opacity="0.6"/>
<path d="M290.1 80.3L299.4 71.2L285.3 72.4Z" fill="#f4f6f8" fill-opacity="0.5"/>
<path d="M290.1 59.7L280.8 68.8L290.1 80.3L299.4 71.2Z" fill="none" stroke="#f2f4f6" stroke-width="0.5" stroke-opacity="0.8"/>
<circle cx="290.1" cy="70" r="2.7" fill="url(#gBe)"/>
<path d="M290.1 40.4L280.8 49.5L290.1 61L299.4 51.9Z" fill="#bcc0c4" fill-opacity="0.85"/>
<path d="M290.1 40.4L280.8 49.5L285.3 53.1Z" fill="#7e848a" fill-opacity="0.6"/>
<path d="M290.1 61L299.4 51.9L285.3 53.1Z" fill="#f4f6f8" fill-opacity="0.5"/>
<path d="M290.1 40.4L280.8 49.5L290.1 61L299.4 51.9Z" fill="none" stroke="#f2f4f6" stroke-width="0.5" stroke-opacity="0.8"/>
<circle cx="290.1" cy="50.7" r="2.7" fill="url(#gBl)"/>
<path d="M290.1 21.1L280.8 30.2L290.1 41.7L299.4 32.6Z" fill="#bcc0c4" fill-opacity="0.85"/>
<path d="M290.1 21.1L280.8 30.2L285.3 33.8Z" fill="#7e848a" fill-opacity="0.6"/>
<path d="M290.1 41.7L299.4 32.6L285.3 33.8Z" fill="#f4f6f8" fill-opacity="0.5"/>
<path d="M290.1 21.1L280.8 30.2L290.1 41.7L299.4 32.6Z" fill="none" stroke="#f2f4f6" stroke-width="0.5" stroke-opacity="0.8"/>
<circle cx="290.1" cy="31.4" r="2.7" fill="url(#gBe)"/>
<circle cx="291.3" cy="48.7" r="1.3" fill="#e41414"/>
<circle cx="291.3" cy="69.3" r="1.3" fill="#e41414"/>
<circle cx="282" cy="57.8" r="1.3" fill="#e41414"/>
<circle cx="300.6" cy="60.2" r="1.3" fill="#e41414"/>
<circle cx="286.5" cy="61.4" r="1.3" fill="#e41414"/>
<circle cx="291.3" cy="29.4" r="1.3" fill="#e41414"/>
<circle cx="282" cy="38.5" r="1.3" fill="#e41414"/>
<circle cx="300.6" cy="40.9" r="1.3" fill="#e41414"/>
<circle cx="286.5" cy="42.1" r="1.3" fill="#e41414"/>
<circle cx="291.3" cy="10.1" r="1.3" fill="#e41414"/>
<circle cx="282" cy="19.2" r="1.3" fill="#e41414"/>
<circle cx="300.6" cy="21.6" r="1.3" fill="#e41414"/>
<circle cx="286.5" cy="22.8" r="1.3" fill="#e41414"/>
<circle cx="308.1" cy="50.9" r="1.3" fill="#e41414"/>
<circle cx="308.1" cy="71.5" r="1.3" fill="#e41414"/>
<circle cx="317.4" cy="62.4" r="1.3" fill="#e41414"/>
<circle cx="303.3" cy="63.6" r="1.3" fill="#e41414"/>
<circle cx="308.1" cy="31.6" r="1.3" fill="#e41414"/>
<circle cx="317.4" cy="43.1" r="1.3" fill="#e41414"/>
<circle cx="303.3" cy="44.3" r="1.3" fill="#e41414"/>
<circle cx="308.1" cy="12.3" r="1.3" fill="#e41414"/>
<circle cx="317.4" cy="23.8" r="1.3" fill="#e41414"/>
<circle cx="303.3" cy="25" r="1.3" fill="#e41414"/>
<circle cx="265.5" cy="50.9" r="1.3" fill="#e41414"/>
<circle cx="265.5" cy="71.5" r="1.3" fill="#e41414"/>
<circle cx="256.2" cy="60" r="1.3" fill="#e41414"/>
<circle cx="274.8" cy="62.4" r="1.3" fill="#e41414"/>
<circle cx="260.7" cy="63.6" r="1.3" fill="#e41414"/>
<circle cx="265.5" cy="31.6" r="1.3" fill="#e41414"/>
<circle cx="256.2" cy="40.7" r="1.3" fill="#e41414"/>
<circle cx="274.8" cy="43.1" r="1.3" fill="#e41414"/>
<circle cx="260.7" cy="44.3" r="1.3" fill="#e41414"/>
<circle cx="265.5" cy="12.3" r="1.3" fill="#e41414"/>
<circle cx="256.2" cy="21.4" r="1.3" fill="#e41414"/>
<circle cx="274.8" cy="23.8" r="1.3" fill="#e41414"/>
<circle cx="260.7" cy="25" r="1.3" fill="#e41414"/>
<circle cx="282.3" cy="53.1" r="1.3" fill="#e41414"/>
<circle cx="282.3" cy="73.7" r="1.3" fill="#e41414"/>
<circle cx="291.6" cy="64.6" r="1.3" fill="#e41414"/>
<circle cx="277.5" cy="65.8" r="1.3" fill="#e41414"/>
<circle cx="282.3" cy="33.8" r="1.3" fill="#e41414"/>
<circle cx="277.5" cy="46.5" r="1.3" fill="#e41414"/>
<circle cx="282.3" cy="14.5" r="1.3" fill="#e41414"/>
<circle cx="277.5" cy="27.2" r="1.3" fill="#e41414"/>
<circle cx="299.1" cy="55.3" r="1.3" fill="#e41414"/>
<circle cx="299.1" cy="75.9" r="1.3" fill="#e41414"/>
<circle cx="308.4" cy="66.8" r="1.3" fill="#e41414"/>
<circle cx="299.1" cy="36" r="1.3" fill="#e41414"/>
<circle cx="289.8" cy="45.1" r="1.3" fill="#e41414"/>
<circle cx="299.1" cy="16.7" r="1.3" fill="#e41414"/>
<circle cx="289.8" cy="25.8" r="1.3" fill="#e41414"/>
<circle cx="256.5" cy="55.3" r="1.3" fill="#e41414"/>
<circle cx="256.5" cy="75.9" r="1.3" fill="#e41414"/>
<circle cx="247.2" cy="64.4" r="1.3" fill="#e41414"/>
<circle cx="265.8" cy="66.8" r="1.3" fill="#e41414"/>
<circle cx="251.7" cy="68" r="1.3" fill="#e41414"/>
<circle cx="256.5" cy="36" r="1.3" fill="#e41414"/>
<circle cx="247.2" cy="45.1" r="1.3" fill="#e41414"/>
<circle cx="251.7" cy="48.7" r="1.3" fill="#e41414"/>
<circle cx="256.5" cy="16.7" r="1.3" fill="#e41414"/>
<circle cx="247.2" cy="25.8" r="1.3" fill="#e41414"/>
<circle cx="251.7" cy="29.4" r="1.3" fill="#e41414"/>
<circle cx="273.3" cy="57.5" r="1.3" fill="#e41414"/>
<circle cx="273.3" cy="78.1" r="1.3" fill="#e41414"/>
<circle cx="282.6" cy="69" r="1.3" fill="#e41414"/>
<circle cx="273.3" cy="38.2" r="1.3" fill="#e41414"/>
<circle cx="264" cy="47.3" r="1.3" fill="#e41414"/>
<circle cx="273.3" cy="18.9" r="1.3" fill="#e41414"/>
<circle cx="264" cy="28" r="1.3" fill="#e41414"/>
<circle cx="290.1" cy="59.7" r="1.3" fill="#e41414"/>
<circle cx="290.1" cy="80.3" r="1.3" fill="#e41414"/>
<circle cx="299.4" cy="71.2" r="1.3" fill="#e41414"/>
<circle cx="290.1" cy="40.4" r="1.3" fill="#e41414"/>
<circle cx="280.8" cy="49.5" r="1.3" fill="#e41414"/>
<circle cx="290.1" cy="21.1" r="1.3" fill="#e41414"/>
<circle cx="280.8" cy="30.2" r="1.3" fill="#e41414"/>
<path d="M256 18.8L234.7 18.3" stroke="#111" stroke-width="1.3"/>
<path d="M229.2 18.2L234.8 16L234.6 20.6Z" fill="#111"/>
<path d="M255.5 27.5L236.6 38.3" stroke="#111" stroke-width="1.3"/>
<path d="M231.8 41L235.4 36.3L237.7 40.3Z" fill="#111"/>
<path d="M255 47.2L239.4 54.9" stroke="#111" stroke-width="1.3"/>
<path d="M234.5 57.3L238.4 52.8L240.5 56.9Z" fill="#111"/>
<path d="M267.5 54.8L240.9 68.7" stroke="#111" stroke-width="1.3"/>
<path d="M236 71.2L239.8 66.6L241.9 70.7Z" fill="#111"/>
<text x="221" y="25.8" font-size="10.5" text-anchor="start" >O</text>
<text x="220.2" y="42.5" font-size="10.5" text-anchor="start" >Ru</text>
<text x="222.5" y="62.2" font-size="10.5" text-anchor="start" >La</text>
<text x="224.5" y="77.5" font-size="10.5" text-anchor="start" >Ba</text>
<path d="M215 71.2L215 60.7" stroke="#e01818" stroke-width="1.6"/>
<path d="M215 55.2L217.6 60.7L212.4 60.7Z" fill="#e01818"/>
<path d="M215 71.2L204.7 69.8" stroke="#18b018" stroke-width="1.6"/>
<path d="M199.2 69.1L205 67.2L204.3 72.4Z" fill="#18b018"/>
<path d="M215 71.2L211.2 73.1" stroke="#1a1ae8" stroke-width="1.6"/>
<path d="M208 74.7L210 70.8L212.3 75.5Z" fill="#1a1ae8"/>
<circle cx="215" cy="71.2" r="1.3" fill="#fff" stroke="#888" stroke-width="0.6"/>
<circle cx="215.3" cy="50.1" r="0.7" fill="#222"/>
<circle cx="195.7" cy="68.5" r="0.7" fill="#222"/>
<circle cx="204.3" cy="75.7" r="0.7" fill="#222"/>
<rect x="218" y="102.6" width="105" height="76.1" fill="#fff" stroke="#8a8a8a" stroke-width="1"/>
<circle cx="232.8" cy="111.4" r="1.6" fill="none" stroke="#6a6aff" stroke-width="0.9"/>
<path d="M219 126.4H247" stroke="#1a9a1a" stroke-width="1.5"/>
<path d="M219 140.6H247" stroke="#30c8d0" stroke-width="2.1"/>
<path d="M219 155.7H247" stroke="#f03040" stroke-width="1.2"/>
<path d="M232.8 167.4v6" stroke="#6a6aff" stroke-width="1"/>
<text x="250.4" y="115.4" font-size="12">obs</text>
<text x="250.4" y="130.4" font-size="12">calc</text>
<text x="250.4" y="144.6" font-size="12">diff</text>
<text x="250.4" y="159.7" font-size="12">bkgd</text>
<text x="250.4" y="174.4" font-size="12">BLRO <tspan font-style="italic">Fm</tspan><tspan font-style="italic" text-decoration="overline">3</tspan><tspan font-style="italic">m</tspan></text>
<path d="M38 15.2h4M329 15.2h-4M38 64.4h4M329 64.4h-4M38 113.7h4M329 113.7h-4M38 163h4M329 163h-4M38 212.3h4M329 212.3h-4M38 39.8h2M329 39.8h-2M38 89h2M329 89h-2M38 138.4h2M329 138.4h-2M38 187.7h2M329 187.7h-2M70.3 2.6v4M70.3 237v4M135 2.6v4M135 237v4M199.7 2.6v4M199.7 237v4M264.3 2.6v4M264.3 237v4M102.7 2.6v2M102.7 237v2M167.3 2.6v2M167.3 237v2M232 2.6v2M232 237v2M296.7 2.6v2M296.7 237v2M38 237v4M329 237v4" stroke="#111" stroke-width="1.2" fill="none"/>
<rect x="38" y="2.6" width="291" height="234.4" fill="none" stroke="#111" stroke-width="1.5"/>
<text x="70.3" y="256" font-size="14" text-anchor="middle">20</text>
<text x="135" y="256" font-size="14" text-anchor="middle">40</text>
<text x="199.7" y="256" font-size="14" text-anchor="middle">60</text>
<text x="264.3" y="256" font-size="14" text-anchor="middle">80</text>
<text x="329" y="256" font-size="14" text-anchor="middle">100</text>
<text x="183.5" y="272" font-size="14.4" text-anchor="middle">2θ (degrees)</text>
<text transform="translate(27.8,120) rotate(-90)" font-size="14.5" text-anchor="middle">Intensity (a.u.)</text>
<path d="M43.2 342.1L75.9 328.4M75.9 328.4L95.8 345.2M95.8 345.2L63.7 358.7M63.7 358.7L43.2 342.1M46.9 374.5L79.4 360.6M79.4 360.6L99.5 377.1M99.5 377.1L66.7 391.1M66.7 391.1L46.9 374.5M43.2 342.1L46.9 374.5M75.9 328.4L79.4 360.6M95.8 345.2L99.5 377.1M63.7 358.7L66.7 391.1" stroke="#cccccc" stroke-width="1" fill="none"/>
<circle cx="43.2" cy="342.1" r="2.7" fill="url(#gMg)"/>
<circle cx="75.9" cy="328.4" r="2.7" fill="url(#gMg)"/>
<circle cx="95.8" cy="345.2" r="2.7" fill="url(#gMg)"/>
<circle cx="63.7" cy="358.7" r="2.7" fill="url(#gMg)"/>
<circle cx="46.9" cy="374.5" r="2.7" fill="url(#gMg)"/>
<circle cx="79.4" cy="360.6" r="2.7" fill="url(#gMg)"/>
<circle cx="99.5" cy="377.1" r="2.7" fill="url(#gMg)"/>
<circle cx="66.7" cy="391.1" r="2.7" fill="url(#gMg)"/>
<circle cx="87.6" cy="353" r="2.7" fill="url(#gMg)"/>
<circle cx="55.1" cy="366.3" r="2.7" fill="url(#gMg)"/>
<path d="M73.2 420.6L72.6 410.5" stroke="#1a1ae8" stroke-width="1.6"/>
<path d="M72.3 405L75.2 410.3L70 410.6Z" fill="#1a1ae8"/>
<path d="M73.2 420.6L63 425.2" stroke="#e01818" stroke-width="1.6"/>
<path d="M58 427.4L62 422.8L64.1 427.5Z" fill="#e01818"/>
<path d="M73.2 420.6L79.4 425.4" stroke="#18b018" stroke-width="1.6"/>
<path d="M83.7 428.8L77.8 427.5L81 423.4Z" fill="#18b018"/>
<circle cx="73.2" cy="420.6" r="1.3" fill="#fff" stroke="#888" stroke-width="0.6"/>
<circle cx="71.8" cy="401.1" r="0.7" fill="#222"/>
<circle cx="53.7" cy="429.1" r="0.7" fill="#222"/>
<circle cx="86.6" cy="430.7" r="0.7" fill="#222"/>
<path d="M37.3 492.6 39.3 492.9 41.3 493.1 43.3 493.3 45.3 493.5 47.3 493.7 49.3 493.8 51.3 494 53.3 494.2 55.3 494.3 57.3 494.4 59.3 494.6 61.3 494.7 62.4 494.8 62.9 494.8 63.4 494.8 63.9 494.9 64.4 494.9 64.9 494.9 65.4 494.9 65.9 495 66.4 495 66.9 495 67.4 495 67.9 495.1 68.4 495.1 68.9 495.1 69.7 495.1 71.7 495.2 73.7 495.3 75.7 495.4 77.3 495.5 79.3 495.5 80.7 495.6 81.2 495.6 81.7 495.6 82.2 495.6 82.7 495.7 83.2 495.7 83.7 495.7 84.2 495.7 84.7 495.7 85.2 495.7 85.7 495.8 86.2 495.8 86.7 495.8 87.2 495.8 87.7 495.8 89.7 495.9 91.7 495.9 93.7 496 95.7 496 97.7 496.1 99.7 496.1 101.4 496.1 101.9 496.1 102.4 496.2 102.9 496.2 103.4 496.2 103.9 496.2 104.4 496.2 104.9 496.2 105.4 496.2 105.9 496.2 106.4 496.2 106.9 496.2 107.4 496.2 107.9 496.2 108.4 496.3 108.9 496.3 109.4 496.3 109.9 496.3 110.4 496.3 110.9 496.3 112.1 496.3 114.1 496.3 115.7 496.4 117.7 496.4 119.3 496.4 121.3 496.4 123.3 496.4 124.9 496.5 126.9 496.5 128.9 496.5 130.9 496.5 132.9 496.5 134.9 496.5 136.9 496.6 138.9 496.6 140.9 496.6 142.9 496.6 144.9 496.6 146.7 496.6 147.2 496.6 147.7 496.6 148.2 496.6 148.7 496.6 149.2 496.6 149.7 496.6 150.2 496.6 150.7 496.6 151.2 496.6 151.7 496.6 152.2 496.6 152.7 496.6 153.3 496.6 154.9 496.7 156.5 496.7 158.1 496.7 160 496.7 161.3 496.7 163.3 496.7 165.1 496.7 166.1 496.7 166.6 496.7 167.1 496.7 167.5 496.7 168 496.7 168.5 496.7 169 496.7 169.4 496.7 169.9 496.7 170.4 496.7 170.9 496.7 171.4 496.7 171.9 496.7 172.4 496.7 172.9 496.7 173.4 496.7 173.8 496.7 175 496.7 176.9 496.7 178.8 496.7 179.3 496.7 179.8 496.7 180.2 496.7 180.7 496.7 181.2 496.7 181.7 496.7 182.2 496.7 182.7 496.7 183.2 496.7 183.7 496.7 184.2 496.7 184.7 496.7 185.2 496.7 185.7 496.7 186.2 496.7 186.7 496.7 187.2 496.7 187.7 496.7 188.2 496.7 188.7 496.7 189.2 496.7 189.7 496.7 190.2 496.7 190.7 496.7 191.1 496.7 192.1 496.8 193.7 496.8 195.7 496.8 197.4 496.8 198.9 496.8 200.9 496.8 202.9 496.8 204.9 496.8 206.9 496.8 208.9 496.8 210.9 496.8 211.5 496.8 211.9 496.8 212.4 496.8 212.9 496.8 213.4 496.8 213.8 496.8 214.3 496.8 214.8 496.8 215.3 496.8 215.8 496.8 216.3 496.8 216.8 496.8 217.3 496.8 217.8 496.8 218.3 496.8 218.8 496.8 219.3 496.8 219.8 496.8 221.3 496.8 223.3 496.8 225.3 496.8 227.3 496.8 228.9 496.8 230.9 496.8 232.5 496.8 234.5 496.8 236.5 496.8 238.5 496.8 240.3 496.8 240.8 496.8 241.3 496.8 241.8 496.8 242.3 496.8 242.8 496.8 243.3 496.8 243.8 496.8 244.3 496.8 244.8 496.8 245.3 496.8 245.8 496.8 246.3 496.8 246.8 496.8 247.3 496.8 247.8 496.8 248.3 496.8 248.8 496.8 249.7 496.8 251.7 496.8 253.7 496.8 255.3 496.8 257.3 496.8 259.3 496.8 261.3 496.8 262.9 496.8 264.2 496.8 265.3 496.8 266.9 496.8 268.9 496.8 270.9 496.8 272.9 496.8 274.9 496.8 276.9 496.8 278.5 496.8 280.1 496.8 282.1 496.8 284.1 496.8 285.9 496.8 287.3 496.8 289.3 496.8 290.9 496.8 292.9 496.8 294.5 496.8 296.4 496.8 298.1 496.8 300.1 496.8 301.8 496.8 303.3 496.8 305.3 496.8 307.3 496.8 309.3 496.8 310.9 496.8 312.9 496.8 314.5 496.8 316.1 496.8 318.1 496.8 320.1 496.8 322.1 496.8 324.1 496.8 326.1 496.8" fill="none" stroke="#1818e8" stroke-width="4.6"/>
<path d="M35.8 493.3a1.45 1.45 0 1 0 2.9 0a1.45 1.45 0 1 0 -2.9 0M36.2 493.4a1.45 1.45 0 1 0 2.9 0a1.45 1.45 0 1 0 -2.9 0M36.6 491.9a1.45 1.45 0 1 0 2.9 0a1.45 1.45 0 1 0 -2.9 0M37 494.5a1.45 1.45 0 1 0 2.9 0a1.45 1.45 0 1 0 -2.9 0M37.4 493.7a1.45 1.45 0 1 0 2.9 0a1.45 1.45 0 1 0 -2.9 0M37.8 492.9a1.45 1.45 0 1 0 2.9 0a1.45 1.45 0 1 0 -2.9 0M38.2 493.3a1.45 1.45 0 1 0 2.9 0a1.45 1.45 0 1 0 -2.9 0M38.6 492a1.45 1.45 0 1 0 2.9 0a1.45 1.45 0 1 0 -2.9 0M39 494a1.45 1.45 0 1 0 2.9 0a1.45 1.45 0 1 0 -2.9 0M39.4 494.9a1.45 1.45 0 1 0 2.9 0a1.45 1.45 0 1 0 -2.9 0M39.8 493.3a1.45 1.45 0 1 0 2.9 0a1.45 1.45 0 1 0 -2.9 0M40.2 493.5a1.45 1.45 0 1 0 2.9 0a1.45 1.45 0 1 0 -2.9 0M40.6 493.1a1.45 1.45 0 1 0 2.9 0a1.45 1.45 0 1 0 -2.9 0M41 493.3a1.45 1.45 0 1 0 2.9 0a1.45 1.45 0 1 0 -2.9 0M41.4 492.6a1.45 1.45 0 1 0 2.9 0a1.45 1.45 0 1 0 -2.9 0M41.8 493.5a1.45 1.45 0 1 0 2.9 0a1.45 1.45 0 1 0 -2.9 0M42.2 494.2a1.45 1.45 0 1 0 2.9 0a1.45 1.45 0 1 0 -2.9 0M42.6 493.2a1.45 1.45 0 1 0 2.9 0a1.45 1.45 0 1 0 -2.9 0M43 494.3a1.45 1.45 0 1 0 2.9 0a1.45 1.45 0 1 0 -2.9 0M43.4 492.5a1.45 1.45 0 1 0 2.9 0a1.45 1.45 0 1 0 -2.9 0M43.8 493.1a1.45 1.45 0 1 0 2.9 0a1.45 1.45 0 1 0 -2.9 0M44.2 493.3a1.45 1.45 0 1 0 2.9 0a1.45 1.45 0 1 0 -2.9 0M44.6 493.4a1.45 1.45 0 1 0 2.9 0a1.45 1.45 0 1 0 -2.9 0M45 494.5a1.45 1.45 0 1 0 2.9 0a1.45 1.45 0 1 0 -2.9 0M45.4 492.9a1.45 1.45 0 1 0 2.9 0a1.45 1.45 0 1 0 -2.9 0M45.8 494.4a1.45 1.45 0 1 0 2.9 0a1.45 1.45 0 1 0 -2.9 0M46.2 493.1a1.45 1.45 0 1 0 2.9 0a1.45 1.45 0 1 0 -2.9 0M46.6 493.8a1.45 1.45 0 1 0 2.9 0a1.45 1.45 0 1 0 -2.9 0M47 491.9a1.45 1.45 0 1 0 2.9 0a1.45 1.45 0 1 0 -2.9 0M47.4 492.3a1.45 1.45 0 1 0 2.9 0a1.45 1.45 0 1 0 -2.9 0M47.8 494.1a1.45 1.45 0 1 0 2.9 0a1.45 1.45 0 1 0 -2.9 0M48.2 494.6a1.45 1.45 0 1 0 2.9 0a1.45 1.45 0 1 0 -2.9 0M48.6 494.3a1.45 1.45 0 1 0 2.9 0a1.45 1.45 0 1 0 -2.9 0M49 494.1a1.45 1.45 0 1 0 2.9 0a1.45 1.45 0 1 0 -2.9 0M49.4 494.8a1.45 1.45 0 1 0 2.9 0a1.45 1.45 0 1 0 -2.9 0M49.8 494.4a1.45 1.45 0 1 0 2.9 0a1.45 1.45 0 1 0 -2.9 0M50.2 494.7a1.45 1.45 0 1 0 2.9 0a1.45 1.45 0 1 0 -2.9 0M50.6 493.2a1.45 1.45 0 1 0 2.9 0a1.45 1.45 0 1 0 -2.9 0M51 495.6a1.45 1.45 0 1 0 2.9 0a1.45 1.45 0 1 0 -2.9 0M51.4 493.9a1.45 1.45 0 1 0 2.9 0a1.45 1.45 0 1 0 -2.9 0M51.8 493.4a1.45 1.45 0 1 0 2.9 0a1.45 1.45 0 1 0 -2.9 0M52.2 493.8a1.45 1.45 0 1 0 2.9 0a1.45 1.45 0 1 0 -2.9 0M52.6 495a1.45 1.45 0 1 0 2.9 0a1.45 1.45 0 1 0 -2.9 0M53 494.4a1.45 1.45 0 1 0 2.9 0a1.45 1.45 0 1 0 -2.9 0M53.4 494.3a1.45 1.45 0 1 0 2.9 0a1.45 1.45 0 1 0 -2.9 0M53.8 495.4a1.45 1.45 0 1 0 2.9 0a1.45 1.45 0 1 0 -2.9 0M54.2 495.3a1.45 1.45 0 1 0 2.9 0a1.45 1.45 0 1 0 -2.9 0M54.6 494.8a1.45 1.45 0 1 0 2.9 0a1.45 1.45 0 1 0 -2.9 0M55 493.8a1.45 1.45 0 1 0 2.9 0a1.45 1.45 0 1 0 -2.9 0M55.4 495.1a1.45 1.45 0 1 0 2.9 0a1.45 1.45 0 1 0 -2.9 0M55.8 494.2a1.45 1.45 0 1 0 2.9 0a1.45 1.45 0 1 0 -2.9 0M56.2 494.7a1.45 1.45 0 1 0 2.9 0a1.45 1.45 0 1 0 -2.9 0M56.6 494.4a1.45 1.45 0 1 0 2.9 0a1.45 1.45 0 1 0 -2.9 0M57 493.3a1.45 1.45 0 1 0 2.9 0a1.45 1.45 0 1 0 -2.9 0M57.4 494.3a1.45 1.45 0 1 0 2.9 0a1.45 1.45 0 1 0 -2.9 0M57.8 494.4a1.45 1.45 0 1 0 2.9 0a1.45 1.45 0 1 0 -2.9 0M58.2 493.4a1.45 1.45 0 1 0 2.9 0a1.45 1.45 0 1 0 -2.9 0M58.6 493.8a1.45 1.45 0 1 0 2.9 0a1.45 1.45 0 1 0 -2.9 0M59 495.9a1.45 1.45 0 1 0 2.9 0a1.45 1.45 0 1 0 -2.9 0M59.4 494.6a1.45 1.45 0 1 0 2.9 0a1.45 1.45 0 1 0 -2.9 0M59.8 496.2a1.45 1.45 0 1 0 2.9 0a1.45 1.45 0 1 0 -2.9 0M60.2 495.2a1.45 1.45 0 1 0 2.9 0a1.45 1.45 0 1 0 -2.9 0M60.6 494.4a1.45 1.45 0 1 0 2.9 0a1.45 1.45 0 1 0 -2.9 0M61 495.2a1.45 1.45 0 1 0 2.9 0a1.45 1.45 0 1 0 -2.9 0M61.4 494.3a1.45 1.45 0 1 0 2.9 0a1.45 1.45 0 1 0 -2.9 0M61.8 493a1.45 1.45 0 1 0 2.9 0a1.45 1.45 0 1 0 -2.9 0M62.2 492.3a1.45 1.45 0 1 0 2.9 0a1.45 1.45 0 1 0 -2.9 0M62.6 492.5a1.45 1.45 0 1 0 2.9 0a1.45 1.45 0 1 0 -2.9 0M65.8 494a1.45 1.45 0 1 0 2.9 0a1.45 1.45 0 1 0 -2.9 0M66.2 494.8a1.45 1.45 0 1 0 2.9 0a1.45 1.45 0 1 0 -2.9 0M66.6 495.3a1.45 1.45 0 1 0 2.9 0a1.45 1.45 0 1 0 -2.9 0M67 493.3a1.45 1.45 0 1 0 2.9 0a1.45 1.45 0 1 0 -2.9 0M67.5 495.3a1.45 1.45 0 1 0 2.9 0a1.45 1.45 0 1 0 -2.9 0M67.8 494.8a1.45 1.45 0 1 0 2.9 0a1.45 1.45 0 1 0 -2.9 0M68.2 494.9a1.45 1.45 0 1 0 2.9 0a1.45 1.45 0 1 0 -2.9 0M68.6 495.5a1.45 1.45 0 1 0 2.9 0a1.45 1.45 0 1 0 -2.9 0M69 494.4a1.45 1.45 0 1 0 2.9 0a1.45 1.45 0 1 0 -2.9 0M69.5 496.1a1.45 1.45 0 1 0 2.9 0a1.45 1.45 0 1 0 -2.9 0M69.8 496.3a1.45 1.45 0 1 0 2.9 0a1.45 1.45 0 1 0 -2.9 0M70.2 495.5a1.45 1.45 0 1 0 2.9 0a1.45 1.45 0 1 0 -2.9 0M70.6 494.8a1.45 1.45 0 1 0 2.9 0a1.45 1.45 0 1 0 -2.9 0M71 496.6a1.45 1.45 0 1 0 2.9 0a1.45 1.45 0 1 0 -2.9 0M71.5 494.8a1.45 1.45 0 1 0 2.9 0a1.45 1.45 0 1 0 -2.9 0M71.8 495.3a1.45 1.45 0 1 0 2.9 0a1.45 1.45 0 1 0 -2.9 0M72.2 495.4a1.45 1.45 0 1 0 2.9 0a1.45 1.45 0 1 0 -2.9 0M72.6 496.2a1.45 1.45 0 1 0 2.9 0a1.45 1.45 0 1 0 -2.9 0M73 494a1.45 1.45 0 1 0 2.9 0a1.45 1.45 0 1 0 -2.9 0M73.5 495.4a1.45 1.45 0 1 0 2.9 0a1.45 1.45 0 1 0 -2.9 0M73.8 494.2a1.45 1.45 0 1 0 2.9 0a1.45 1.45 0 1 0 -2.9 0M74.2 492.8a1.45 1.45 0 1 0 2.9 0a1.45 1.45 0 1 0 -2.9 0M74.6 493.7a1.45 1.45 0 1 0 2.9 0a1.45 1.45 0 1 0 -2.9 0M75.5 493.8a1.45 1.45 0 1 0 2.9 0a1.45 1.45 0 1 0 -2.9 0M75.8 496.4a1.45 1.45 0 1 0 2.9 0a1.45 1.45 0 1 0 -2.9 0M76.2 496a1.45 1.45 0 1 0 2.9 0a1.45 1.45 0 1 0 -2.9 0M76.6 495.2a1.45 1.45 0 1 0 2.9 0a1.45 1.45 0 1 0 -2.9 0M77 495.1a1.45 1.45 0 1 0 2.9 0a1.45 1.45 0 1 0 -2.9 0M77.5 494.5a1.45 1.45 0 1 0 2.9 0a1.45 1.45 0 1 0 -2.9 0M77.8 496.1a1.45 1.45 0 1 0 2.9 0a1.45 1.45 0 1 0 -2.9 0M78.2 494.8a1.45 1.45 0 1 0 2.9 0a1.45 1.45 0 1 0 -2.9 0M78.6 495.5a1.45 1.45 0 1 0 2.9 0a1.45 1.45 0 1 0 -2.9 0M79 496.1a1.45 1.45 0 1 0 2.9 0a1.45 1.45 0 1 0 -2.9 0M79.5 494.4a1.45 1.45 0 1 0 2.9 0a1.45 1.45 0 1 0 -2.9 0M79.8 495.2a1.45 1.45 0 1 0 2.9 0a1.45 1.45 0 1 0 -2.9 0M80.2 495.9a1.45 1.45 0 1 0 2.9 0a1.45 1.45 0 1 0 -2.9 0M80.6 495.7a1.45 1.45 0 1 0 2.9 0a1.45 1.45 0 1 0 -2.9 0M81 496.2a1.45 1.45 0 1 0 2.9 0a1.45 1.45 0 1 0 -2.9 0M83.8 494.7a1.45 1.45 0 1 0 2.9 0a1.45 1.45 0 1 0 -2.9 0M84.2 496.2a1.45 1.45 0 1 0 2.9 0a1.45 1.45 0 1 0 -2.9 0M84.6 494.9a1.45 1.45 0 1 0 2.9 0a1.45 1.45 0 1 0 -2.9 0M85 496.2a1.45 1.45 0 1 0 2.9 0a1.45 1.45 0 1 0 -2.9 0M85.5 496.7a1.45 1.45 0 1 0 2.9 0a1.45 1.45 0 1 0 -2.9 0M85.8 494.4a1.45 1.45 0 1 0 2.9 0a1.45 1.45 0 1 0 -2.9 0M86.2 494.9a1.45 1.45 0 1 0 2.9 0a1.45 1.45 0 1 0 -2.9 0M86.6 496.8a1.45 1.45 0 1 0 2.9 0a1.45 1.45 0 1 0 -2.9 0M87 495.3a1.45 1.45 0 1 0 2.9 0a1.45 1.45 0 1 0 -2.9 0M87.5 495.5a1.45 1.45 0 1 0 2.9 0a1.45 1.45 0 1 0 -2.9 0M87.8 496.7a1.45 1.45 0 1 0 2.9 0a1.45 1.45 0 1 0 -2.9 0M88.2 495.7a1.45 1.45 0 1 0 2.9 0a1.45 1.45 0 1 0 -2.9 0M88.6 496.7a1.45 1.45 0 1 0 2.9 0a1.45 1.45 0 1 0 -2.9 0M89 494.3a1.45 1.45 0 1 0 2.9 0a1.45 1.45 0 1 0 -2.9 0M89.5 496.3a1.45 1.45 0 1 0 2.9 0a1.45 1.45 0 1 0 -2.9 0M89.8 497.4a1.45 1.45 0 1 0 2.9 0a1.45 1.45 0 1 0 -2.9 0M90.2 495a1.45 1.45 0 1 0 2.9 0a1.45 1.45 0 1 0 -2.9 0M90.6 494a1.45 1.45 0 1 0 2.9 0a1.45 1.45 0 1 0 -2.9 0M91 496.2a1.45 1.45 0 1 0 2.9 0a1.45 1.45 0 1 0 -2.9 0M91.5 497.1a1.45 1.45 0 1 0 2.9 0a1.45 1.45 0 1 0 -2.9 0M91.8 497.3a1.45 1.45 0 1 0 2.9 0a1.45 1.45 0 1 0 -2.9 0M92.2 495a1.45 1.45 0 1 0 2.9 0a1.45 1.45 0 1 0 -2.9 0M92.6 494.8a1.45 1.45 0 1 0 2.9 0a1.45 1.45 0 1 0 -2.9 0M93 494a1.45 1.45 0 1 0 2.9 0a1.45 1.45 0 1 0 -2.9 0M93.5 497.2a1.45 1.45 0 1 0 2.9 0a1.45 1.45 0 1 0 -2.9 0M93.8 497.5a1.45 1.45 0 1 0 2.9 0a1.45 1.45 0 1 0 -2.9 0M94.2 496.2a1.45 1.45 0 1 0 2.9 0a1.45 1.45 0 1 0 -2.9 0M94.6 496.3a1.45 1.45 0 1 0 2.9 0a1.45 1.45 0 1 0 -2.9 0M95 495.4a1.45 1.45 0 1 0 2.9 0a1.45 1.45 0 1 0 -2.9 0M95.5 496.3a1.45 1.45 0 1 0 2.9 0a1.45 1.45 0 1 0 -2.9 0M95.8 495.6a1.45 1.45 0 1 0 2.9 0a1.45 1.45 0 1 0 -2.9 0M96.2 496a1.45 1.45 0 1 0 2.9 0a1.45 1.45 0 1 0 -2.9 0M96.6 495.2a1.45 1.45 0 1 0 2.9 0a1.45 1.45 0 1 0 -2.9 0M97 495.6a1.45 1.45 0 1 0 2.9 0a1.45 1.45 0 1 0 -2.9 0M97.5 496.3a1.45 1.45 0 1 0 2.9 0a1.45 1.45 0 1 0 -2.9 0M97.8 496.3a1.45 1.45 0 1 0 2.9 0a1.45 1.45 0 1 0 -2.9 0M98.2 494.8a1.45 1.45 0 1 0 2.9 0a1.45 1.45 0 1 0 -2.9 0M98.6 497.7a1.45 1.45 0 1 0 2.9 0a1.45 1.45 0 1 0 -2.9 0M99 497a1.45 1.45 0 1 0 2.9 0a1.45 1.45 0 1 0 -2.9 0M99.5 495.9a1.45 1.45 0 1 0 2.9 0a1.45 1.45 0 1 0 -2.9 0M99.8 496.4a1.45 1.45 0 1 0 2.9 0a1.45 1.45 0 1 0 -2.9 0M100.2 494.4a1.45 1.45 0 1 0 2.9 0a1.45 1.45 0 1 0 -2.9 0M100.6 495.5a1.45 1.45 0 1 0 2.9 0a1.45 1.45 0 1 0 -2.9 0M101 495.3a1.45 1.45 0 1 0 2.9 0a1.45 1.45 0 1 0 -2.9 0M108.2 494.1a1.45 1.45 0 1 0 2.9 0a1.45 1.45 0 1 0 -2.9 0M108.6 494.7a1.45 1.45 0 1 0 2.9 0a1.45 1.45 0 1 0 -2.9 0M109 493.7a1.45 1.45 0 1 0 2.9 0a1.45 1.45 0 1 0 -2.9 0M109.5 496a1.45 1.45 0 1 0 2.9 0a1.45 1.45 0 1 0 -2.9 0M109.8 495a1.45 1.45 0 1 0 2.9 0a1.45 1.45 0 1 0 -2.9 0M110.2 496.9a1.45 1.45 0 1 0 2.9 0a1.45 1.45 0 1 0 -2.9 0M110.6 495.9a1.45 1.45 0 1 0 2.9 0a1.45 1.45 0 1 0 -2.9 0M111 496.5a1.45 1.45 0 1 0 2.9 0a1.45 1.45 0 1 0 -2.9 0M111.5 496.1a1.45 1.45 0 1 0 2.9 0a1.45 1.45 0 1 0 -2.9 0M111.8 494.7a1.45 1.45 0 1 0 2.9 0a1.45 1.45 0 1 0 -2.9 0M112.2 495.2a1.45 1.45 0 1 0 2.9 0a1.45 1.45 0 1 0 -2.9 0M112.6 493.7a1.45 1.45 0 1 0 2.9 0a1.45 1.45 0 1 0 -2.9 0M113 495.5a1.45 1.45 0 1 0 2.9 0a1.45 1.45 0 1 0 -2.9 0M113.5 494.6a1.45 1.45 0 1 0 2.9 0a1.45 1.45 0 1 0 -2.9 0M113.8 495.8a1.45 1.45 0 1 0 2.9 0a1.45 1.45 0 1 0 -2.9 0M114.2 496.1a1.45 1.45 0 1 0 2.9 0a1.45 1.45 0 1 0 -2.9 0M114.6 495.9a1.45 1.45 0 1 0 2.9 0a1.45 1.45 0 1 0 -2.9 0M115 495.3a1.45 1.45 0 1 0 2.9 0a1.45 1.45 0 1 0 -2.9 0M115.5 494.4a1.45 1.45 0 1 0 2.9 0a1.45 1.45 0 1 0 -2.9 0M115.8 494.1a1.45 1.45 0 1 0 2.9 0a1.45 1.45 0 1 0 -2.9 0M117 494.4a1.45 1.45 0 1 0 2.9 0a1.45 1.45 0 1 0 -2.9 0M117.5 496a1.45 1.45 0 1 0 2.9 0a1.45 1.45 0 1 0 -2.9 0M117.8 494.9a1.45 1.45 0 1 0 2.9 0a1.45 1.45 0 1 0 -2.9 0M118.2 495.5a1.45 1.45 0 1 0 2.9 0a1.45 1.45 0 1 0 -2.9 0M118.6 496.5a1.45 1.45 0 1 0 2.9 0a1.45 1.45 0 1 0 -2.9 0M119 497a1.45 1.45 0 1 0 2.9 0a1.45 1.45 0 1 0 -2.9 0M119.5 496.2a1.45 1.45 0 1 0 2.9 0a1.45 1.45 0 1 0 -2.9 0M119.8 496.6a1.45 1.45 0 1 0 2.9 0a1.45 1.45 0 1 0 -2.9 0M120.2 495.6a1.45 1.45 0 1 0 2.9 0a1.45 1.45 0 1 0 -2.9 0M120.6 497.2a1.45 1.45 0 1 0 2.9 0a1.45 1.45 0 1 0 -2.9 0M121 495.4a1.45 1.45 0 1 0 2.9 0a1.45 1.45 0 1 0 -2.9 0M121.5 494.4a1.45 1.45 0 1 0 2.9 0a1.45 1.45 0 1 0 -2.9 0M124.2 495.3a1.45 1.45 0 1 0 2.9 0a1.45 1.45 0 1 0 -2.9 0M124.6 497.5a1.45 1.45 0 1 0 2.9 0a1.45 1.45 0 1 0 -2.9 0M125 495.2a1.45 1.45 0 1 0 2.9 0a1.45 1.45 0 1 0 -2.9 0M125.5 496.2a1.45 1.45 0 1 0 2.9 0a1.45 1.45 0 1 0 -2.9 0M125.8 497.7a1.45 1.45 0 1 0 2.9 0a1.45 1.45 0 1 0 -2.9 0M126.2 496.2a1.45 1.45 0 1 0 2.9 0a1.45 1.45 0 1 0 -2.9 0M126.6 495.6a1.45 1.45 0 1 0 2.9 0a1.45 1.45 0 1 0 -2.9 0M127 496.4a1.45 1.45 0 1 0 2.9 0a1.45 1.45 0 1 0 -2.9 0M127.5 498.3a1.45 1.45 0 1 0 2.9 0a1.45 1.45 0 1 0 -2.9 0M127.9 496.6a1.45 1.45 0 1 0 2.9 0a1.45 1.45 0 1 0 -2.9 0M128.2 496.5a1.45 1.45 0 1 0 2.9 0a1.45 1.45 0 1 0 -2.9 0M128.7 496.2a1.45 1.45 0 1 0 2.9 0a1.45 1.45 0 1 0 -2.9 0M129.1 497.1a1.45 1.45 0 1 0 2.9 0a1.45 1.45 0 1 0 -2.9 0M129.5 496.8a1.45 1.45 0 1 0 2.9 0a1.45 1.45 0 1 0 -2.9 0M129.9 497.3a1.45 1.45 0 1 0 2.9 0a1.45 1.45 0 1 0 -2.9 0M130.2 496.6a1.45 1.45 0 1 0 2.9 0a1.45 1.45 0 1 0 -2.9 0M130.7 496.4a1.45 1.45 0 1 0 2.9 0a1.45 1.45 0 1 0 -2.9 0M131.1 496.7a1.45 1.45 0 1 0 2.9 0a1.45 1.45 0 1 0 -2.9 0M131.5 495.5a1.45 1.45 0 1 0 2.9 0a1.45 1.45 0 1 0 -2.9 0M131.9 496.6a1.45 1.45 0 1 0 2.9 0a1.45 1.45 0 1 0 -2.9 0M134.2 495.4a1.45 1.45 0 1 0 2.9 0a1.45 1.45 0 1 0 -2.9 0M134.7 496.4a1.45 1.45 0 1 0 2.9 0a1.45 1.45 0 1 0 -2.9 0M135.1 496.4a1.45 1.45 0 1 0 2.9 0a1.45 1.45 0 1 0 -2.9 0M135.5 497.5a1.45 1.45 0 1 0 2.9 0a1.45 1.45 0 1 0 -2.9 0M135.9 495.9a1.45 1.45 0 1 0 2.9 0a1.45 1.45 0 1 0 -2.9 0M136.2 496.8a1.45 1.45 0 1 0 2.9 0a1.45 1.45 0 1 0 -2.9 0M136.7 495.3a1.45 1.45 0 1 0 2.9 0a1.45 1.45 0 1 0 -2.9 0M137.1 496.4a1.45 1.45 0 1 0 2.9 0a1.45 1.45 0 1 0 -2.9 0M137.5 496.5a1.45 1.45 0 1 0 2.9 0a1.45 1.45 0 1 0 -2.9 0M137.9 495.9a1.45 1.45 0 1 0 2.9 0a1.45 1.45 0 1 0 -2.9 0M138.2 497.8a1.45 1.45 0 1 0 2.9 0a1.45 1.45 0 1 0 -2.9 0M138.7 496a1.45 1.45 0 1 0 2.9 0a1.45 1.45 0 1 0 -2.9 0M139.1 495.8a1.45 1.45 0 1 0 2.9 0a1.45 1.45 0 1 0 -2.9 0M139.5 496.3a1.45 1.45 0 1 0 2.9 0a1.45 1.45 0 1 0 -2.9 0M139.9 496.4a1.45 1.45 0 1 0 2.9 0a1.45 1.45 0 1 0 -2.9 0M140.2 497a1.45 1.45 0 1 0 2.9 0a1.45 1.45 0 1 0 -2.9 0M140.7 497.4a1.45 1.45 0 1 0 2.9 0a1.45 1.45 0 1 0 -2.9 0M141.1 495.9a1.45 1.45 0 1 0 2.9 0a1.45 1.45 0 1 0 -2.9 0M141.5 498a1.45 1.45 0 1 0 2.9 0a1.45 1.45 0 1 0 -2.9 0M141.9 497.6a1.45 1.45 0 1 0 2.9 0a1.45 1.45 0 1 0 -2.9 0M142.2 496.7a1.45 1.45 0 1 0 2.9 0a1.45 1.45 0 1 0 -2.9 0M142.7 496.5a1.45 1.45 0 1 0 2.9 0a1.45 1.45 0 1 0 -2.9 0M143.1 496.4a1.45 1.45 0 1 0 2.9 0a1.45 1.45 0 1 0 -2.9 0M143.5 496a1.45 1.45 0 1 0 2.9 0a1.45 1.45 0 1 0 -2.9 0M143.9 495.2a1.45 1.45 0 1 0 2.9 0a1.45 1.45 0 1 0 -2.9 0M144.2 496.2a1.45 1.45 0 1 0 2.9 0a1.45 1.45 0 1 0 -2.9 0M144.7 496a1.45 1.45 0 1 0 2.9 0a1.45 1.45 0 1 0 -2.9 0M145.1 497.2a1.45 1.45 0 1 0 2.9 0a1.45 1.45 0 1 0 -2.9 0M145.5 495.8a1.45 1.45 0 1 0 2.9 0a1.45 1.45 0 1 0 -2.9 0M145.9 496.3a1.45 1.45 0 1 0 2.9 0a1.45 1.45 0 1 0 -2.9 0M146.2 496.7a1.45 1.45 0 1 0 2.9 0a1.45 1.45 0 1 0 -2.9 0M146.7 496.7a1.45 1.45 0 1 0 2.9 0a1.45 1.45 0 1 0 -2.9 0M147.1 494.3a1.45 1.45 0 1 0 2.9 0a1.45 1.45 0 1 0 -2.9 0M149.9 494.2a1.45 1.45 0 1 0 2.9 0a1.45 1.45 0 1 0 -2.9 0M150.2 494.9a1.45 1.45 0 1 0 2.9 0a1.45 1.45 0 1 0 -2.9 0M155.5 494.6a1.45 1.45 0 1 0 2.9 0a1.45 1.45 0 1 0 -2.9 0M155.9 495.2a1.45 1.45 0 1 0 2.9 0a1.45 1.45 0 1 0 -2.9 0M156.7 495.9a1.45 1.45 0 1 0 2.9 0a1.45 1.45 0 1 0 -2.9 0M157.1 496.9a1.45 1.45 0 1 0 2.9 0a1.45 1.45 0 1 0 -2.9 0M157.5 495a1.45 1.45 0 1 0 2.9 0a1.45 1.45 0 1 0 -2.9 0M159.9 494.7a1.45 1.45 0 1 0 2.9 0a1.45 1.45 0 1 0 -2.9 0M160.2 495.4a1.45 1.45 0 1 0 2.9 0a1.45 1.45 0 1 0 -2.9 0M160.7 497.5a1.45 1.45 0 1 0 2.9 0a1.45 1.45 0 1 0 -2.9 0M161.1 496a1.45 1.45 0 1 0 2.9 0a1.45 1.45 0 1 0 -2.9 0M161.5 496.3a1.45 1.45 0 1 0 2.9 0a1.45 1.45 0 1 0 -2.9 0M161.9 495.9a1.45 1.45 0 1 0 2.9 0a1.45 1.45 0 1 0 -2.9 0M162.2 495.5a1.45 1.45 0 1 0 2.9 0a1.45 1.45 0 1 0 -2.9 0M162.7 494.4a1.45 1.45 0 1 0 2.9 0a1.45 1.45 0 1 0 -2.9 0M163.1 494.3a1.45 1.45 0 1 0 2.9 0a1.45 1.45 0 1 0 -2.9 0M163.5 494.4a1.45 1.45 0 1 0 2.9 0a1.45 1.45 0 1 0 -2.9 0M163.9 494.2a1.45 1.45 0 1 0 2.9 0a1.45 1.45 0 1 0 -2.9 0M164.2 495.5a1.45 1.45 0 1 0 2.9 0a1.45 1.45 0 1 0 -2.9 0M164.7 494.9a1.45 1.45 0 1 0 2.9 0a1.45 1.45 0 1 0 -2.9 0M169.9 494.4a1.45 1.45 0 1 0 2.9 0a1.45 1.45 0 1 0 -2.9 0M170.2 497a1.45 1.45 0 1 0 2.9 0a1.45 1.45 0 1 0 -2.9 0M170.7 494.4a1.45 1.45 0 1 0 2.9 0a1.45 1.45 0 1 0 -2.9 0M171.1 494.5a1.45 1.45 0 1 0 2.9 0a1.45 1.45 0 1 0 -2.9 0M174.7 494.6a1.45 1.45 0 1 0 2.9 0a1.45 1.45 0 1 0 -2.9 0M175.1 496.1a1.45 1.45 0 1 0 2.9 0a1.45 1.45 0 1 0 -2.9 0M175.5 495.7a1.45 1.45 0 1 0 2.9 0a1.45 1.45 0 1 0 -2.9 0M175.9 496.7a1.45 1.45 0 1 0 2.9 0a1.45 1.45 0 1 0 -2.9 0M176.2 496.6a1.45 1.45 0 1 0 2.9 0a1.45 1.45 0 1 0 -2.9 0M176.7 496.1a1.45 1.45 0 1 0 2.9 0a1.45 1.45 0 1 0 -2.9 0M177.1 495.3a1.45 1.45 0 1 0 2.9 0a1.45 1.45 0 1 0 -2.9 0M179.5 495.4a1.45 1.45 0 1 0 2.9 0a1.45 1.45 0 1 0 -2.9 0M183.1 496.1a1.45 1.45 0 1 0 2.9 0a1.45 1.45 0 1 0 -2.9 0M183.5 496.9a1.45 1.45 0 1 0 2.9 0a1.45 1.45 0 1 0 -2.9 0M183.9 495.7a1.45 1.45 0 1 0 2.9 0a1.45 1.45 0 1 0 -2.9 0M184.2 494.1a1.45 1.45 0 1 0 2.9 0a1.45 1.45 0 1 0 -2.9 0M187.9 494.5a1.45 1.45 0 1 0 2.9 0a1.45 1.45 0 1 0 -2.9 0M191.9 494.9a1.45 1.45 0 1 0 2.9 0a1.45 1.45 0 1 0 -2.9 0M192.2 496.4a1.45 1.45 0 1 0 2.9 0a1.45 1.45 0 1 0 -2.9 0M192.7 495.6a1.45 1.45 0 1 0 2.9 0a1.45 1.45 0 1 0 -2.9 0M193.1 495.6a1.45 1.45 0 1 0 2.9 0a1.45 1.45 0 1 0 -2.9 0M193.5 497.1a1.45 1.45 0 1 0 2.9 0a1.45 1.45 0 1 0 -2.9 0M193.9 497.7a1.45 1.45 0 1 0 2.9 0a1.45 1.45 0 1 0 -2.9 0M194.2 496.2a1.45 1.45 0 1 0 2.9 0a1.45 1.45 0 1 0 -2.9 0M194.7 495.4a1.45 1.45 0 1 0 2.9 0a1.45 1.45 0 1 0 -2.9 0M197.9 494.7a1.45 1.45 0 1 0 2.9 0a1.45 1.45 0 1 0 -2.9 0M198.2 495.7a1.45 1.45 0 1 0 2.9 0a1.45 1.45 0 1 0 -2.9 0M198.7 496.8a1.45 1.45 0 1 0 2.9 0a1.45 1.45 0 1 0 -2.9 0M199.1 495.6a1.45 1.45 0 1 0 2.9 0a1.45 1.45 0 1 0 -2.9 0M199.5 495.9a1.45 1.45 0 1 0 2.9 0a1.45 1.45 0 1 0 -2.9 0M199.9 497.2a1.45 1.45 0 1 0 2.9 0a1.45 1.45 0 1 0 -2.9 0M200.2 497.2a1.45 1.45 0 1 0 2.9 0a1.45 1.45 0 1 0 -2.9 0M200.7 497.4a1.45 1.45 0 1 0 2.9 0a1.45 1.45 0 1 0 -2.9 0M201.1 495.8a1.45 1.45 0 1 0 2.9 0a1.45 1.45 0 1 0 -2.9 0M201.5 497.7a1.45 1.45 0 1 0 2.9 0a1.45 1.45 0 1 0 -2.9 0M201.9 497.5a1.45 1.45 0 1 0 2.9 0a1.45 1.45 0 1 0 -2.9 0M202.2 497a1.45 1.45 0 1 0 2.9 0a1.45 1.45 0 1 0 -2.9 0M202.7 496.1a1.45 1.45 0 1 0 2.9 0a1.45 1.45 0 1 0 -2.9 0M203.1 497.4a1.45 1.45 0 1 0 2.9 0a1.45 1.45 0 1 0 -2.9 0M203.5 497.7a1.45 1.45 0 1 0 2.9 0a1.45 1.45 0 1 0 -2.9 0M203.9 496.6a1.45 1.45 0 1 0 2.9 0a1.45 1.45 0 1 0 -2.9 0M204.2 497.2a1.45 1.45 0 1 0 2.9 0a1.45 1.45 0 1 0 -2.9 0M204.7 497.2a1.45 1.45 0 1 0 2.9 0a1.45 1.45 0 1 0 -2.9 0M205.1 497.5a1.45 1.45 0 1 0 2.9 0a1.45 1.45 0 1 0 -2.9 0M205.5 497.3a1.45 1.45 0 1 0 2.9 0a1.45 1.45 0 1 0 -2.9 0M205.9 497.3a1.45 1.45 0 1 0 2.9 0a1.45 1.45 0 1 0 -2.9 0M206.2 495.9a1.45 1.45 0 1 0 2.9 0a1.45 1.45 0 1 0 -2.9 0M206.7 496.5a1.45 1.45 0 1 0 2.9 0a1.45 1.45 0 1 0 -2.9 0M207.1 495.7a1.45 1.45 0 1 0 2.9 0a1.45 1.45 0 1 0 -2.9 0M207.5 497.5a1.45 1.45 0 1 0 2.9 0a1.45 1.45 0 1 0 -2.9 0M207.9 497.3a1.45 1.45 0 1 0 2.9 0a1.45 1.45 0 1 0 -2.9 0M208.2 497a1.45 1.45 0 1 0 2.9 0a1.45 1.45 0 1 0 -2.9 0M208.7 497.6a1.45 1.45 0 1 0 2.9 0a1.45 1.45 0 1 0 -2.9 0M209.1 494.9a1.45 1.45 0 1 0 2.9 0a1.45 1.45 0 1 0 -2.9 0M209.5 495.5a1.45 1.45 0 1 0 2.9 0a1.45 1.45 0 1 0 -2.9 0M210.7 494.1a1.45 1.45 0 1 0 2.9 0a1.45 1.45 0 1 0 -2.9 0M211.1 494.4a1.45 1.45 0 1 0 2.9 0a1.45 1.45 0 1 0 -2.9 0M211.5 494.1a1.45 1.45 0 1 0 2.9 0a1.45 1.45 0 1 0 -2.9 0M211.9 494.7a1.45 1.45 0 1 0 2.9 0a1.45 1.45 0 1 0 -2.9 0M215.9 497.2a1.45 1.45 0 1 0 2.9 0a1.45 1.45 0 1 0 -2.9 0M216.2 496a1.45 1.45 0 1 0 2.9 0a1.45 1.45 0 1 0 -2.9 0M216.7 495.9a1.45 1.45 0 1 0 2.9 0a1.45 1.45 0 1 0 -2.9 0M217.1 496.4a1.45 1.45 0 1 0 2.9 0a1.45 1.45 0 1 0 -2.9 0M217.5 495.9a1.45 1.45 0 1 0 2.9 0a1.45 1.45 0 1 0 -2.9 0M217.9 496a1.45 1.45 0 1 0 2.9 0a1.45 1.45 0 1 0 -2.9 0M218.2 495.9a1.45 1.45 0 1 0 2.9 0a1.45 1.45 0 1 0 -2.9 0M218.7 497.7a1.45 1.45 0 1 0 2.9 0a1.45 1.45 0 1 0 -2.9 0M219.1 496.1a1.45 1.45 0 1 0 2.9 0a1.45 1.45 0 1 0 -2.9 0M219.5 495.3a1.45 1.45 0 1 0 2.9 0a1.45 1.45 0 1 0 -2.9 0M219.9 496.9a1.45 1.45 0 1 0 2.9 0a1.45 1.45 0 1 0 -2.9 0M220.2 497.2a1.45 1.45 0 1 0 2.9 0a1.45 1.45 0 1 0 -2.9 0M220.7 497.4a1.45 1.45 0 1 0 2.9 0a1.45 1.45 0 1 0 -2.9 0M221.1 496.5a1.45 1.45 0 1 0 2.9 0a1.45 1.45 0 1 0 -2.9 0M221.5 495.5a1.45 1.45 0 1 0 2.9 0a1.45 1.45 0 1 0 -2.9 0M221.9 495.1a1.45 1.45 0 1 0 2.9 0a1.45 1.45 0 1 0 -2.9 0M222.2 498.5a1.45 1.45 0 1 0 2.9 0a1.45 1.45 0 1 0 -2.9 0M222.7 496.7a1.45 1.45 0 1 0 2.9 0a1.45 1.45 0 1 0 -2.9 0M223.1 496.6a1.45 1.45 0 1 0 2.9 0a1.45 1.45 0 1 0 -2.9 0M223.5 497a1.45 1.45 0 1 0 2.9 0a1.45 1.45 0 1 0 -2.9 0M223.9 497a1.45 1.45 0 1 0 2.9 0a1.45 1.45 0 1 0 -2.9 0M224.2 496.2a1.45 1.45 0 1 0 2.9 0a1.45 1.45 0 1 0 -2.9 0M224.7 496.5a1.45 1.45 0 1 0 2.9 0a1.45 1.45 0 1 0 -2.9 0M225.1 496.5a1.45 1.45 0 1 0 2.9 0a1.45 1.45 0 1 0 -2.9 0M225.5 496.8a1.45 1.45 0 1 0 2.9 0a1.45 1.45 0 1 0 -2.9 0M225.9 496.5a1.45 1.45 0 1 0 2.9 0a1.45 1.45 0 1 0 -2.9 0M226.2 494.9a1.45 1.45 0 1 0 2.9 0a1.45 1.45 0 1 0 -2.9 0M227.5 495.7a1.45 1.45 0 1 0 2.9 0a1.45 1.45 0 1 0 -2.9 0M227.9 495.5a1.45 1.45 0 1 0 2.9 0a1.45 1.45 0 1 0 -2.9 0M228.2 495.7a1.45 1.45 0 1 0 2.9 0a1.45 1.45 0 1 0 -2.9 0M228.7 497.6a1.45 1.45 0 1 0 2.9 0a1.45 1.45 0 1 0 -2.9 0M229.1 494.9a1.45 1.45 0 1 0 2.9 0a1.45 1.45 0 1 0 -2.9 0M229.5 494.5a1.45 1.45 0 1 0 2.9 0a1.45 1.45 0 1 0 -2.9 0M230.2 494.7a1.45 1.45 0 1 0 2.9 0a1.45 1.45 0 1 0 -2.9 0M230.7 494.7a1.45 1.45 0 1 0 2.9 0a1.45 1.45 0 1 0 -2.9 0M231.1 495.8a1.45 1.45 0 1 0 2.9 0a1.45 1.45 0 1 0 -2.9 0M231.9 497.4a1.45 1.45 0 1 0 2.9 0a1.45 1.45 0 1 0 -2.9 0M232.2 497.6a1.45 1.45 0 1 0 2.9 0a1.45 1.45 0 1 0 -2.9 0M232.7 495.1a1.45 1.45 0 1 0 2.9 0a1.45 1.45 0 1 0 -2.9 0M233.1 496.9a1.45 1.45 0 1 0 2.9 0a1.45 1.45 0 1 0 -2.9 0M233.5 497.3a1.45 1.45 0 1 0 2.9 0a1.45 1.45 0 1 0 -2.9 0M233.9 497.4a1.45 1.45 0 1 0 2.9 0a1.45 1.45 0 1 0 -2.9 0M234.2 496.9a1.45 1.45 0 1 0 2.9 0a1.45 1.45 0 1 0 -2.9 0M234.7 497.7a1.45 1.45 0 1 0 2.9 0a1.45 1.45 0 1 0 -2.9 0M235.1 497.2a1.45 1.45 0 1 0 2.9 0a1.45 1.45 0 1 0 -2.9 0M235.5 496.5a1.45 1.45 0 1 0 2.9 0a1.45 1.45 0 1 0 -2.9 0M235.9 497.9a1.45 1.45 0 1 0 2.9 0a1.45 1.45 0 1 0 -2.9 0M236.2 495.9a1.45 1.45 0 1 0 2.9 0a1.45 1.45 0 1 0 -2.9 0M236.7 496.5a1.45 1.45 0 1 0 2.9 0a1.45 1.45 0 1 0 -2.9 0M237.1 496.5a1.45 1.45 0 1 0 2.9 0a1.45 1.45 0 1 0 -2.9 0M237.5 498a1.45 1.45 0 1 0 2.9 0a1.45 1.45 0 1 0 -2.9 0M237.9 496.4a1.45 1.45 0 1 0 2.9 0a1.45 1.45 0 1 0 -2.9 0M238.2 495.7a1.45 1.45 0 1 0 2.9 0a1.45 1.45 0 1 0 -2.9 0M238.7 496a1.45 1.45 0 1 0 2.9 0a1.45 1.45 0 1 0 -2.9 0M239.1 497a1.45 1.45 0 1 0 2.9 0a1.45 1.45 0 1 0 -2.9 0M239.5 498.2a1.45 1.45 0 1 0 2.9 0a1.45 1.45 0 1 0 -2.9 0M239.9 496a1.45 1.45 0 1 0 2.9 0a1.45 1.45 0 1 0 -2.9 0M240.2 494.6a1.45 1.45 0 1 0 2.9 0a1.45 1.45 0 1 0 -2.9 0M240.7 497.2a1.45 1.45 0 1 0 2.9 0a1.45 1.45 0 1 0 -2.9 0M241.1 495.9a1.45 1.45 0 1 0 2.9 0a1.45 1.45 0 1 0 -2.9 0M241.5 496.4a1.45 1.45 0 1 0 2.9 0a1.45 1.45 0 1 0 -2.9 0M241.9 494.2a1.45 1.45 0 1 0 2.9 0a1.45 1.45 0 1 0 -2.9 0M244.7 494.2a1.45 1.45 0 1 0 2.9 0a1.45 1.45 0 1 0 -2.9 0M245.1 496.9a1.45 1.45 0 1 0 2.9 0a1.45 1.45 0 1 0 -2.9 0M245.5 496.8a1.45 1.45 0 1 0 2.9 0a1.45 1.45 0 1 0 -2.9 0M245.9 495.9a1.45 1.45 0 1 0 2.9 0a1.45 1.45 0 1 0 -2.9 0M246.2 496.3a1.45 1.45 0 1 0 2.9 0a1.45 1.45 0 1 0 -2.9 0M246.7 496.6a1.45 1.45 0 1 0 2.9 0a1.45 1.45 0 1 0 -2.9 0M247.1 497.3a1.45 1.45 0 1 0 2.9 0a1.45 1.45 0 1 0 -2.9 0M247.5 496.7a1.45 1.45 0 1 0 2.9 0a1.45 1.45 0 1 0 -2.9 0M247.9 497.8a1.45 1.45 0 1 0 2.9 0a1.45 1.45 0 1 0 -2.9 0M248.2 498.2a1.45 1.45 0 1 0 2.9 0a1.45 1.45 0 1 0 -2.9 0M248.7 496.4a1.45 1.45 0 1 0 2.9 0a1.45 1.45 0 1 0 -2.9 0M249.1 497a1.45 1.45 0 1 0 2.9 0a1.45 1.45 0 1 0 -2.9 0M249.5 496a1.45 1.45 0 1 0 2.9 0a1.45 1.45 0 1 0 -2.9 0M249.9 497.4a1.45 1.45 0 1 0 2.9 0a1.45 1.45 0 1 0 -2.9 0M250.2 496.8a1.45 1.45 0 1 0 2.9 0a1.45 1.45 0 1 0 -2.9 0M250.7 496.8a1.45 1.45 0 1 0 2.9 0a1.45 1.45 0 1 0 -2.9 0M251.1 497.8a1.45 1.45 0 1 0 2.9 0a1.45 1.45 0 1 0 -2.9 0M251.5 497.4a1.45 1.45 0 1 0 2.9 0a1.45 1.45 0 1 0 -2.9 0M251.9 497.1a1.45 1.45 0 1 0 2.9 0a1.45 1.45 0 1 0 -2.9 0M252.2 496.9a1.45 1.45 0 1 0 2.9 0a1.45 1.45 0 1 0 -2.9 0M252.7 496.5a1.45 1.45 0 1 0 2.9 0a1.45 1.45 0 1 0 -2.9 0M253.5 494.2a1.45 1.45 0 1 0 2.9 0a1.45 1.45 0 1 0 -2.9 0M253.9 494.7a1.45 1.45 0 1 0 2.9 0a1.45 1.45 0 1 0 -2.9 0M254.7 494.6a1.45 1.45 0 1 0 2.9 0a1.45 1.45 0 1 0 -2.9 0M255.1 495.6a1.45 1.45 0 1 0 2.9 0a1.45 1.45 0 1 0 -2.9 0M255.4 497.3a1.45 1.45 0 1 0 2.9 0a1.45 1.45 0 1 0 -2.9 0M255.9 496.8a1.45 1.45 0 1 0 2.9 0a1.45 1.45 0 1 0 -2.9 0M256.2 496.8a1.45 1.45 0 1 0 2.9 0a1.45 1.45 0 1 0 -2.9 0M256.7 497.8a1.45 1.45 0 1 0 2.9 0a1.45 1.45 0 1 0 -2.9 0M257.1 497.3a1.45 1.45 0 1 0 2.9 0a1.45 1.45 0 1 0 -2.9 0M257.4 496.7a1.45 1.45 0 1 0 2.9 0a1.45 1.45 0 1 0 -2.9 0M257.9 497.8a1.45 1.45 0 1 0 2.9 0a1.45 1.45 0 1 0 -2.9 0M258.2 497.3a1.45 1.45 0 1 0 2.9 0a1.45 1.45 0 1 0 -2.9 0M258.7 497.1a1.45 1.45 0 1 0 2.9 0a1.45 1.45 0 1 0 -2.9 0M259.1 496.8a1.45 1.45 0 1 0 2.9 0a1.45 1.45 0 1 0 -2.9 0M259.9 495.7a1.45 1.45 0 1 0 2.9 0a1.45 1.45 0 1 0 -2.9 0M265.9 495a1.45 1.45 0 1 0 2.9 0a1.45 1.45 0 1 0 -2.9 0M266.2 496.5a1.45 1.45 0 1 0 2.9 0a1.45 1.45 0 1 0 -2.9 0M266.7 496.2a1.45 1.45 0 1 0 2.9 0a1.45 1.45 0 1 0 -2.9 0M267.1 495.7a1.45 1.45 0 1 0 2.9 0a1.45 1.45 0 1 0 -2.9 0M267.4 496.3a1.45 1.45 0 1 0 2.9 0a1.45 1.45 0 1 0 -2.9 0M267.9 497a1.45 1.45 0 1 0 2.9 0a1.45 1.45 0 1 0 -2.9 0M268.2 495.9a1.45 1.45 0 1 0 2.9 0a1.45 1.45 0 1 0 -2.9 0M268.7 497a1.45 1.45 0 1 0 2.9 0a1.45 1.45 0 1 0 -2.9 0M269.1 498.7a1.45 1.45 0 1 0 2.9 0a1.45 1.45 0 1 0 -2.9 0M269.4 495.3a1.45 1.45 0 1 0 2.9 0a1.45 1.45 0 1 0 -2.9 0M269.9 496.2a1.45 1.45 0 1 0 2.9 0a1.45 1.45 0 1 0 -2.9 0M270.2 496.6a1.45 1.45 0 1 0 2.9 0a1.45 1.45 0 1 0 -2.9 0M270.7 497a1.45 1.45 0 1 0 2.9 0a1.45 1.45 0 1 0 -2.9 0M271.1 497.9a1.45 1.45 0 1 0 2.9 0a1.45 1.45 0 1 0 -2.9 0M271.4 496.8a1.45 1.45 0 1 0 2.9 0a1.45 1.45 0 1 0 -2.9 0M271.9 496.2a1.45 1.45 0 1 0 2.9 0a1.45 1.45 0 1 0 -2.9 0M272.2 495.8a1.45 1.45 0 1 0 2.9 0a1.45 1.45 0 1 0 -2.9 0M272.7 494.2a1.45 1.45 0 1 0 2.9 0a1.45 1.45 0 1 0 -2.9 0M273.1 495.4a1.45 1.45 0 1 0 2.9 0a1.45 1.45 0 1 0 -2.9 0M273.4 497.9a1.45 1.45 0 1 0 2.9 0a1.45 1.45 0 1 0 -2.9 0M273.9 495.8a1.45 1.45 0 1 0 2.9 0a1.45 1.45 0 1 0 -2.9 0M274.2 497.1a1.45 1.45 0 1 0 2.9 0a1.45 1.45 0 1 0 -2.9 0M274.7 497a1.45 1.45 0 1 0 2.9 0a1.45 1.45 0 1 0 -2.9 0M275.1 495.9a1.45 1.45 0 1 0 2.9 0a1.45 1.45 0 1 0 -2.9 0M275.4 494.4a1.45 1.45 0 1 0 2.9 0a1.45 1.45 0 1 0 -2.9 0M275.9 496a1.45 1.45 0 1 0 2.9 0a1.45 1.45 0 1 0 -2.9 0M278.7 495a1.45 1.45 0 1 0 2.9 0a1.45 1.45 0 1 0 -2.9 0M279.1 496a1.45 1.45 0 1 0 2.9 0a1.45 1.45 0 1 0 -2.9 0M279.4 496.3a1.45 1.45 0 1 0 2.9 0a1.45 1.45 0 1 0 -2.9 0M279.9 496.7a1.45 1.45 0 1 0 2.9 0a1.45 1.45 0 1 0 -2.9 0M280.2 495.7a1.45 1.45 0 1 0 2.9 0a1.45 1.45 0 1 0 -2.9 0M280.7 496.6a1.45 1.45 0 1 0 2.9 0a1.45 1.45 0 1 0 -2.9 0M281.1 497.2a1.45 1.45 0 1 0 2.9 0a1.45 1.45 0 1 0 -2.9 0M281.4 498.1a1.45 1.45 0 1 0 2.9 0a1.45 1.45 0 1 0 -2.9 0M281.9 495.1a1.45 1.45 0 1 0 2.9 0a1.45 1.45 0 1 0 -2.9 0M282.2 497.5a1.45 1.45 0 1 0 2.9 0a1.45 1.45 0 1 0 -2.9 0M282.7 495.5a1.45 1.45 0 1 0 2.9 0a1.45 1.45 0 1 0 -2.9 0M283.1 496a1.45 1.45 0 1 0 2.9 0a1.45 1.45 0 1 0 -2.9 0M285.9 495.7a1.45 1.45 0 1 0 2.9 0a1.45 1.45 0 1 0 -2.9 0M286.2 496a1.45 1.45 0 1 0 2.9 0a1.45 1.45 0 1 0 -2.9 0M286.7 494.9a1.45 1.45 0 1 0 2.9 0a1.45 1.45 0 1 0 -2.9 0M287.1 494.8a1.45 1.45 0 1 0 2.9 0a1.45 1.45 0 1 0 -2.9 0M287.4 496.1a1.45 1.45 0 1 0 2.9 0a1.45 1.45 0 1 0 -2.9 0M287.9 495.3a1.45 1.45 0 1 0 2.9 0a1.45 1.45 0 1 0 -2.9 0M289.1 494.5a1.45 1.45 0 1 0 2.9 0a1.45 1.45 0 1 0 -2.9 0M289.4 496.5a1.45 1.45 0 1 0 2.9 0a1.45 1.45 0 1 0 -2.9 0M289.9 495.3a1.45 1.45 0 1 0 2.9 0a1.45 1.45 0 1 0 -2.9 0M290.2 497a1.45 1.45 0 1 0 2.9 0a1.45 1.45 0 1 0 -2.9 0M290.7 495.4a1.45 1.45 0 1 0 2.9 0a1.45 1.45 0 1 0 -2.9 0M291.1 495.6a1.45 1.45 0 1 0 2.9 0a1.45 1.45 0 1 0 -2.9 0M291.4 494.5a1.45 1.45 0 1 0 2.9 0a1.45 1.45 0 1 0 -2.9 0M291.9 495.5a1.45 1.45 0 1 0 2.9 0a1.45 1.45 0 1 0 -2.9 0M293.1 494.9a1.45 1.45 0 1 0 2.9 0a1.45 1.45 0 1 0 -2.9 0M293.4 496.2a1.45 1.45 0 1 0 2.9 0a1.45 1.45 0 1 0 -2.9 0M293.9 496.2a1.45 1.45 0 1 0 2.9 0a1.45 1.45 0 1 0 -2.9 0M295.9 496.9a1.45 1.45 0 1 0 2.9 0a1.45 1.45 0 1 0 -2.9 0M296.2 496a1.45 1.45 0 1 0 2.9 0a1.45 1.45 0 1 0 -2.9 0M296.7 496.6a1.45 1.45 0 1 0 2.9 0a1.45 1.45 0 1 0 -2.9 0M297.1 496.6a1.45 1.45 0 1 0 2.9 0a1.45 1.45 0 1 0 -2.9 0M297.4 496.3a1.45 1.45 0 1 0 2.9 0a1.45 1.45 0 1 0 -2.9 0M297.9 496.6a1.45 1.45 0 1 0 2.9 0a1.45 1.45 0 1 0 -2.9 0M298.2 495.8a1.45 1.45 0 1 0 2.9 0a1.45 1.45 0 1 0 -2.9 0M299.1 494.2a1.45 1.45 0 1 0 2.9 0a1.45 1.45 0 1 0 -2.9 0M301.9 495a1.45 1.45 0 1 0 2.9 0a1.45 1.45 0 1 0 -2.9 0M302.2 495.4a1.45 1.45 0 1 0 2.9 0a1.45 1.45 0 1 0 -2.9 0M302.7 496.3a1.45 1.45 0 1 0 2.9 0a1.45 1.45 0 1 0 -2.9 0M303.1 498.5a1.45 1.45 0 1 0 2.9 0a1.45 1.45 0 1 0 -2.9 0M303.4 496.6a1.45 1.45 0 1 0 2.9 0a1.45 1.45 0 1 0 -2.9 0M303.9 495.6a1.45 1.45 0 1 0 2.9 0a1.45 1.45 0 1 0 -2.9 0M304.2 497.4a1.45 1.45 0 1 0 2.9 0a1.45 1.45 0 1 0 -2.9 0M304.7 497.1a1.45 1.45 0 1 0 2.9 0a1.45 1.45 0 1 0 -2.9 0M305.1 495.8a1.45 1.45 0 1 0 2.9 0a1.45 1.45 0 1 0 -2.9 0M305.4 498a1.45 1.45 0 1 0 2.9 0a1.45 1.45 0 1 0 -2.9 0M305.9 496.5a1.45 1.45 0 1 0 2.9 0a1.45 1.45 0 1 0 -2.9 0M306.2 498.2a1.45 1.45 0 1 0 2.9 0a1.45 1.45 0 1 0 -2.9 0M306.7 495.3a1.45 1.45 0 1 0 2.9 0a1.45 1.45 0 1 0 -2.9 0M307.1 496.8a1.45 1.45 0 1 0 2.9 0a1.45 1.45 0 1 0 -2.9 0M307.4 495.6a1.45 1.45 0 1 0 2.9 0a1.45 1.45 0 1 0 -2.9 0M315.1 494.6a1.45 1.45 0 1 0 2.9 0a1.45 1.45 0 1 0 -2.9 0M315.4 495.5a1.45 1.45 0 1 0 2.9 0a1.45 1.45 0 1 0 -2.9 0M315.9 496.2a1.45 1.45 0 1 0 2.9 0a1.45 1.45 0 1 0 -2.9 0M316.2 497.1a1.45 1.45 0 1 0 2.9 0a1.45 1.45 0 1 0 -2.9 0M316.7 497.1a1.45 1.45 0 1 0 2.9 0a1.45 1.45 0 1 0 -2.9 0M317.1 496.9a1.45 1.45 0 1 0 2.9 0a1.45 1.45 0 1 0 -2.9 0M317.4 497a1.45 1.45 0 1 0 2.9 0a1.45 1.45 0 1 0 -2.9 0M317.9 496.6a1.45 1.45 0 1 0 2.9 0a1.45 1.45 0 1 0 -2.9 0M318.2 495.6a1.45 1.45 0 1 0 2.9 0a1.45 1.45 0 1 0 -2.9 0M318.7 496.5a1.45 1.45 0 1 0 2.9 0a1.45 1.45 0 1 0 -2.9 0M319.1 496.5a1.45 1.45 0 1 0 2.9 0a1.45 1.45 0 1 0 -2.9 0M319.4 496.6a1.45 1.45 0 1 0 2.9 0a1.45 1.45 0 1 0 -2.9 0M319.9 495.5a1.45 1.45 0 1 0 2.9 0a1.45 1.45 0 1 0 -2.9 0M320.2 496.5a1.45 1.45 0 1 0 2.9 0a1.45 1.45 0 1 0 -2.9 0M320.7 496.5a1.45 1.45 0 1 0 2.9 0a1.45 1.45 0 1 0 -2.9 0M321.1 496.2a1.45 1.45 0 1 0 2.9 0a1.45 1.45 0 1 0 -2.9 0M321.4 496.6a1.45 1.45 0 1 0 2.9 0a1.45 1.45 0 1 0 -2.9 0M321.9 496.8a1.45 1.45 0 1 0 2.9 0a1.45 1.45 0 1 0 -2.9 0M322.2 497.3a1.45 1.45 0 1 0 2.9 0a1.45 1.45 0 1 0 -2.9 0M322.7 497.6a1.45 1.45 0 1 0 2.9 0a1.45 1.45 0 1 0 -2.9 0M323.1 496.1a1.45 1.45 0 1 0 2.9 0a1.45 1.45 0 1 0 -2.9 0M323.4 497.3a1.45 1.45 0 1 0 2.9 0a1.45 1.45 0 1 0 -2.9 0M323.9 496.7a1.45 1.45 0 1 0 2.9 0a1.45 1.45 0 1 0 -2.9 0M324.2 496.8a1.45 1.45 0 1 0 2.9 0a1.45 1.45 0 1 0 -2.9 0M324.7 497.8a1.45 1.45 0 1 0 2.9 0a1.45 1.45 0 1 0 -2.9 0M325.1 497.5a1.45 1.45 0 1 0 2.9 0a1.45 1.45 0 1 0 -2.9 0M325.4 497.1a1.45 1.45 0 1 0 2.9 0a1.45 1.45 0 1 0 -2.9 0M325.9 496a1.45 1.45 0 1 0 2.9 0a1.45 1.45 0 1 0 -2.9 0M326.2 496.7a1.45 1.45 0 1 0 2.9 0a1.45 1.45 0 1 0 -2.9 0" fill="none" stroke="#3434f0" stroke-width="0.85"/>
<path d="M37.3 493.4 37.7 493.5 38.1 493.5 38.5 493.6 38.9 493.6 39.3 493.7 39.7 493.7 40.1 493.8 40.5 493.8 40.9 493.8 41.3 493.9 41.7 493.9 42.1 494 42.5 494 42.9 494 43.3 494.1 43.7 494.1 44.1 494.2 44.5 494.2 44.9 494.2 45.3 494.3 45.7 494.3 46.1 494.4 46.5 494.4 46.9 494.4 47.3 494.5 47.7 494.5 48.1 494.5 48.5 494.6 48.9 494.6 49.3 494.6 49.7 494.7 50.1 494.7 50.5 494.7 50.9 494.8 51.3 494.8 51.7 494.8 52.1 494.9 52.5 494.9 52.9 494.9 53.3 494.9 53.7 495 54.1 495 54.5 495 54.9 495.1 55.3 495.1 55.7 495.1 56.1 495.1 56.5 495.2 56.9 495.2 57.3 495.2 57.7 495.2 58.1 495.3 58.5 495.3 58.9 495.3 59.3 495.3 59.7 495.4 60.1 495.4 60.5 495.4 60.9 495.4 61.3 495.4 61.7 495.4 62.1 495.4 62.2 495.4 62.3 495.4 62.4 495.4 62.5 495.4 62.6 495.4 62.7 495.4 62.8 495.4 62.9 495.4 63 495.4 63.1 495.4 63.2 495.4 63.3 495.4 63.4 495.4 63.5 495.4 63.6 495.3 63.7 495.3 63.8 495.2 63.9 495.1 64 494.9 64.1 494.7 64.2 494.3 64.3 493.9 64.4 493.3 64.5 492.5 64.6 491.5 64.7 490.2 64.8 488.8 64.9 487.1 65 485.3 65.1 483.4 65.2 481.5 65.3 479.7 65.4 478.1 65.5 476.8 65.6 476 65.7 475.7 65.8 476 65.9 476.8 66 478.1 66.1 479.7 66.2 481.5 66.3 483.5 66.4 485.4 66.5 487.2 66.6 488.9 66.7 490.3 66.8 491.6 66.9 492.6 67 493.4 67.1 494 67.2 494.5 67.3 494.8 67.4 495.1 67.5 495.3 67.6 495.4 67.7 495.5 67.8 495.5 67.9 495.6 68 495.6 68.1 495.7 68.2 495.7 68.3 495.7 68.4 495.7 68.5 495.7 68.6 495.7 68.7 495.8 68.8 495.8 68.9 495.8 69 495.8 69.1 495.8 69.2 495.8 69.3 495.8 69.7 495.9 70.1 495.9 70.5 495.9 70.9 495.9 71.3 496 71.7 496 72.1 496 72.5 496 72.9 496 73.3 496 73.7 496 74.1 496 74.5 495.7 74.9 495.1 75.3 494.1 75.7 493.3 75.9 493.2 76.1 493.3 76.5 494.2 76.9 495.2 77.3 495.8 77.7 496.1 78.1 496.2 78.5 496.2 78.9 496.3 79.3 496.3 79.7 496.3 80.1 496.3 80.5 496.3 80.6 496.3 80.7 496.3 80.8 496.3 80.9 496.3 81 496.3 81.1 496.3 81.2 496.3 81.3 496.3 81.4 496.3 81.5 496.3 81.6 496.3 81.7 496.3 81.8 496.2 81.9 496.2 82 496.2 82.1 496.2 82.2 496.1 82.3 496 82.4 495.9 82.5 495.8 82.6 495.5 82.7 495.2 82.8 494.8 82.9 494.3 83 493.6 83.1 492.7 83.2 491.8 83.3 490.6 83.4 489.4 83.5 488.1 83.6 486.8 83.7 485.6 83.8 484.5 83.9 483.6 84 483.1 84.1 482.9 84.2 483.1 84.3 483.6 84.4 484.5 84.5 485.6 84.6 486.8 84.7 488.1 84.8 489.4 84.9 490.7 85 491.8 85.1 492.8 85.2 493.6 85.3 494.3 85.4 494.9 85.5 495.3 85.6 495.6 85.7 495.9 85.8 496 85.9 496.2 86 496.2 86.1 496.3 86.2 496.3 86.3 496.4 86.4 496.4 86.5 496.4 86.6 496.4 86.7 496.4 86.8 496.4 86.9 496.5 87 496.5 87.1 496.5 87.2 496.5 87.3 496.5 87.4 496.5 87.5 496.5 87.6 496.5 87.7 496.5 88.1 496.5 88.5 496.6 88.9 496.6 89.3 496.6 89.7 496.6 90.1 496.6 90.5 496.6 90.9 496.6 91.3 496.6 91.7 496.7 92.1 496.7 92.5 496.7 92.9 496.7 93.3 496.7 93.7 496.7 94.1 496.7 94.5 496.7 94.9 496.7 95.3 496.7 95.7 496.7 96.1 496.7 96.5 496.7 96.9 496.7 97.3 496.7 97.7 496.7 98.1 496.7 98.5 496.7 98.9 496.7 99.3 496.7 99.7 496.7 100.1 496.6 100.5 496.6 100.9 496.5 101.3 496.4 101.4 496.4 101.5 496.4 101.6 496.4 101.7 496.3 101.8 496.3 101.9 496.2 102 496.2 102.1 496.1 102.2 496 102.3 495.9 102.4 495.7 102.5 495.4 102.6 494.9 102.7 494 102.8 492.7 102.9 490.7 103 487.8 103.1 483.8 103.2 478.7 103.3 472.7 103.4 466.2 103.5 459.8 103.6 454.2 103.7 450.3 103.8 448.9 103.9 450.2 104 453.8 104.1 459.2 104.2 465.4 104.3 471.7 104.4 477.4 104.5 482 104.6 485.3 104.7 487.2 104.8 487.4 104.9 485.8 105 481.9 105.1 475.1 105.2 465 105.3 450.9 105.4 432.8 105.5 411.4 105.6 388 105.7 364.9 105.8 345 105.9 331.4 106 326.5 106.1 331.4 106.2 345.1 106.3 365 106.4 388.1 106.5 411.5 106.6 433 106.7 451.2 106.8 465.4 106.9 475.8 107 482.9 107.1 487.6 107.2 490.4 107.3 491.9 107.4 492.5 107.5 492.3 107.6 491.5 107.7 489.9 107.8 487.4 107.9 483.9 108 479.3 108.1 473.9 108.2 467.9 108.3 462 108.4 456.9 108.5 453.4 108.6 452.2 108.7 453.6 108.8 457.1 108.9 462.3 109 468.4 109.1 474.5 109.2 480.1 109.3 484.8 109.4 488.5 109.5 491.3 109.6 493.1 109.7 494.4 109.8 495.2 109.9 495.6 110 495.9 110.1 496.1 110.2 496.2 110.3 496.3 110.4 496.4 110.5 496.4 110.6 496.5 110.7 496.5 110.8 496.5 110.9 496.6 111 496.6 111.1 496.6 111.3 496.7 111.7 496.7 112.1 496.8 112.5 496.7 112.9 496.6 113.3 496.2 113.7 495.6 114.1 494.8 114.5 494.4 114.6 494.4 114.9 494.6 115.3 495.3 115.7 496 116.1 496.5 116.5 496.6 116.9 496.2 117.3 495.3 117.7 494.4 118 494.1 118.1 494.1 118.5 494.8 118.9 495.8 119.3 496.6 119.7 496.9 120.1 497 120.5 497.1 120.9 497.1 121.3 497.1 121.7 497.1 122.1 497 122.5 496.7 122.9 495.9 123.3 494 123.7 491.5 124.1 489.8 124.2 489.7 124.5 490.4 124.9 492.8 125.3 495.1 125.7 496.4 126.1 497 126.5 497.1 126.9 497.2 127.3 497.2 127.7 497.2 128.1 497.2 128.5 497.2 128.9 497.2 129.3 497.2 129.7 497.2 130.1 497.2 130.5 497.2 130.9 497.2 131.3 497.2 131.7 497.2 132.1 497.2 132.5 497.1 132.9 496.8 133.3 496 133.7 494.3 134.1 492.3 134.5 491.3 134.9 492.3 135.3 494.3 135.7 496 136.1 496.8 136.5 497.1 136.9 497.2 137.3 497.3 137.7 497.3 138.1 497.3 138.5 497.3 138.9 497.3 139.3 497.3 139.7 497.3 140.1 497.3 140.5 497.3 140.9 497.3 141.3 497.3 141.7 497.3 142.1 497.3 142.5 497.3 142.9 497.3 143.3 497.3 143.7 497.3 144.1 497.3 144.5 497.3 144.9 497.3 145.3 497.3 145.7 497.2 146.1 497.2 146.5 497.2 146.7 497.1 146.8 497.1 146.9 497.1 147 497.1 147.1 497.1 147.2 497.1 147.3 497 147.4 497 147.5 497 147.6 497 147.7 496.9 147.8 496.9 147.9 496.8 148 496.7 148.1 496.6 148.2 496.3 148.3 496 148.4 495.6 148.5 494.9 148.6 493.9 148.7 492.5 148.8 490.6 148.9 488.1 149 484.9 149.1 481.1 149.2 476.7 149.3 471.8 149.4 466.7 149.5 461.7 149.6 457.2 149.7 453.5 149.8 451.1 149.9 450.3 150 451.1 150.1 453.5 150.2 457.1 150.3 461.7 150.4 466.7 150.5 471.8 150.6 476.6 150.7 481 150.8 484.7 150.9 487.8 151 490.3 151.1 492.1 151.2 493.4 151.3 494.2 151.4 494.8 151.5 495.1 151.6 495.2 151.7 495.2 151.8 495.1 151.9 494.9 152 494.7 152.1 494.4 152.2 494.2 152.3 493.9 152.4 493.6 152.5 493.4 152.6 493.2 152.7 493 152.8 492.8 152.9 492.6 153 492.5 153.1 492.3 153.3 492 153.7 490.7 154.1 488.2 154.5 486 154.6 485.8 154.9 486.1 155.3 488.2 155.7 490.4 155.7 490.6 156.1 492.4 156.5 493.4 156.9 493.8 157.3 494.1 157.4 494.2 157.7 494.8 158.1 495.7 158.5 496.3 158.9 496.2 159.3 495.3 159.7 494.2 160 493.5 160.1 493.3 160.5 493.3 160.9 493.9 160.9 493.9 161.3 495.1 161.7 496.2 162.1 496.8 162.5 497 162.9 497 163.3 496.7 163.7 496.1 164.1 495.4 164.5 494.7 164.9 494.2 165.1 494.1 165.3 494.1 165.7 494.4 165.9 494.6 166 494.7 166.1 494.8 166.2 494.8 166.3 494.8 166.4 494.8 166.5 494.7 166.6 494.6 166.7 494.5 166.8 494.4 166.9 494.2 167 494.1 167.1 493.9 167.2 493.8 167.3 493.7 167.4 493.6 167.4 493.6 167.5 493.6 167.6 493.6 167.7 493.6 167.8 493.6 167.9 493.6 168 493.6 168.1 493.5 168.2 493.4 168.3 493.2 168.4 493 168.5 492.6 168.6 492.1 168.7 491.5 168.8 490.8 168.9 490 169 489.2 169.1 488.2 169.2 487.3 169.3 486.6 169.3 486.4 169.4 485.5 169.5 484.8 169.6 484.2 169.7 483.8 169.8 483.6 169.9 483.7 170 484.1 170.1 484.7 170.2 485.5 170.3 486.5 170.4 487.6 170.5 488.7 170.6 489.9 170.7 491 170.8 492 170.9 492.9 171 493.8 171.1 494.5 171.2 495 171.3 495.5 171.4 495.8 171.5 496.1 171.6 496.2 171.7 496.3 171.8 496.3 171.9 496.3 172 496.2 172.1 496 172.2 495.8 172.3 495.6 172.4 495.3 172.5 495.1 172.6 494.8 172.7 494.5 172.8 494.2 172.9 494 173 493.7 173.1 493.5 173.2 493.4 173.3 493.3 173.4 493.2 173.4 493.2 173.5 493.2 173.6 493.2 173.7 493.3 173.8 493.4 173.9 493.4 174.1 493.6 174.5 493.7 174.9 493.8 175 493.9 175.3 494.4 175.7 495.5 176.1 496.5 176.5 497 176.9 497.3 177.3 497.3 177.7 497.3 178.1 497.1 178.5 496.9 178.8 496.6 178.9 496.5 179 496.4 179.1 496.3 179.2 496.1 179.3 496 179.4 495.9 179.5 495.8 179.6 495.7 179.7 495.6 179.8 495.6 179.9 495.5 180 495.5 180 495.5 180.1 495.5 180.2 495.5 180.3 495.6 180.4 495.6 180.5 495.7 180.6 495.7 180.7 495.8 180.8 495.8 180.9 495.8 181 495.7 181.1 495.6 181.2 495.4 181.3 495 181.4 494.6 181.5 494 181.6 493.3 181.7 492.4 181.8 491.3 181.9 490.1 182 488.7 182.1 487.3 182.2 485.9 182.3 484.4 182.4 483.1 182.5 482 182.6 481.1 182.7 480.5 182.8 480.4 182.9 480.5 183 481.1 183.1 482 183.2 483.1 183.3 484.5 183.4 485.9 183.5 487.4 183.6 488.8 183.7 490.2 183.8 491.5 183.9 492.6 184 493.5 184.1 494.3 184.2 495 184.3 495.5 184.4 495.9 184.5 496.2 184.6 496.4 184.7 496.6 184.8 496.7 184.9 496.7 185 496.8 185.1 496.7 185.2 496.7 185.3 496.6 185.4 496.4 185.5 496.1 185.6 495.8 185.7 495.3 185.8 494.7 185.9 494 186 493 186.1 491.8 186.2 490.4 186.3 488.7 186.4 486.9 186.5 484.9 186.6 482.7 186.7 480.6 186.8 478.4 186.9 476.5 187 474.8 187.1 473.5 187.2 472.7 187.3 472.4 187.4 472.7 187.5 473.5 187.6 474.8 187.7 476.5 187.8 478.4 187.9 480.5 188 482.7 188.1 484.8 188.2 486.8 188.3 488.6 188.4 490.2 188.5 491.6 188.6 492.7 188.7 493.6 188.8 494.3 188.9 494.9 189 495.2 189.1 495.4 189.2 495.5 189.3 495.6 189.4 495.5 189.5 495.4 189.6 495.2 189.7 495 189.8 494.8 189.9 494.5 190 494.2 190.1 493.8 190.2 493.5 190.3 493.1 190.4 492.8 190.5 492.4 190.6 492.1 190.7 491.7 190.8 491.4 190.8 491.3 190.9 491.1 191 490.9 191.1 490.6 191.2 490.5 191.3 490.4 191.4 490.3 191.7 490.5 192.1 491.4 192.2 491.6 192.5 492.8 192.9 494.3 193.3 495.5 193.7 496.4 194.1 496.9 194.5 497.1 194.9 497.2 195.3 497.1 195.7 496.9 196.1 496.4 196.5 495.4 196.9 493.8 197.3 491.9 197.4 491.3 197.7 490.3 198 490 198.1 490.1 198.5 491.6 198.9 493.8 199.3 495.6 199.7 496.6 200.1 497.1 200.5 497.3 200.9 497.4 201.3 497.4 201.7 497.5 202.1 497.5 202.5 497.5 202.9 497.5 203.3 497.5 203.7 497.5 204.1 497.5 204.5 497.5 204.9 497.5 205.3 497.5 205.7 497.5 206.1 497.5 206.5 497.5 206.9 497.5 207.3 497.5 207.7 497.5 208.1 497.5 208.5 497.5 208.9 497.5 209.3 497.4 209.7 497.3 210.1 497 210.5 496.3 210.9 495.2 211.1 494.6 211.2 494.4 211.3 494.1 211.4 493.9 211.5 493.7 211.6 493.6 211.6 493.6 211.7 493.6 211.8 493.6 211.9 493.7 212 493.8 212.1 493.9 212.2 494 212.3 494.2 212.4 494.3 212.5 494.4 212.6 494.5 212.7 494.5 212.8 494.6 212.9 494.5 213 494.5 213.1 494.4 213.2 494.3 213.3 494.2 213.4 494 213.5 493.8 213.6 493.7 213.7 493.5 213.8 493.3 213.8 493.2 213.9 493 214 492.7 214.1 492.3 214.2 491.9 214.3 491.4 214.4 490.9 214.5 490.3 214.6 489.6 214.7 488.9 214.8 488.1 214.9 487.4 215 486.7 215.1 486 215.2 485.5 215.3 485.1 215.4 484.9 215.5 484.9 215.6 485.1 215.7 485.6 215.8 486.2 215.9 486.9 216 487.8 216.1 488.7 216.2 489.7 216.3 490.7 216.4 491.6 216.5 492.5 216.6 493.3 216.7 494.1 216.8 494.7 216.9 495.3 217 495.7 217.1 496.1 217.2 496.4 217.3 496.7 217.4 496.8 217.5 497 217.6 497.1 217.7 497.2 217.8 497.2 217.9 497.3 218 497.3 218.1 497.4 218.2 497.4 218.3 497.4 218.4 497.4 218.5 497.4 218.6 497.4 218.7 497.4 218.8 497.4 218.9 497.4 219 497.5 219.1 497.5 219.2 497.5 219.3 497.5 219.4 497.5 219.5 497.5 219.6 497.5 219.7 497.5 219.8 497.5 219.9 497.5 220.1 497.5 220.5 497.5 220.9 497.5 221.3 497.5 221.7 497.5 222.1 497.5 222.5 497.5 222.9 497.5 223.3 497.5 223.7 497.5 224.1 497.5 224.5 497.5 224.9 497.5 225.3 497.5 225.7 497.5 226.1 497.4 226.5 497.2 226.9 496.7 227.3 495.8 227.7 494.8 228 494.5 228.1 494.6 228.5 495.2 228.9 496.2 229.3 496.8 229.7 497 230.1 496.8 230.5 496.4 230.9 496.1 231.3 495.9 231.4 495.8 231.7 495.9 232.1 496.2 232.5 496.6 232.9 497 233.3 497.2 233.7 497.4 234.1 497.5 234.5 497.5 234.9 497.5 235.3 497.5 235.7 497.5 236.1 497.5 236.5 497.5 236.9 497.5 237.3 497.5 237.7 497.5 238.1 497.5 238.5 497.5 238.9 497.5 239.3 497.5 239.7 497.5 240.1 497.5 240.3 497.5 240.4 497.5 240.5 497.5 240.6 497.5 240.7 497.5 240.8 497.5 240.9 497.5 241 497.5 241.1 497.5 241.2 497.5 241.3 497.5 241.4 497.5 241.5 497.5 241.6 497.5 241.7 497.5 241.8 497.4 241.9 497.4 242 497.4 242.1 497.4 242.2 497.4 242.3 497.3 242.4 497.3 242.5 497.2 242.6 497.2 242.7 497 242.8 496.9 242.9 496.7 243 496.5 243.1 496.2 243.2 495.8 243.3 495.3 243.4 494.8 243.5 494.2 243.6 493.4 243.7 492.6 243.8 491.8 243.9 490.8 244 489.9 244.1 488.9 244.2 488 244.3 487.2 244.4 486.5 244.5 486 244.6 485.7 244.7 485.6 244.8 485.7 244.9 486 245 486.5 245.1 487.2 245.2 488 245.3 488.9 245.4 489.9 245.5 490.8 245.6 491.8 245.7 492.6 245.8 493.4 245.9 494.2 246 494.8 246.1 495.3 246.2 495.8 246.3 496.2 246.4 496.5 246.5 496.7 246.6 496.9 246.7 497 246.8 497.2 246.9 497.2 247 497.3 247.1 497.3 247.2 497.4 247.3 497.4 247.4 497.4 247.5 497.4 247.6 497.4 247.7 497.5 247.8 497.5 247.9 497.5 248 497.5 248.1 497.5 248.2 497.5 248.3 497.5 248.4 497.5 248.5 497.5 248.6 497.5 248.7 497.5 248.8 497.5 248.9 497.5 249 497.5 249.1 497.5 249.3 497.5 249.7 497.5 250.1 497.5 250.5 497.5 250.9 497.5 251.3 497.5 251.7 497.5 252.1 497.5 252.5 497.5 252.9 497.5 253.3 497.5 253.7 497.4 254.1 497 254.5 496.5 254.9 495.9 255.3 495.6 255.3 495.6 255.7 496 256.1 496.6 256.5 497.1 256.9 497.4 257.3 497.5 257.7 497.5 258.1 497.5 258.5 497.5 258.9 497.5 259.3 497.5 259.7 497.4 260.1 497.4 260.5 497.2 260.9 496.7 261.3 495.9 261.7 494.9 262 494.3 262.1 494.2 262.5 493.7 262.9 492.7 263.3 490.8 263.7 488.4 263.9 487.3 264.1 486.4 264.2 486.2 264.5 485.6 264.7 485.8 264.9 486.3 265 486.6 265.3 488 265.4 488.8 265.7 490.3 266.1 492.7 266.5 494.6 266.9 495.9 267.3 496.7 267.7 497.1 268.1 497.3 268.5 497.4 268.9 497.5 269.3 497.5 269.7 497.5 270.1 497.5 270.5 497.5 270.9 497.5 271.3 497.5 271.7 497.5 272.1 497.5 272.5 497.5 272.9 497.5 273.3 497.5 273.7 497.5 274.1 497.5 274.5 497.5 274.9 497.5 275.3 497.5 275.7 497.5 276.1 497.4 276.5 497.2 276.9 496.7 277.3 495.7 277.7 494.3 278.1 492.9 278.5 492 278.5 492 278.8 492 278.9 492.3 279.3 493.5 279.7 494.9 280.1 496.1 280.5 496.9 280.9 497.3 281.3 497.4 281.7 497.5 282.1 497.5 282.5 497.5 282.9 497.5 283.3 497.4 283.7 497.3 284.1 497.1 284.5 496.4 284.9 495.3 285.3 493.9 285.7 492.9 285.9 492.7 285.9 492.7 286.1 492.9 286.5 493.9 286.9 495.2 287.3 496.3 287.7 496.8 288.1 496.8 288.5 496.4 288.9 495.8 289.3 495.2 289.7 494.7 290 494.5 290.1 494.5 290.5 494.9 290.9 495.5 291.3 496.2 291.7 496.7 292.1 496.8 292.5 496.6 292.9 496.1 293.3 495.5 293.6 495.2 293.7 495.2 294.1 495.6 294.5 496.3 294.9 496.7 295.3 496.7 295.7 496 296.1 495.3 296.4 495.1 296.5 495.1 296.9 495.8 297.3 496.7 297.7 497.2 298.1 497.4 298.5 497.4 298.9 497.4 299.3 497.2 299.7 496.8 300.1 496.1 300.5 495 300.9 493.5 301.3 492 301.7 491 301.8 490.9 302 490.8 302.1 490.9 302.5 491.8 302.9 493.3 303.3 494.8 303.7 496 304.1 496.7 304.5 497.2 304.9 497.3 305.3 497.4 305.7 497.5 306.1 497.5 306.5 497.5 306.9 497.4 307.3 497.4 307.7 497.3 308.1 497 308.5 496.6 308.9 496 309.3 495.2 309.7 494.4 310 493.9 310.1 493.7 310.5 493.2 310.9 493 311.3 493.2 311.7 493.8 312.1 494.6 312.5 495.1 312.9 495.2 313.3 494.7 313.7 494 313.9 493.7 314.1 493.3 314.5 492.8 314.9 492.6 315.2 492.8 315.3 492.9 315.7 493.8 316.1 494.9 316.5 495.9 316.9 496.7 317.3 497.1 317.7 497.4 318.1 497.5 318.5 497.5 318.9 497.5 319.3 497.5 319.7 497.5 320.1 497.5 320.5 497.6 320.9 497.6 321.3 497.6 321.7 497.6 322.1 497.6 322.5 497.6 322.9 497.6 323.3 497.6 323.7 497.6 324.1 497.6 324.5 497.6 324.9 497.6 325.3 497.6 325.7 497.6 326.1 497.6 326.5 497.6 326.9 497.6 327.3 497.6 327.7 497.6" fill="none" stroke="#1a961a" stroke-width="1.8" stroke-linejoin="round"/>
<path d="M64.2 469.8a1.45 1.45 0 1 0 2.9 0a1.45 1.45 0 1 0 -2.9 0M63.8 474.2a1.45 1.45 0 1 0 2.9 0a1.45 1.45 0 1 0 -2.9 0M63.6 477.8a1.45 1.45 0 1 0 2.9 0a1.45 1.45 0 1 0 -2.9 0M63.4 481a1.45 1.45 0 1 0 2.9 0a1.45 1.45 0 1 0 -2.9 0M63.3 484.2a1.45 1.45 0 1 0 2.9 0a1.45 1.45 0 1 0 -2.9 0M63.1 487.6a1.45 1.45 0 1 0 2.9 0a1.45 1.45 0 1 0 -2.9 0M62.9 490.3a1.45 1.45 0 1 0 2.9 0a1.45 1.45 0 1 0 -2.9 0M65.6 490a1.45 1.45 0 1 0 2.9 0a1.45 1.45 0 1 0 -2.9 0M82.6 480.5a1.45 1.45 0 1 0 2.9 0a1.45 1.45 0 1 0 -2.9 0M82.1 483.7a1.45 1.45 0 1 0 2.9 0a1.45 1.45 0 1 0 -2.9 0M81.9 487.2a1.45 1.45 0 1 0 2.9 0a1.45 1.45 0 1 0 -2.9 0M81.6 490.3a1.45 1.45 0 1 0 2.9 0a1.45 1.45 0 1 0 -2.9 0M83.8 492.1a1.45 1.45 0 1 0 2.9 0a1.45 1.45 0 1 0 -2.9 0M102.3 447a1.45 1.45 0 1 0 2.9 0a1.45 1.45 0 1 0 -2.9 0M102 454.5a1.45 1.45 0 1 0 2.9 0a1.45 1.45 0 1 0 -2.9 0M101.9 460.8a1.45 1.45 0 1 0 2.9 0a1.45 1.45 0 1 0 -2.9 0M101.8 467.8a1.45 1.45 0 1 0 2.9 0a1.45 1.45 0 1 0 -2.9 0M101.7 473.8a1.45 1.45 0 1 0 2.9 0a1.45 1.45 0 1 0 -2.9 0M101.6 480a1.45 1.45 0 1 0 2.9 0a1.45 1.45 0 1 0 -2.9 0M101.4 484.4a1.45 1.45 0 1 0 2.9 0a1.45 1.45 0 1 0 -2.9 0M101.4 487.3a1.45 1.45 0 1 0 2.9 0a1.45 1.45 0 1 0 -2.9 0M101.2 490.7a1.45 1.45 0 1 0 2.9 0a1.45 1.45 0 1 0 -2.9 0M101 493.4a1.45 1.45 0 1 0 2.9 0a1.45 1.45 0 1 0 -2.9 0M103.6 492.7a1.45 1.45 0 1 0 2.9 0a1.45 1.45 0 1 0 -2.9 0M104.5 320.5a1.45 1.45 0 1 0 2.9 0a1.45 1.45 0 1 0 -2.9 0M104.2 347.2a1.45 1.45 0 1 0 2.9 0a1.45 1.45 0 1 0 -2.9 0M104.1 368.8a1.45 1.45 0 1 0 2.9 0a1.45 1.45 0 1 0 -2.9 0M104 383.9a1.45 1.45 0 1 0 2.9 0a1.45 1.45 0 1 0 -2.9 0M104 400.4a1.45 1.45 0 1 0 2.9 0a1.45 1.45 0 1 0 -2.9 0M103.9 415a1.45 1.45 0 1 0 2.9 0a1.45 1.45 0 1 0 -2.9 0M103.8 429.6a1.45 1.45 0 1 0 2.9 0a1.45 1.45 0 1 0 -2.9 0M105.6 470.4a1.45 1.45 0 1 0 2.9 0a1.45 1.45 0 1 0 -2.9 0M105.7 476.9a1.45 1.45 0 1 0 2.9 0a1.45 1.45 0 1 0 -2.9 0M105.8 481.9a1.45 1.45 0 1 0 2.9 0a1.45 1.45 0 1 0 -2.9 0M105.9 485.4a1.45 1.45 0 1 0 2.9 0a1.45 1.45 0 1 0 -2.9 0M105.9 488.7a1.45 1.45 0 1 0 2.9 0a1.45 1.45 0 1 0 -2.9 0M106.2 493.3a1.45 1.45 0 1 0 2.9 0a1.45 1.45 0 1 0 -2.9 0M107.1 451.1a1.45 1.45 0 1 0 2.9 0a1.45 1.45 0 1 0 -2.9 0M106.8 458.5a1.45 1.45 0 1 0 2.9 0a1.45 1.45 0 1 0 -2.9 0M106.7 463.4a1.45 1.45 0 1 0 2.9 0a1.45 1.45 0 1 0 -2.9 0M108.2 490.2a1.45 1.45 0 1 0 2.9 0a1.45 1.45 0 1 0 -2.9 0M122.8 486.3a1.45 1.45 0 1 0 2.9 0a1.45 1.45 0 1 0 -2.9 0M122.1 489.2a1.45 1.45 0 1 0 2.9 0a1.45 1.45 0 1 0 -2.9 0M121.7 492a1.45 1.45 0 1 0 2.9 0a1.45 1.45 0 1 0 -2.9 0M133.1 490.3a1.45 1.45 0 1 0 2.9 0a1.45 1.45 0 1 0 -2.9 0M132.3 493a1.45 1.45 0 1 0 2.9 0a1.45 1.45 0 1 0 -2.9 0M148.5 447.4a1.45 1.45 0 1 0 2.9 0a1.45 1.45 0 1 0 -2.9 0M148.1 453.8a1.45 1.45 0 1 0 2.9 0a1.45 1.45 0 1 0 -2.9 0M148 459.4a1.45 1.45 0 1 0 2.9 0a1.45 1.45 0 1 0 -2.9 0M147.8 464.4a1.45 1.45 0 1 0 2.9 0a1.45 1.45 0 1 0 -2.9 0M147.7 469.4a1.45 1.45 0 1 0 2.9 0a1.45 1.45 0 1 0 -2.9 0M147.6 475.3a1.45 1.45 0 1 0 2.9 0a1.45 1.45 0 1 0 -2.9 0M147.5 479.4a1.45 1.45 0 1 0 2.9 0a1.45 1.45 0 1 0 -2.9 0M147.4 483.3a1.45 1.45 0 1 0 2.9 0a1.45 1.45 0 1 0 -2.9 0M147.2 486.3a1.45 1.45 0 1 0 2.9 0a1.45 1.45 0 1 0 -2.9 0M147.1 489.6a1.45 1.45 0 1 0 2.9 0a1.45 1.45 0 1 0 -2.9 0M146.9 492.9a1.45 1.45 0 1 0 2.9 0a1.45 1.45 0 1 0 -2.9 0M149.8 490.7a1.45 1.45 0 1 0 2.9 0a1.45 1.45 0 1 0 -2.9 0M150 493.5a1.45 1.45 0 1 0 2.9 0a1.45 1.45 0 1 0 -2.9 0M153.2 487.5a1.45 1.45 0 1 0 2.9 0a1.45 1.45 0 1 0 -2.9 0M152.2 491.9a1.45 1.45 0 1 0 2.9 0a1.45 1.45 0 1 0 -2.9 0M154.3 493.9a1.45 1.45 0 1 0 2.9 0a1.45 1.45 0 1 0 -2.9 0M168.5 485.5a1.45 1.45 0 1 0 2.9 0a1.45 1.45 0 1 0 -2.9 0M167.8 488.5a1.45 1.45 0 1 0 2.9 0a1.45 1.45 0 1 0 -2.9 0M167.4 492a1.45 1.45 0 1 0 2.9 0a1.45 1.45 0 1 0 -2.9 0M169.7 493.3a1.45 1.45 0 1 0 2.9 0a1.45 1.45 0 1 0 -2.9 0M181.4 479.5a1.45 1.45 0 1 0 2.9 0a1.45 1.45 0 1 0 -2.9 0M180.9 483.1a1.45 1.45 0 1 0 2.9 0a1.45 1.45 0 1 0 -2.9 0M180.5 486.2a1.45 1.45 0 1 0 2.9 0a1.45 1.45 0 1 0 -2.9 0M180.3 489.6a1.45 1.45 0 1 0 2.9 0a1.45 1.45 0 1 0 -2.9 0M179.9 492.9a1.45 1.45 0 1 0 2.9 0a1.45 1.45 0 1 0 -2.9 0M182.6 491.1a1.45 1.45 0 1 0 2.9 0a1.45 1.45 0 1 0 -2.9 0M182.8 493.8a1.45 1.45 0 1 0 2.9 0a1.45 1.45 0 1 0 -2.9 0M185.9 469.5a1.45 1.45 0 1 0 2.9 0a1.45 1.45 0 1 0 -2.9 0M185.4 473.9a1.45 1.45 0 1 0 2.9 0a1.45 1.45 0 1 0 -2.9 0M185.2 477.7a1.45 1.45 0 1 0 2.9 0a1.45 1.45 0 1 0 -2.9 0M185 481.4a1.45 1.45 0 1 0 2.9 0a1.45 1.45 0 1 0 -2.9 0M184.8 484.6a1.45 1.45 0 1 0 2.9 0a1.45 1.45 0 1 0 -2.9 0M184.6 487.9a1.45 1.45 0 1 0 2.9 0a1.45 1.45 0 1 0 -2.9 0M187.2 489.2a1.45 1.45 0 1 0 2.9 0a1.45 1.45 0 1 0 -2.9 0M187.4 492.1a1.45 1.45 0 1 0 2.9 0a1.45 1.45 0 1 0 -2.9 0M214.1 484.6a1.45 1.45 0 1 0 2.9 0a1.45 1.45 0 1 0 -2.9 0M213.4 487.6a1.45 1.45 0 1 0 2.9 0a1.45 1.45 0 1 0 -2.9 0M213 491.1a1.45 1.45 0 1 0 2.9 0a1.45 1.45 0 1 0 -2.9 0M212.6 493.7a1.45 1.45 0 1 0 2.9 0a1.45 1.45 0 1 0 -2.9 0M215.4 493.4a1.45 1.45 0 1 0 2.9 0a1.45 1.45 0 1 0 -2.9 0M243.2 484.6a1.45 1.45 0 1 0 2.9 0a1.45 1.45 0 1 0 -2.9 0M242.6 487.7a1.45 1.45 0 1 0 2.9 0a1.45 1.45 0 1 0 -2.9 0M242.2 490.6a1.45 1.45 0 1 0 2.9 0a1.45 1.45 0 1 0 -2.9 0M241.9 493.2a1.45 1.45 0 1 0 2.9 0a1.45 1.45 0 1 0 -2.9 0M244.5 492.5a1.45 1.45 0 1 0 2.9 0a1.45 1.45 0 1 0 -2.9 0M300.6 491.6a1.45 1.45 0 1 0 2.9 0a1.45 1.45 0 1 0 -2.9 0M299.4 493.9a1.45 1.45 0 1 0 2.9 0a1.45 1.45 0 1 0 -2.9 0" fill="none" stroke="#6c6cff" stroke-width="0.8"/>
<path d="M37.3 493.4 39.7 493.7 42.1 494 44.5 494.2 46.9 494.4 49.3 494.6 51.7 494.8 54.1 495 56.5 495.2 58.9 495.4 61.3 495.5 62.5 495.6 63.1 495.6 63.7 495.6 64.3 495.7 64.9 495.7 65.5 495.7 66.1 495.8 66.7 495.8 67.3 495.8 67.9 495.9 68.5 495.9 69.1 495.9 70.9 496 73.3 496.1 75.7 496.2 77.7 496.3 80.1 496.4 81 496.4 81.6 496.4 82.2 496.4 82.8 496.5 83.4 496.5 84 496.5 84.6 496.5 85.2 496.5 85.8 496.6 86.4 496.6 87 496.6 87.6 496.6 89.7 496.7 92.1 496.7 94.5 496.8 96.9 496.8 99.3 496.9 101.4 496.9 102 496.9 102.6 497 103.2 497 103.8 497 104.4 497 105 497 105.6 497 106.2 497 106.8 497 107.4 497 108 497 108.6 497.1 109.2 497.1 109.8 497.1 110.4 497.1 111 497.1 112.9 497.1 114.9 497.1 117.3 497.2 119.3 497.2 121.7 497.2 124.1 497.3 126.1 497.3 128.5 497.3 130.9 497.3 133.3 497.3 135.7 497.3 138.1 497.4 140.5 497.4 142.9 497.4 145.3 497.4 146.9 497.4 147.5 497.4 148.1 497.4 148.7 497.4 149.3 497.4 149.9 497.4 150.5 497.4 151.1 497.4 151.7 497.4 152.3 497.4 152.9 497.4 154.5 497.5 156.1 497.5 158.1 497.5 160.1 497.5 162.1 497.5 164.5 497.5 166 497.5 166.6 497.5 167.2 497.5 167.7 497.5 168.3 497.5 168.9 497.5 169.4 497.5 170 497.5 170.6 497.5 171.2 497.5 171.8 497.5 172.4 497.5 173 497.5 173.5 497.5 174.5 497.5 176.5 497.5 178.8 497.5 179.4 497.5 180 497.5 180.5 497.5 181.1 497.5 181.7 497.5 182.3 497.5 182.9 497.5 183.5 497.5 184.1 497.5 184.7 497.5 185.3 497.5 185.9 497.5 186.5 497.5 187.1 497.5 187.7 497.5 188.3 497.5 188.9 497.5 189.5 497.5 190.1 497.5 190.7 497.5 191.2 497.5 192.5 497.6 194.9 497.6 197.3 497.6 198.9 497.6 201.3 497.6 203.7 497.6 206.1 497.6 208.5 497.6 210.9 497.6 211.6 497.6 212.1 497.6 212.7 497.6 213.3 497.6 213.8 497.6 214.4 497.6 215 497.6 215.6 497.6 216.2 497.6 216.8 497.6 217.4 497.6 218 497.6 218.6 497.6 219.2 497.6 219.8 497.6 221.7 497.6 224.1 497.6 226.5 497.6 228.5 497.6 230.9 497.6 232.9 497.6 235.3 497.6 237.7 497.6 240.1 497.6 240.8 497.6 241.4 497.6 242 497.6 242.6 497.6 243.2 497.6 243.8 497.6 244.4 497.6 245 497.6 245.6 497.6 246.2 497.6 246.8 497.6 247.4 497.6 248 497.6 248.6 497.6 249.3 497.6 251.7 497.6 254.1 497.6 256.1 497.6 258.5 497.6 260.9 497.6 262.9 497.6 264.5 497.6 265.7 497.6 268.1 497.6 270.5 497.6 272.9 497.6 275.3 497.6 277.7 497.6 279.3 497.6 281.7 497.6 284.1 497.6 285.9 497.6 288.1 497.6 290.1 497.6 292.5 497.6 294.5 497.6 296.5 497.6 298.9 497.6 301.3 497.6 302.9 497.6 305.3 497.6 307.7 497.6 310 497.6 312.1 497.6 314.1 497.6 316.1 497.6 318.5 497.6 320.9 497.6 323.3 497.6 325.7 497.6" fill="none" stroke="#e8102c" stroke-width="1.6"/>
<path d="M37.3 510.3 37.7 510.5 38.1 510.6 38.5 510.8 38.9 510.8 39.3 510.6 39.7 510.7 40.1 510.8 40.5 510.8 40.9 510.8 41.3 510.5 41.7 510.7 42.1 510.8 42.5 510.7 42.9 510.4 43.3 510 43.7 510.2 44.1 510.3 44.5 510.2 44.9 510.2 45.3 510.6 45.7 510.8 46.1 510.9 46.5 510.7 46.9 510.9 47.3 510.8 47.7 510.8 48.1 510.6 48.5 510.6 48.9 510.6 49.3 510.7 49.7 510.3 50.1 510.2 50.5 510.2 50.9 509.8 51.3 510 51.7 509.8 52.1 509.9 52.5 510.2 52.9 510.2 53.3 510.2 53.7 510.5 54.1 510.4 54.5 510.6 54.9 510.4 55.3 510.3 55.7 510.6 56.1 510.7 56.5 510.6 56.9 510.5 57.3 510.3 57.7 510.6 58.1 510.6 58.5 510.5 58.9 510.5 59.3 510.4 59.7 510.5 60.1 510.3 60.5 510.4 60.9 510.9 61.3 510.7 61.7 510.9 62.1 510.9 62.2 510.8 62.3 510.7 62.4 510.2 62.5 510 62.6 510.1 62.7 509.8 62.8 509.8 62.9 510.1 63 510.4 63.1 510.7 63.2 510.6 63.3 510.6 63.4 511.1 63.5 511 63.6 510.9 63.7 510.7 63.8 510.6 63.9 510.4 64 510.2 64.1 509.8 64.2 510.1 64.3 510 64.4 509.9 64.5 509.9 64.6 509.8 64.7 509.5 64.8 509.1 64.9 508.8 65 508.4 65.1 507.7 65.2 507.2 65.3 506.9 65.4 506.7 65.5 506.8 65.6 506.9 65.7 507.3 65.8 508.1 65.9 509 66 510.2 66.1 511.4 66.2 512.2 66.3 512.8 66.4 513.3 66.5 513.8 66.6 513.8 66.7 513.5 66.8 513.4 66.9 513.2 67 512.9 67.1 512.5 67.2 512 67.3 511.5 67.4 511.1 67.5 510.5 67.6 510.3 67.7 510.1 67.8 510.3 67.9 510.2 68 510.4 68.1 510.2 68.2 510.6 68.3 510.6 68.4 510.8 68.5 510.8 68.6 510.8 68.7 510.9 68.8 511 68.9 511.1 69 510.9 69.1 510.7 69.2 510.6 69.3 510.6 69.7 510.5 70.1 510.4 70.5 510.2 70.9 510.1 71.3 510.3 71.7 510.3 72.1 510.2 72.5 510.2 72.9 510.3 73.3 510.2 73.7 510.3 74.1 510.4 74.5 510.5 74.9 510.4 75.3 510.3 75.7 510.2 75.9 510.1 76.1 510.3 76.5 509.9 76.9 509.6 77.3 509.8 77.7 509.8 78.1 509.9 78.5 510.1 78.9 510 79.3 510.1 79.7 510.3 80.1 510.3 80.5 510.1 80.6 510.2 80.7 510.1 80.8 510.3 80.9 510.4 81 510.3 81.1 510.2 81.2 510.4 81.3 510.3 81.4 510.2 81.5 510.1 81.6 510.1 81.7 510.1 81.8 510.4 81.9 510.4 82 510.4 82.1 510.5 82.2 510.3 82.3 510.4 82.4 510.8 82.5 510.4 82.6 510.5 82.7 510.6 82.8 510.8 82.9 510.9 83 511 83.1 510.6 83.2 510.8 83.3 510.7 83.4 510.7 83.5 510.6 83.6 510.8 83.7 510.5 83.8 510.7 83.9 510.7 84 510.8 84.1 510.9 84.2 510.8 84.3 510.4 84.4 510.6 84.5 510.5 84.6 510.5 84.7 510.3 84.8 510.2 84.9 510.3 85 510.7 85.1 510.5 85.2 510.5 85.3 510.5 85.4 510.6 85.5 510.5 85.6 510.3 85.7 510.1 85.8 509.9 85.9 509.9 86 510 86.1 510.1 86.2 510.2 86.3 510.1 86.4 510.1 86.5 510.5 86.6 510.8 86.7 510.9 86.8 510.7 86.9 510.5 87 510.6 87.1 510.7 87.2 510.6 87.3 510.3 87.4 510.1 87.5 510 87.6 510.2 87.7 510.4 88.1 510.6 88.5 510.4 88.9 510.5 89.3 510.5 89.7 510.6 90.1 510.4 90.5 510.3 90.9 510.1 91.3 510 91.7 510 92.1 510.2 92.5 510.4 92.9 510.5 93.3 510.5 93.7 510.5 94.1 510.5 94.5 510.5 94.9 510.5 95.3 510.6 95.7 510.6 96.1 510.6 96.5 510.6 96.9 510.6 97.3 510.7 97.7 510.8 98.1 510.2 98.5 510.1 98.9 510.4 99.3 510.4 99.7 510.4 100.1 510.3 100.5 510.2 100.9 510.5 101.3 510.6 101.4 510.3 101.5 510.4 101.6 510.4 101.7 510.5 101.8 510.6 101.9 510.6 102 510.6 102.1 510.9 102.2 510.8 102.3 510.9 102.4 510.9 102.5 510.6 102.6 510.9 102.7 510.9 102.8 510.7 102.9 510.7 103 510.8 103.1 510.7 103.2 511 103.3 510.8 103.4 511 103.5 510.9 103.6 510.7 103.7 510.8 103.8 510.8 103.9 510.7 104 510.5 104.1 509.9 104.2 509.6 104.3 509.2 104.4 508.4 104.5 507.2 104.6 506.3 104.7 505.3 104.8 504.7 104.9 504.1 105 503.7 105.1 504 105.2 504.7 105.3 505.5 105.4 507.1 105.5 508.8 105.6 510.3 105.7 512.1 105.8 513.6 105.9 515 106 516.1 106.1 516.7 106.2 516.8 106.3 516.6 106.4 516.5 106.5 515.8 106.6 514.8 106.7 513.8 106.8 513.3 106.9 512.7 107 512.3 107.1 511.4 107.2 511.2 107.3 511 107.4 510.8 107.5 510.5 107.6 510.4 107.7 510.4 107.8 510.6 107.9 510.5 108 510.4 108.1 510.8 108.2 510.8 108.3 510.9 108.4 510.8 108.5 510.8 108.6 510.9 108.7 510.9 108.8 510.8 108.9 510.7 109 510.6 109.1 510.4 109.2 510.4 109.3 510.3 109.4 510.3 109.5 510.1 109.6 510.2 109.7 510.4 109.8 510.4 109.9 510.4 110 510.4 110.1 510.3 110.2 510.4 110.3 510.2 110.4 510 110.5 510.2 110.6 510 110.7 509.9 110.8 510 110.9 509.9 111 510.2 111.1 510 111.3 509.8 111.7 510.3 112.1 510.5 112.5 510.4 112.9 510.6 113.3 510.5 113.7 511 114.1 510.9 114.5 510.7 114.6 510.6 114.9 510.7 115.3 510.8 115.7 511 116.1 510.9 116.5 511.1 116.9 511 117.3 511 117.7 511.1 118 510.8 118.1 510.8 118.5 510.7 118.9 510.4 119.3 510.4 119.7 510.5 120.1 510.5 120.5 510.6 120.9 510.2 121.3 510.2 121.7 510.2 122.1 510.4 122.5 510.3 122.9 510.2 123.3 510.2 123.7 510.4 124.1 510.4 124.2 510.5 124.5 510.4 124.9 510.4 125.3 510.7 125.7 510.6 126.1 510.4 126.5 510.4 126.9 510.4 127.3 510.4 127.7 510.2 128.1 509.9 128.5 510.1 128.9 510.2 129.3 510.2 129.7 510.4 130.1 510.3 130.5 510.3 130.9 510.7 131.3 510.6 131.7 510.6 132.1 510.5 132.5 510.5 132.9 510.7 133.3 510.9 133.7 510.7 134.1 510.9 134.5 511.3 134.9 511.6 135.3 511.4 135.7 511.3 136.1 511.3 136.5 511.5 136.9 511.3 137.3 511 137.7 510.9 138.1 510.7 138.5 510.7 138.9 510.8 139.3 510.5 139.7 510.5 140.1 510.7 140.5 510.5 140.9 510.6 141.3 510.8 141.7 510.5 142.1 510.5 142.5 510.4 142.9 510.5 143.3 510.7 143.7 510.7 144.1 510.5 144.5 510.7 144.9 511.2 145.3 511.2 145.7 511.2 146.1 511.2 146.5 511.2 146.7 511.3 146.8 511.3 146.9 511 147 511.3 147.1 511.2 147.2 511 147.3 511.1 147.4 511 147.5 510.9 147.6 510.8 147.7 510.5 147.8 510.5 147.9 510.7 148 510.6 148.1 510.6 148.2 510.5 148.3 510.4 148.4 510.3 148.5 510.2 148.6 509.8 148.7 509.5 148.8 509.2 148.9 509.1 149 509.1 149.1 509.2 149.2 508.7 149.3 508.6 149.4 508.3 149.5 508.3 149.6 508.1 149.7 507.7 149.8 507.3 149.9 507.7 150 508.1 150.1 508.4 150.2 509.1 150.3 509.7 150.4 510.5 150.5 511.4 150.6 511.8 150.7 512.5 150.8 513.2 150.9 513 151 513.3 151.1 513.2 151.2 513 151.3 512.9 151.4 512.5 151.5 512.1 151.6 511.9 151.7 511.5 151.8 511.3 151.9 511.2 152 510.9 152.1 510.7 152.2 510.8 152.3 510.7 152.4 510.6 152.5 510.6 152.6 510.4 152.7 510.4 152.8 510.4 152.9 510.3 153 510.3 153.1 510.4 153.3 510.5 153.7 510.7 154.1 510.8 154.5 510.7 154.6 510.8 154.9 511 155.3 511 155.7 510.9 155.7 510.9 156.1 510.9 156.5 511.1 156.9 511 157.3 511.1 157.4 511.2 157.7 511.3 158.1 511.3 158.5 511.3 158.9 511.2 159.3 511 159.7 510.7 160 510.6 160.1 510.3 160.5 510.3 160.9 510.4 160.9 510.6 161.3 510.8 161.7 510.9 162.1 511 162.5 511 162.9 510.7 163.3 510.6 163.7 510.5 164.1 510.2 164.5 510.2 164.9 509.9 165.1 509.9 165.3 510.1 165.7 510 165.9 510.2 166 510.4 166.1 510.3 166.2 510.2 166.3 510.4 166.4 510.4 166.5 510.6 166.6 510.1 166.7 510.3 166.8 510.2 166.9 510.4 167 510.4 167.1 510.3 167.2 510.3 167.3 510.3 167.4 510.2 167.4 510.2 167.5 510.3 167.6 510.2 167.7 510.1 167.8 510.4 167.9 510.6 168 510.5 168.1 510.4 168.2 510.1 168.3 510.1 168.4 510.4 168.5 510 168.6 509.9 168.7 510 168.8 510.4 168.9 510.6 169 510.8 169.1 510.5 169.2 510.7 169.3 510.8 169.3 511 169.4 510.6 169.5 510.6 169.6 510.6 169.7 510.8 169.8 510.9 169.9 510.8 170 511 170.1 511.1 170.2 511.1 170.3 510.9 170.4 510.9 170.5 510.7 170.6 510.7 170.7 510.3 170.8 510.5 170.9 510.5 171 510.6 171.1 510.8 171.2 510.8 171.3 510.6 171.4 510.8 171.5 510.9 171.6 510.7 171.7 510.7 171.8 510.3 171.9 510.1 172 510.3 172.1 509.9 172.2 509.5 172.3 509.7 172.4 510 172.5 510.2 172.6 510.2 172.7 510.3 172.8 510.5 172.9 510.6 173 510.6 173.1 510.4 173.2 510.4 173.3 510.6 173.4 510.4 173.4 510.6 173.5 510.7 173.6 510.4 173.7 510.1 173.8 510.3 173.9 510 174.1 510.3 174.5 510 174.9 510 175 510.1 175.3 510 175.7 509.8 176.1 510 176.5 509.9 176.9 510 177.3 510.2 177.7 510.2 178.1 510.5 178.5 510.6 178.8 510.4 178.9 510.3 179 510.6 179.1 510.6 179.2 510.7 179.3 510.7 179.4 510.9 179.5 511.2 179.6 511.4 179.7 511.1 179.8 511.3 179.9 511.1 180 511.3 180 511.4 180.1 511.3 180.2 511 180.3 510.8 180.4 510.5 180.5 510.6 180.6 510.4 180.7 510 180.8 510 180.9 510.5 181 510.6 181.1 510.5 181.2 510.7 181.3 510.8 181.4 511 181.5 511 181.6 510.8 181.7 510.9 181.8 511 181.9 510.7 182 510.7 182.1 510.6 182.2 510.7 182.3 510.4 182.4 510.3 182.5 510.1 182.6 510.4 182.7 510.5 182.8 510.6 182.9 510.5 183 510.7 183.1 510.8 183.2 511 183.3 511.1 183.4 510.9 183.5 510.9 183.6 510.9 183.7 510.9 183.8 510.9 183.9 510.7 184 510.3 184.1 510.4 184.2 510.5 184.3 510.4 184.4 510.4 184.5 510.3 184.6 510.7 184.7 510.6 184.8 510.9 184.9 510.8 185 510.9 185.1 510.9 185.2 511.1 185.3 510.8 185.4 510.8 185.5 510.4 185.6 510.4 185.7 510.6 185.8 510.7 185.9 510.5 186 510.7 186.1 510.7 186.2 510.7 186.3 510.6 186.4 510 186.5 509.7 186.6 509.8 186.7 509.2 186.8 509.1 186.9 509 187 508.9 187.1 509.2 187.2 509.5 187.3 509.5 187.4 510.1 187.5 510.5 187.6 510.8 187.7 511.1 187.8 511.4 187.9 511.7 188 511.9 188.1 512 188.2 512 188.3 512 188.4 511.9 188.5 511.7 188.6 511.3 188.7 510.8 188.8 510.7 188.9 510.7 189 510.6 189.1 510.5 189.2 510.5 189.3 510.5 189.4 510.7 189.5 510.6 189.6 510.3 189.7 510.2 189.8 510.2 189.9 510.5 190 510.5 190.1 510.5 190.2 510.7 190.3 511 190.4 511 190.5 510.8 190.6 510.8 190.7 510.7 190.8 510.7 190.8 510.3 190.9 510.1 191 509.9 191.1 510.1 191.2 510.1 191.3 510.3 191.4 510.3 191.7 510.4 192.1 510.6 192.2 510.5 192.5 510.3 192.9 510.2 193.3 510.4 193.7 510.5 194.1 510.5 194.5 510.3 194.9 510.5 195.3 510.7 195.7 510.7 196.1 510.5 196.5 510.4 196.9 510.7 197.3 510.9 197.4 511.1 197.7 510.8 198 510.8 198.1 510.8 198.5 510.9 198.9 510.5 199.3 510.4 199.7 510.4 200.1 510.5 200.5 510.4 200.9 510.4 201.3 510.4 201.7 510.4 202.1 510.3 202.5 510.2 202.9 510.3 203.3 510.3 203.7 510.2 204.1 510 204.5 510.1 204.9 510.4 205.3 510.3 205.7 510.1 206.1 510.3 206.5 510.4 206.9 510.7 207.3 510.7 207.7 510.6 208.1 510.4 208.5 510.8 208.9 510.8 209.3 510.3 209.7 510.1 210.1 510.2 210.5 510.1 210.9 510.3 211.1 510 211.2 509.8 211.3 509.9 211.4 510 211.5 509.8 211.6 510.1 211.6 510 211.7 510.2 211.8 510.6 211.9 511.1 212 510.9 212.1 510.9 212.2 510.7 212.3 510.7 212.4 510.6 212.5 510.6 212.6 510.3 212.7 510.6 212.8 510.6 212.9 510.5 213 510.6 213.1 510.6 213.2 510.1 213.3 510.3 213.4 510.2 213.5 510.3 213.6 510.4 213.7 510.3 213.8 510.3 213.8 510.7 213.9 510.5 214 510.7 214.1 510.6 214.2 510.8 214.3 510.8 214.4 510.5 214.5 510.2 214.6 510.1 214.7 510 214.8 510 214.9 510 215 509.6 215.1 509.6 215.2 509.4 215.3 509.5 215.4 509.5 215.5 509.4 215.6 509.3 215.7 509.7 215.8 510.1 215.9 510.4 216 510.4 216.1 510.8 216.2 510.8 216.3 511 216.4 511.2 216.5 511.3 216.6 511.4 216.7 511.8 216.8 511.8 216.9 511.8 217 511.6 217.1 511.6 217.2 511.6 217.3 511.4 217.4 511.3 217.5 511 217.6 511.2 217.7 511.4 217.8 511.2 217.9 511 218 511.2 218.1 511 218.2 510.8 218.3 510.8 218.4 510.9 218.5 510.6 218.6 510.7 218.7 510.5 218.8 510.6 218.9 510.8 219 510.9 219.1 510.6 219.2 510.6 219.3 510.4 219.4 510.4 219.5 510.4 219.6 510.5 219.7 510.2 219.8 510.3 219.9 510.5 220.1 510.7 220.5 510.9 220.9 510.8 221.3 510.6 221.7 510.7 222.1 510.6 222.5 510.6 222.9 510.4 223.3 510.4 223.7 510.3 224.1 510.4 224.5 510.2 224.9 510.5 225.3 510.7 225.7 510.8 226.1 510.5 226.5 510.8 226.9 510.6 227.3 510.8 227.7 510.8 228 510.6 228.1 510.4 228.5 510.4 228.9 510.3 229.3 510 229.7 510 230.1 509.5 230.5 509.5 230.9 509.6 231.3 510 231.4 509.9 231.7 510.3 232.1 510.2 232.5 510.3 232.9 510.5 233.3 510.5 233.7 510.3 234.1 510.6 234.5 510.5 234.9 510.5 235.3 510.9 235.7 510.7 236.1 510.6 236.5 510.5 236.9 510.6 237.3 510.6 237.7 510.8 238.1 510.9 238.5 510.8 238.9 511 239.3 511 239.7 510.9 240.1 510.7 240.3 510.8 240.4 510.7 240.5 510.9 240.6 510.6 240.7 510.8 240.8 511 240.9 510.8 241 510.7 241.1 510.7 241.2 510.8 241.3 510.7 241.4 510.4 241.5 510.3 241.6 510.4 241.7 510.5 241.8 510.3 241.9 510.1 242 510.3 242.1 510.5 242.2 510.3 242.3 510.5 242.4 510.5 242.5 510.6 242.6 510.7 242.7 510.8 242.8 510.7 242.9 510.9 243 510.7 243.1 510.9 243.2 511 243.3 510.7 243.4 510.5 243.5 510.1 243.6 510 243.7 509.9 243.8 509.5 243.9 509.3 244 509.6 244.1 509.6 244.2 509.6 244.3 509.6 244.4 509.6 244.5 509.5 244.6 509.1 244.7 509.1 244.8 509.6 244.9 509.8 245 510 245.1 510.3 245.2 510.9 245.3 511.4 245.4 511.6 245.5 511.4 245.6 511.6 245.7 511.8 245.8 511.8 245.9 511.5 246 511.4 246.1 511.3 246.2 511.1 246.3 510.9 246.4 510.9 246.5 510.7 246.6 510.8 246.7 510.7 246.8 510.7 246.9 510.7 247 510.7 247.1 510.3 247.2 510.3 247.3 510.2 247.4 510.1 247.5 510 247.6 510.1 247.7 510.1 247.8 510.4 247.9 510.4 248 510.5 248.1 510.6 248.2 510.8 248.3 510.9 248.4 511 248.5 511 248.6 511.1 248.7 511 248.8 510.9 248.9 510.7 249 510.4 249.1 510.2 249.3 510.2 249.7 510.2 250.1 510.3 250.5 510.4 250.9 510.5 251.3 510.8 251.7 510.9 252.1 511 252.5 510.7 252.9 510.8 253.3 510.6 253.7 510.6 254.1 510.6 254.5 510.6 254.9 510.5 255.3 510.3 255.3 510 255.7 510.1 256.1 510.1 256.5 510.2 256.9 510.1 257.3 510.3 257.7 510.5 258.1 510.7 258.5 510.8 258.9 511.1 259.3 510.9 259.7 510.7 260.1 510.5 260.5 510.6 260.9 510.6 261.3 510.7 261.7 510.4 262 510.4 262.1 510.7 262.5 511.1 262.9 511 263.3 510.9 263.7 510.9 263.9 511.1 264.1 510.8 264.2 510.8 264.5 510.4 264.7 510.5 264.9 510.7 265 510.7 265.3 510.6 265.4 510.8 265.7 510.7 266.1 510.5 266.5 510.4 266.9 510.1 267.3 509.8 267.7 510 268.1 509.8 268.5 509.8 268.9 509.9 269.3 509.7 269.7 510 270.1 510.2 270.5 509.9 270.9 510.1 271.3 510.2 271.7 510.3 272.1 510.3 272.5 510.3 272.9 510.1 273.3 510.3 273.7 510.2 274.1 510.3 274.5 510.1 274.9 510.3 275.3 510.3 275.7 510.5 276.1 510.7 276.5 510.7 276.9 510.5 277.3 510.8 277.7 510.9 278.1 510.8 278.5 510.6 278.5 510.4 278.8 510.5 278.9 510.7 279.3 510.7 279.7 510.5 280.1 510.8 280.5 510.8 280.9 510.7 281.3 510.6 281.7 510.8 282.1 510.7 282.5 510.6 282.9 510.6 283.3 510.7 283.7 510.8 284.1 510.9 284.5 510.6 284.9 510.5 285.3 510.9 285.7 510.7 285.9 510.7 285.9 510.8 286.1 510.8 286.5 511 286.9 510.7 287.3 510.5 287.7 510.7 288.1 510.7 288.5 510.7 288.9 510.6 289.3 510.4 289.7 510.4 290 510.5 290.1 510.6 290.5 510.7 290.9 510.6 291.3 510.9 291.7 510.9 292.1 511 292.5 511.1 292.9 510.9 293.3 510.6 293.6 510.4 293.7 510.4 294.1 510.4 294.5 510.2 294.9 510.1 295.3 509.8 295.7 509.8 296.1 510 296.4 509.8 296.5 509.6 296.9 509.6 297.3 509.4 297.7 509.8 298.1 509.6 298.5 509.5 298.9 509.8 299.3 510.1 299.7 510.3 300.1 510.4 300.5 510.5 300.9 510.8 301.3 510.9 301.7 511.1 301.8 510.9 302 510.8 302.1 510.9 302.5 510.6 302.9 510.6 303.3 510.6 303.7 510.3 304.1 510.4 304.5 510.4 304.9 510.6 305.3 510.5 305.7 510.6 306.1 510.5 306.5 510.4 306.9 510.5 307.3 510.6 307.7 510.5 308.1 511 308.5 510.8 308.9 510.9 309.3 511 309.7 510.7 310 510.6 310.1 510.6 310.5 510.4 310.9 510.5 311.3 510.5 311.7 510.5 312.1 510.5 312.5 510.5 312.9 510.4 313.3 510.3 313.7 510.1 313.9 510.1 314.1 510.1 314.5 510.5 314.9 510.5 315.2 510.6 315.3 510.7 315.7 510.8 316.1 510.7 316.5 510.6 316.9 510.4 317.3 510.6 317.7 510.6 318.1 510.3 318.5 510.3 318.9 510.5 319.3 510.5 319.7 510.7 320.1 510.6 320.5 510.6 320.9 510.9 321.3 511.2 321.7 511 322.1 510.9 322.5 510.6 322.9 510.6 323.3 510.7 323.7 510.7 324.1 510.5 324.5 510.6 324.9 510.6 325.3 510.8 325.7 510.9 326.1 510.8 326.5 510.7 326.9 510.7 327.3 510.7 327.7 510.9" fill="none" stroke="#20b8b8" stroke-width="1.9" stroke-linejoin="round"/>
<path d="M64.8 518.8V525M66.2 518.8V525M75 518.8V525M83.8 518.8V525M91.1 518.8V525M104.3 518.8V525M105.7 518.8V525M107.2 518.8V525M118.9 518.8V525M121.8 518.8V525M124.7 518.8V525M126.2 518.8V525M130.7 518.8V525M134.7 518.8V525M138 518.8V525M140.2 518.8V525M149.7 518.8V525M153.4 518.8V525M158.5 518.8V525M160.7 518.8V525M162.9 518.8V525M165.1 518.8V525M167.3 518.8V525M169.5 518.8V525M173.9 518.8V525M174.9 518.8V525M175.5 518.8V525M179 518.8V525M182.3 518.8V525M182.5 518.8V525M184.3 518.8V525M186 518.8V525M186.1 518.8V525M188.3 518.8V525M188.9 518.8V525M190.4 518.8V525M191.8 518.8V525M191.9 518.8V525M193.3 518.8V525M194 518.8V525M195.5 518.8V525M196.1 518.8V525M197.7 518.8V525M201.4 518.8V525M202 518.8V525M203.5 518.8V525M205 518.8V525M205.4 518.8V525M206.9 518.8V525M207.6 518.8V525M209.4 518.8V525M210.1 518.8V525M210.9 518.8V525M214.9 518.8V525M215.2 518.8V525M216.7 518.8V525M217.4 518.8V525M220.3 518.8V525M221.8 518.8V525M222.5 518.8V525M224 518.8V525M224.6 518.8V525M225.7 518.8V525M226.2 518.8V525M227.6 518.8V525M227.8 518.8V525M229.3 518.8V525M229.8 518.8V525M230.4 518.8V525M232.3 518.8V525M232.4 518.8V525M233.3 518.8V525M234.9 518.8V525M235 518.8V525M236.6 518.8V525M237 518.8V525M237.6 518.8V525M239.3 518.8V525M239.6 518.8V525M240.6 518.8V525M241.8 518.8V525M242.2 518.8V525M243.4 518.8V525M244 518.8V525M244.9 518.8V525M246.4 518.8V525M246.5 518.8V525M247.8 518.8V525M248.7 518.8V525M249.3 518.8V525M250.8 518.8V525M251 518.8V525M252.4 518.8V525M253.6 518.8V525M254.2 518.8V525M255.5 518.8V525M256.6 518.8V525M256.7 518.8V525M258.1 518.8V525M259 518.8V525M259.5 518.8V525M261 518.8V525M261.3 518.8V525M263.7 518.8V525M263.8 518.8V525M268.1 518.8V525M268.5 518.8V525M271 518.8V525M272.5 518.8V525M273 518.8V525M274.1 518.8V525M275.7 518.8V525M277.3 518.8V525M278.3 518.8V525M279.7 518.8V525M281.5 518.8V525M282.9 518.8V525M284.4 518.8V525M285.6 518.8V525M287.2 518.8V525M288.5 518.8V525M293 518.8V525M294.3 518.8V525M296 518.8V525M297.2 518.8V525M301.6 518.8V525M303.2 518.8V525M304.4 518.8V525M306.2 518.8V525M307.5 518.8V525M308.8 518.8V525M310.2 518.8V525M314.8 518.8V525M316.2 518.8V525M317.8 518.8V525M319 518.8V525M320.5 518.8V525M322.2 518.8V525M323.3 518.8V525M325.2 518.8V525M326.6 518.8V525M328.1 518.8V525" stroke="#5858ff" stroke-width="1.45"/>
<path d="M142.4 385.9L120.8 413.3L142.3 436.5L164.2 408Z" fill="#e8c8ba"/>
<circle cx="129.5" cy="405.1" r="2.7" fill="#e89890"/>
<path d="M142.1 410.4L142.4 385.9M142.1 410.4L120.8 413.3M142.1 410.4L155 416.3M142.1 410.4L164.2 408M142.1 410.4L142.3 436.5M142.1 410.4L129.5 405.1" stroke="#d83030" stroke-width="1.8"/>
<circle cx="142.1" cy="410.4" r="6.2" fill="url(#gRuB)"/>
<path d="M142.4 385.9L120.8 413.3L155 416.3Z" fill="rgba(240,205,190,0.3)"/>
<path d="M142.4 385.9L155 416.3L164.2 408Z" fill="rgba(170,140,130,0.45)"/>
<path d="M142.3 436.5L120.8 413.3L155 416.3Z" fill="rgba(235,200,185,0.3)"/>
<path d="M142.3 436.5L155 416.3L164.2 408Z" fill="rgba(190,160,150,0.4)"/>
<path d="M142.4 385.9L155 416.3L142.3 436.5M120.8 413.3L155 416.3L164.2 408" stroke="#ffffff" stroke-opacity="0.35" stroke-width="0.6" fill="none"/>
<circle cx="142.4" cy="385.9" r="3.2" fill="url(#gO)"/>
<circle cx="120.8" cy="413.3" r="3.2" fill="url(#gO)"/>
<circle cx="155" cy="416.3" r="3.2" fill="url(#gO)"/>
<circle cx="164.2" cy="408" r="3.2" fill="url(#gO)"/>
<circle cx="142.3" cy="436.5" r="3.2" fill="url(#gO)"/>
<circle cx="149.5" cy="384.5" r="0.6" fill="#222"/>
<text x="151.8" y="388.8" font-size="9.5" text-anchor="start" >O</text>
<path d="M143 410L158.8 396.9" stroke="#222" stroke-width="0.8"/>
<text x="159" y="399.3" font-size="9.5" text-anchor="start" >Ru</text>
<path d="M151 413L161.3 415.6" stroke="#111" stroke-width="0.8"/>
<path d="M163.8 416.2L161 416.7L161.6 414.4Z" fill="#111"/>
<path d="M154 419L156.8 424.2" stroke="#111" stroke-width="0.8"/>
<path d="M158 426.5L155.7 424.8L157.8 423.6Z" fill="#111"/>
<path d="M143.8 431L151.9 434.9" stroke="#111" stroke-width="0.8"/>
<path d="M154.2 436L151.3 436L152.4 433.8Z" fill="#111"/>
<text x="163.6" y="420.8" font-size="9.5" text-anchor="start" >2.02 Å</text>
<text x="157.8" y="432.2" font-size="9.5" text-anchor="start" >1.99 Å</text>
<text x="154.2" y="442.1" font-size="9.5" text-anchor="start" >2.06 Å</text>
<path d="M232.9 318V394M258 310V394M284 314V394M226.5 330L284 320M226.5 386L284 376" stroke="#dedede" stroke-width="0.8" fill="none"/>
<path d="M242.5 313.8L230 329L243.5 341L256.5 325.2Z" fill="#b8b8b8" fill-opacity="0.85"/>
<path d="M242.5 313.8L230 329L236.5 335.5L243.5 341Z" fill="#9a9a9a" fill-opacity="0.6"/>
<path d="M242.5 313.8L256.5 325.2L251.5 318Z" fill="#d8d8d8" fill-opacity="0.8"/>
<path d="M242.5 313.8L230 329L243.5 341L256.5 325.2ZM251.5 318L236.5 335.5" fill="none" stroke="#e8e8e8" stroke-width="0.6"/>
<path d="M271.5 316.3L259 331.5L272.5 343.5L285.5 327.7Z" fill="#b8b8b8" fill-opacity="0.85"/>
<path d="M271.5 316.3L259 331.5L265.5 338L272.5 343.5Z" fill="#9a9a9a" fill-opacity="0.6"/>
<path d="M271.5 316.3L285.5 327.7L280.5 320.5Z" fill="#d8d8d8" fill-opacity="0.8"/>
<path d="M271.5 316.3L259 331.5L272.5 343.5L285.5 327.7ZM280.5 320.5L265.5 338" fill="none" stroke="#e8e8e8" stroke-width="0.6"/>
<path d="M246.2 340.8L233.7 356L247.2 368L260.2 352.2Z" fill="#b8b8b8" fill-opacity="0.85"/>
<path d="M246.2 340.8L233.7 356L240.2 362.5L247.2 368Z" fill="#9a9a9a" fill-opacity="0.6"/>
<path d="M246.2 340.8L260.2 352.2L255.2 345Z" fill="#d8d8d8" fill-opacity="0.8"/>
<path d="M246.2 340.8L233.7 356L247.2 368L260.2 352.2ZM255.2 345L240.2 362.5" fill="none" stroke="#e8e8e8" stroke-width="0.6"/>
<path d="M270.1 340.8L257.6 356L271.1 368L284.1 352.2Z" fill="#b8b8b8" fill-opacity="0.85"/>
<path d="M270.1 340.8L257.6 356L264.1 362.5L271.1 368Z" fill="#9a9a9a" fill-opacity="0.6"/>
<path d="M270.1 340.8L284.1 352.2L279.1 345Z" fill="#d8d8d8" fill-opacity="0.8"/>
<path d="M270.1 340.8L257.6 356L271.1 368L284.1 352.2ZM279.1 345L264.1 362.5" fill="none" stroke="#e8e8e8" stroke-width="0.6"/>
<path d="M241.4 363.8L228.9 379L242.4 391L255.4 375.2Z" fill="#b8b8b8" fill-opacity="0.85"/>
<path d="M241.4 363.8L228.9 379L235.4 385.5L242.4 391Z" fill="#9a9a9a" fill-opacity="0.6"/>
<path d="M241.4 363.8L255.4 375.2L250.4 368Z" fill="#d8d8d8" fill-opacity="0.8"/>
<path d="M241.4 363.8L228.9 379L242.4 391L255.4 375.2ZM250.4 368L235.4 385.5" fill="none" stroke="#e8e8e8" stroke-width="0.6"/>
<path d="M269.5 365.8L257 381L270.5 393L283.5 377.2Z" fill="#b8b8b8" fill-opacity="0.85"/>
<path d="M269.5 365.8L257 381L263.5 387.5L270.5 393Z" fill="#9a9a9a" fill-opacity="0.6"/>
<path d="M269.5 365.8L283.5 377.2L278.5 370Z" fill="#d8d8d8" fill-opacity="0.8"/>
<path d="M269.5 365.8L257 381L270.5 393L283.5 377.2ZM278.5 370L263.5 387.5" fill="none" stroke="#e8e8e8" stroke-width="0.6"/>
<circle cx="242.5" cy="327" r="4.3" fill="url(#gDk)"/>
<circle cx="271.5" cy="329.5" r="4.3" fill="url(#gDk)"/>
<circle cx="246.2" cy="354" r="4.3" fill="url(#gDk)"/>
<circle cx="241.4" cy="377" r="4.3" fill="url(#gDk)"/>
<circle cx="269.5" cy="379" r="4.3" fill="url(#gDk)"/>
<circle cx="247" cy="329.6" r="2.6" fill="#b88a8a" fill-opacity="0.7"/>
<circle cx="270" cy="354" r="3.4" fill="#9a8080" fill-opacity="0.6"/>
<circle cx="245.5" cy="378.5" r="2.6" fill="#b88a8a" fill-opacity="0.6"/>
<circle cx="258.3" cy="340.1" r="3.7" fill="url(#gCaB)"/>
<circle cx="262.7" cy="342.7" r="3.7" fill="url(#gCaG)"/>
<circle cx="251.5" cy="364.5" r="3.4" fill="url(#gCaB)"/>
<circle cx="255" cy="366.5" r="3.4" fill="url(#gCaG)"/>
<circle cx="242.5" cy="313.8" r="1.7" fill="#e81010"/>
<circle cx="243.5" cy="341" r="1.7" fill="#e81010"/>
<circle cx="230" cy="329" r="1.7" fill="#e81010"/>
<circle cx="256.5" cy="325.2" r="1.7" fill="#e81010"/>
<circle cx="251.5" cy="318" r="1.7" fill="#e81010"/>
<circle cx="236.5" cy="335.5" r="1.7" fill="#e81010"/>
<circle cx="271.5" cy="316.3" r="1.7" fill="#e81010"/>
<circle cx="272.5" cy="343.5" r="1.7" fill="#e81010"/>
<circle cx="259" cy="331.5" r="1.7" fill="#e81010"/>
<circle cx="285.5" cy="327.7" r="1.7" fill="#e81010"/>
<circle cx="280.5" cy="320.5" r="1.7" fill="#e81010"/>
<circle cx="265.5" cy="338" r="1.7" fill="#e81010"/>
<circle cx="246.2" cy="340.8" r="1.7" fill="#e81010"/>
<circle cx="247.2" cy="368" r="1.7" fill="#e81010"/>
<circle cx="233.7" cy="356" r="1.7" fill="#e81010"/>
<circle cx="260.2" cy="352.2" r="1.7" fill="#e81010"/>
<circle cx="255.2" cy="345" r="1.7" fill="#e81010"/>
<circle cx="240.2" cy="362.5" r="1.7" fill="#e81010"/>
<circle cx="270.1" cy="340.8" r="1.7" fill="#e81010"/>
<circle cx="271.1" cy="368" r="1.7" fill="#e81010"/>
<circle cx="257.6" cy="356" r="1.7" fill="#e81010"/>
<circle cx="284.1" cy="352.2" r="1.7" fill="#e81010"/>
<circle cx="279.1" cy="345" r="1.7" fill="#e81010"/>
<circle cx="264.1" cy="362.5" r="1.7" fill="#e81010"/>
<circle cx="241.4" cy="363.8" r="1.7" fill="#e81010"/>
<circle cx="242.4" cy="391" r="1.7" fill="#e81010"/>
<circle cx="228.9" cy="379" r="1.7" fill="#e81010"/>
<circle cx="255.4" cy="375.2" r="1.7" fill="#e81010"/>
<circle cx="250.4" cy="368" r="1.7" fill="#e81010"/>
<circle cx="235.4" cy="385.5" r="1.7" fill="#e81010"/>
<circle cx="269.5" cy="365.8" r="1.7" fill="#e81010"/>
<circle cx="270.5" cy="393" r="1.7" fill="#e81010"/>
<circle cx="257" cy="381" r="1.7" fill="#e81010"/>
<circle cx="283.5" cy="377.2" r="1.7" fill="#e81010"/>
<circle cx="278.5" cy="370" r="1.7" fill="#e81010"/>
<circle cx="263.5" cy="387.5" r="1.7" fill="#e81010"/>
<path d="M272.2 314.2L293.3 315" stroke="#111" stroke-width="1.3"/>
<path d="M298.8 315.2L293.2 317.3L293.4 312.7Z" fill="#111"/>
<path d="M274 330.5L302.5 331.9" stroke="#111" stroke-width="1.3"/>
<path d="M308 332.2L302.4 334.2L302.6 329.6Z" fill="#111"/>
<path d="M272.2 354.1L293.3 354.6" stroke="#111" stroke-width="1.3"/>
<path d="M298.8 354.7L293.2 356.9L293.4 352.3Z" fill="#111"/>
<path d="M256 365.6L290.2 369.5" stroke="#111" stroke-width="1.3"/>
<path d="M295.7 370.1L290 371.8L290.5 367.2Z" fill="#111"/>
<text x="299.8" y="320.4" font-size="10" text-anchor="start" >O</text>
<text x="309.2" y="336.8" font-size="10" text-anchor="start" >Ca</text>
<text x="299.4" y="359.3" font-size="10" text-anchor="start" >Ru</text>
<text x="296.9" y="374.3" font-size="10" text-anchor="start" >Ca/La</text>
<path d="M302.5 391L302.5 384.2" stroke="#1a1ae8" stroke-width="1.6"/>
<path d="M302.5 378.7L305.1 384.2L299.9 384.2Z" fill="#1a1ae8"/>
<path d="M302.5 391L298.8 391.6" stroke="#18b018" stroke-width="1.6"/>
<path d="M295.7 392L298.4 389L299.1 394.1Z" fill="#18b018"/>
<path d="M302.5 391L299.2 390.4" stroke="#e01818" stroke-width="1.6"/>
<path d="M296.5 390L299.6 387.9L298.8 393Z" fill="#e01818"/>
<circle cx="302.5" cy="391" r="1.3" fill="#fff" stroke="#888" stroke-width="0.6"/>
<circle cx="290.6" cy="390" r="0.7" fill="#222"/>
<rect x="230.5" y="408.9" width="92.1" height="72.1" fill="#fff" stroke="#8a8a8a" stroke-width="1"/>
<circle cx="244.1" cy="417.2" r="1.6" fill="none" stroke="#6a6aff" stroke-width="0.9"/>
<path d="M231.5 430.4H257" stroke="#1a9a1a" stroke-width="1.5"/>
<path d="M231.5 443.5H257" stroke="#30c8d0" stroke-width="2.1"/>
<path d="M231.5 457.3H257" stroke="#f03040" stroke-width="1.2"/>
<path d="M244.1 467.8v6" stroke="#6a6aff" stroke-width="1"/>
<text x="259.9" y="420.8" font-size="11">obs</text>
<text x="259.9" y="434" font-size="11">calc</text>
<text x="259.9" y="447.1" font-size="11">diff</text>
<text x="259.9" y="460.9" font-size="11">bkgd</text>
<text x="259.9" y="474.4" font-size="11">CLRO <tspan font-style="italic">P</tspan><tspan>2</tspan><tspan font-size="7.5" dy="2.5">1</tspan><tspan font-style="italic" dy="-2.5">/n</tspan></text>
<path d="M37 334.4h4M328 334.4h-4M37 389.3h4M328 389.3h-4M37 444.2h4M328 444.2h-4M37 499.2h4M328 499.2h-4M37 306.9h2M328 306.9h-2M37 361.8h2M328 361.8h-2M37 416.8h2M328 416.8h-2M37 471.7h2M328 471.7h-2M69.3 293.3v4M69.3 527.2v4M134 293.3v4M134 527.2v4M198.7 293.3v4M198.7 527.2v4M263.3 293.3v4M263.3 527.2v4M101.7 293.3v2M101.7 527.2v2M166.3 293.3v2M166.3 527.2v2M231 293.3v2M231 527.2v2M295.7 293.3v2M295.7 527.2v2M37 527.2v4M328 527.2v4" stroke="#111" stroke-width="1.2" fill="none"/>
<rect x="37" y="293.3" width="291" height="233.9" fill="none" stroke="#111" stroke-width="1.5"/>
<text x="69.3" y="546.6" font-size="14" text-anchor="middle">20</text>
<text x="134" y="546.6" font-size="14" text-anchor="middle">40</text>
<text x="198.7" y="546.6" font-size="14" text-anchor="middle">60</text>
<text x="263.3" y="546.6" font-size="14" text-anchor="middle">80</text>
<text x="328" y="546.6" font-size="14" text-anchor="middle">100</text>
<text x="182.5" y="562.5" font-size="14.4" text-anchor="middle">2θ (degrees)</text>
<text transform="translate(27.2,409.8) rotate(-90)" font-size="14.5" text-anchor="middle">Intensity (a.u.)</text></svg>
</body></html>
